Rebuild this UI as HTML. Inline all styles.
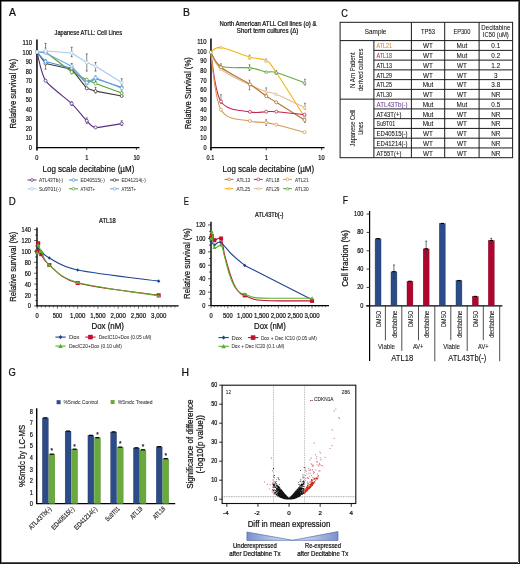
<!DOCTYPE html>
<html><head><meta charset="utf-8"><title>Figure</title>
<style>html,body{margin:0;padding:0;background:#fff;width:520px;height:564px;overflow:hidden;font-family:"Liberation Sans",sans-serif}</style></head><body>
<svg width="520" height="564" viewBox="0 0 520 564" font-family='"Liberation Sans", sans-serif' style="display:block;will-change:transform">
<rect x="0.00" y="0.00" width="520.00" height="564.00" fill="#fff"/>
<text x="9.00" y="15.70" font-size="10.4" text-anchor="start" fill="#111" stroke="#111" stroke-width="0.22" >A</text>
<text x="88.30" y="35.40" font-size="6.6" text-anchor="middle" fill="#111" stroke="#111" stroke-width="0.22" textLength="67.50" lengthAdjust="spacingAndGlyphs" >Japanese ATLL: Cell Lines</text>
<line x1="36.95" y1="39.60" x2="36.95" y2="150.60" stroke="#000" stroke-width="1.5" />
<line x1="36.40" y1="147.55" x2="139.50" y2="147.55" stroke="#000" stroke-width="1.3" />
<line x1="36.90" y1="147.50" x2="36.90" y2="150.00" stroke="#111" stroke-width="0.8" />
<line x1="86.75" y1="147.50" x2="86.75" y2="150.00" stroke="#111" stroke-width="0.8" />
<line x1="136.40" y1="147.50" x2="136.40" y2="150.00" stroke="#111" stroke-width="0.8" />
<text x="32.00" y="150.01" font-size="7.0" text-anchor="end" fill="#111" stroke="#111" stroke-width="0.22" textLength="3.13" lengthAdjust="spacingAndGlyphs" >0</text>
<text x="32.00" y="140.46" font-size="7.0" text-anchor="end" fill="#111" stroke="#111" stroke-width="0.22" textLength="6.26" lengthAdjust="spacingAndGlyphs" >10</text>
<text x="32.00" y="130.91" font-size="7.0" text-anchor="end" fill="#111" stroke="#111" stroke-width="0.22" textLength="6.26" lengthAdjust="spacingAndGlyphs" >20</text>
<text x="32.00" y="121.36" font-size="7.0" text-anchor="end" fill="#111" stroke="#111" stroke-width="0.22" textLength="6.26" lengthAdjust="spacingAndGlyphs" >30</text>
<text x="32.00" y="111.81" font-size="7.0" text-anchor="end" fill="#111" stroke="#111" stroke-width="0.22" textLength="6.26" lengthAdjust="spacingAndGlyphs" >40</text>
<text x="32.00" y="102.26" font-size="7.0" text-anchor="end" fill="#111" stroke="#111" stroke-width="0.22" textLength="6.26" lengthAdjust="spacingAndGlyphs" >50</text>
<text x="32.00" y="92.71" font-size="7.0" text-anchor="end" fill="#111" stroke="#111" stroke-width="0.22" textLength="6.26" lengthAdjust="spacingAndGlyphs" >60</text>
<text x="32.00" y="83.16" font-size="7.0" text-anchor="end" fill="#111" stroke="#111" stroke-width="0.22" textLength="6.26" lengthAdjust="spacingAndGlyphs" >70</text>
<text x="32.00" y="73.61" font-size="7.0" text-anchor="end" fill="#111" stroke="#111" stroke-width="0.22" textLength="6.26" lengthAdjust="spacingAndGlyphs" >80</text>
<text x="32.00" y="64.06" font-size="7.0" text-anchor="end" fill="#111" stroke="#111" stroke-width="0.22" textLength="6.26" lengthAdjust="spacingAndGlyphs" >90</text>
<text x="32.00" y="54.51" font-size="7.0" text-anchor="end" fill="#111" stroke="#111" stroke-width="0.22" textLength="9.39" lengthAdjust="spacingAndGlyphs" >100</text>
<text x="32.00" y="44.96" font-size="7.0" text-anchor="end" fill="#111" stroke="#111" stroke-width="0.22" textLength="9.39" lengthAdjust="spacingAndGlyphs" >110</text>
<text x="36.90" y="160.01" font-size="7.0" text-anchor="middle" fill="#111" stroke="#111" stroke-width="0.22" textLength="3.13" lengthAdjust="spacingAndGlyphs" >0</text>
<text x="86.75" y="160.01" font-size="7.0" text-anchor="middle" fill="#111" stroke="#111" stroke-width="0.22" textLength="3.13" lengthAdjust="spacingAndGlyphs" >1</text>
<text x="136.60" y="160.01" font-size="7.0" text-anchor="middle" fill="#111" stroke="#111" stroke-width="0.22" textLength="6.26" lengthAdjust="spacingAndGlyphs" >10</text>
<text x="88.40" y="171.70" font-size="9.4" text-anchor="middle" fill="#111" stroke="#111" stroke-width="0.22" textLength="91.80" lengthAdjust="spacingAndGlyphs" >Log scale decitabine (µM)</text>
<text x="0" y="0" font-size="8.8" text-anchor="middle" fill="#111" stroke="#111" stroke-width="0.22" textLength="69.70" lengthAdjust="spacingAndGlyphs" transform="translate(16.40 93.65) rotate(-90)">Relative survival (%)</text>
<line x1="45.55" y1="43.41" x2="45.55" y2="48.18" stroke="#333" stroke-width="0.6" />
<line x1="44.55" y1="43.41" x2="46.55" y2="43.41" stroke="#333" stroke-width="0.6" />
<line x1="44.55" y1="48.18" x2="46.55" y2="48.18" stroke="#333" stroke-width="0.6" />
<line x1="45.55" y1="59.64" x2="45.55" y2="69.19" stroke="#333" stroke-width="0.6" />
<line x1="44.55" y1="59.64" x2="46.55" y2="59.64" stroke="#333" stroke-width="0.6" />
<line x1="44.55" y1="69.19" x2="46.55" y2="69.19" stroke="#333" stroke-width="0.6" />
<line x1="71.70" y1="47.23" x2="71.70" y2="56.78" stroke="#333" stroke-width="0.6" />
<line x1="70.70" y1="47.23" x2="72.70" y2="47.23" stroke="#333" stroke-width="0.6" />
<line x1="70.70" y1="56.78" x2="72.70" y2="56.78" stroke="#333" stroke-width="0.6" />
<line x1="71.70" y1="63.46" x2="71.70" y2="73.97" stroke="#333" stroke-width="0.6" />
<line x1="70.70" y1="63.46" x2="72.70" y2="63.46" stroke="#333" stroke-width="0.6" />
<line x1="70.70" y1="73.97" x2="72.70" y2="73.97" stroke="#333" stroke-width="0.6" />
<line x1="86.75" y1="53.91" x2="86.75" y2="71.10" stroke="#333" stroke-width="0.6" />
<line x1="85.75" y1="53.91" x2="87.75" y2="53.91" stroke="#333" stroke-width="0.6" />
<line x1="85.75" y1="71.10" x2="87.75" y2="71.10" stroke="#333" stroke-width="0.6" />
<line x1="95.55" y1="62.51" x2="95.55" y2="71.10" stroke="#333" stroke-width="0.6" />
<line x1="94.55" y1="62.51" x2="96.55" y2="62.51" stroke="#333" stroke-width="0.6" />
<line x1="94.55" y1="71.10" x2="96.55" y2="71.10" stroke="#333" stroke-width="0.6" />
<line x1="95.55" y1="75.88" x2="95.55" y2="81.61" stroke="#333" stroke-width="0.6" />
<line x1="94.55" y1="75.88" x2="96.55" y2="75.88" stroke="#333" stroke-width="0.6" />
<line x1="94.55" y1="81.61" x2="96.55" y2="81.61" stroke="#333" stroke-width="0.6" />
<line x1="95.55" y1="87.34" x2="95.55" y2="93.06" stroke="#333" stroke-width="0.6" />
<line x1="94.55" y1="87.34" x2="96.55" y2="87.34" stroke="#333" stroke-width="0.6" />
<line x1="94.55" y1="93.06" x2="96.55" y2="93.06" stroke="#333" stroke-width="0.6" />
<line x1="121.70" y1="78.74" x2="121.70" y2="86.38" stroke="#333" stroke-width="0.6" />
<line x1="120.70" y1="78.74" x2="122.70" y2="78.74" stroke="#333" stroke-width="0.6" />
<line x1="120.70" y1="86.38" x2="122.70" y2="86.38" stroke="#333" stroke-width="0.6" />
<line x1="121.70" y1="87.34" x2="121.70" y2="92.11" stroke="#333" stroke-width="0.6" />
<line x1="120.70" y1="87.34" x2="122.70" y2="87.34" stroke="#333" stroke-width="0.6" />
<line x1="120.70" y1="92.11" x2="122.70" y2="92.11" stroke="#333" stroke-width="0.6" />
<line x1="86.75" y1="117.89" x2="86.75" y2="123.62" stroke="#333" stroke-width="0.6" />
<line x1="85.75" y1="117.89" x2="87.75" y2="117.89" stroke="#333" stroke-width="0.6" />
<line x1="85.75" y1="123.62" x2="87.75" y2="123.62" stroke="#333" stroke-width="0.6" />
<line x1="71.70" y1="101.66" x2="71.70" y2="105.48" stroke="#333" stroke-width="0.6" />
<line x1="70.70" y1="101.66" x2="72.70" y2="101.66" stroke="#333" stroke-width="0.6" />
<line x1="70.70" y1="105.48" x2="72.70" y2="105.48" stroke="#333" stroke-width="0.6" />
<line x1="121.70" y1="120.76" x2="121.70" y2="125.53" stroke="#333" stroke-width="0.6" />
<line x1="120.70" y1="120.76" x2="122.70" y2="120.76" stroke="#333" stroke-width="0.6" />
<line x1="120.70" y1="125.53" x2="122.70" y2="125.53" stroke="#333" stroke-width="0.6" />
<path d="M36.90,52.00 C37.91,55.34 41.49,74.63 45.55,80.65 C49.61,86.67 66.89,98.89 71.70,103.57 C76.50,108.25 83.97,117.97 86.75,120.76 C89.53,123.55 91.48,127.11 95.55,127.44 C99.63,127.78 118.65,124.07 121.70,123.62" stroke="#5a2d82" stroke-width="1.1" fill="none" stroke-linejoin="round" />
<circle cx="36.90" cy="52.00" r="1.5" fill="#fff" stroke="#5a2d82" stroke-width="0.8"/>
<circle cx="45.55" cy="80.65" r="1.5" fill="#fff" stroke="#5a2d82" stroke-width="0.8"/>
<circle cx="71.70" cy="103.57" r="1.5" fill="#fff" stroke="#5a2d82" stroke-width="0.8"/>
<circle cx="86.75" cy="120.76" r="1.5" fill="#fff" stroke="#5a2d82" stroke-width="0.8"/>
<circle cx="95.55" cy="127.44" r="1.5" fill="#fff" stroke="#5a2d82" stroke-width="0.8"/>
<circle cx="121.70" cy="123.62" r="1.5" fill="#fff" stroke="#5a2d82" stroke-width="0.8"/>
<path d="M36.90,52.00 L45.55,63.46 L71.70,69.19 L86.75,88.29 L95.55,91.16 L121.70,95.93" stroke="#3a3a3a" stroke-width="1.1" fill="none" stroke-linejoin="round" />
<circle cx="36.90" cy="52.00" r="1.5" fill="#fff" stroke="#3a3a3a" stroke-width="0.8"/>
<circle cx="45.55" cy="63.46" r="1.5" fill="#fff" stroke="#3a3a3a" stroke-width="0.8"/>
<circle cx="71.70" cy="69.19" r="1.5" fill="#fff" stroke="#3a3a3a" stroke-width="0.8"/>
<circle cx="86.75" cy="88.29" r="1.5" fill="#fff" stroke="#3a3a3a" stroke-width="0.8"/>
<circle cx="95.55" cy="91.16" r="1.5" fill="#fff" stroke="#3a3a3a" stroke-width="0.8"/>
<circle cx="121.70" cy="95.93" r="1.5" fill="#fff" stroke="#3a3a3a" stroke-width="0.8"/>
<path d="M36.90,52.00 L45.55,52.00 L71.70,72.06 L86.75,79.70 L95.55,83.52 L121.70,93.06" stroke="#5aa02c" stroke-width="1.1" fill="none" stroke-linejoin="round" />
<circle cx="36.90" cy="52.00" r="1.5" fill="#fff" stroke="#5aa02c" stroke-width="0.8"/>
<circle cx="45.55" cy="52.00" r="1.5" fill="#fff" stroke="#5aa02c" stroke-width="0.8"/>
<circle cx="71.70" cy="72.06" r="1.5" fill="#fff" stroke="#5aa02c" stroke-width="0.8"/>
<circle cx="86.75" cy="79.70" r="1.5" fill="#fff" stroke="#5aa02c" stroke-width="0.8"/>
<circle cx="95.55" cy="83.52" r="1.5" fill="#fff" stroke="#5aa02c" stroke-width="0.8"/>
<circle cx="121.70" cy="93.06" r="1.5" fill="#fff" stroke="#5aa02c" stroke-width="0.8"/>
<path d="M36.90,52.00 L45.55,61.55 L71.70,68.23 L86.75,83.52 L95.55,78.74 L121.70,87.34" stroke="#4a8fd0" stroke-width="1.1" fill="none" stroke-linejoin="round" />
<circle cx="36.90" cy="52.00" r="1.5" fill="#fff" stroke="#4a8fd0" stroke-width="0.8"/>
<circle cx="45.55" cy="61.55" r="1.5" fill="#fff" stroke="#4a8fd0" stroke-width="0.8"/>
<circle cx="71.70" cy="68.23" r="1.5" fill="#fff" stroke="#4a8fd0" stroke-width="0.8"/>
<circle cx="86.75" cy="83.52" r="1.5" fill="#fff" stroke="#4a8fd0" stroke-width="0.8"/>
<circle cx="95.55" cy="78.74" r="1.5" fill="#fff" stroke="#4a8fd0" stroke-width="0.8"/>
<circle cx="121.70" cy="87.34" r="1.5" fill="#fff" stroke="#4a8fd0" stroke-width="0.8"/>
<path d="M36.90,52.00 L45.55,52.95 L71.70,66.33 L86.75,82.56 L95.55,77.78 L121.70,88.29" stroke="#6fa8dc" stroke-width="1.1" fill="none" stroke-linejoin="round" />
<circle cx="36.90" cy="52.00" r="1.5" fill="#fff" stroke="#6fa8dc" stroke-width="0.8"/>
<circle cx="45.55" cy="52.95" r="1.5" fill="#fff" stroke="#6fa8dc" stroke-width="0.8"/>
<circle cx="71.70" cy="66.33" r="1.5" fill="#fff" stroke="#6fa8dc" stroke-width="0.8"/>
<circle cx="86.75" cy="82.56" r="1.5" fill="#fff" stroke="#6fa8dc" stroke-width="0.8"/>
<circle cx="95.55" cy="77.78" r="1.5" fill="#fff" stroke="#6fa8dc" stroke-width="0.8"/>
<circle cx="121.70" cy="88.29" r="1.5" fill="#fff" stroke="#6fa8dc" stroke-width="0.8"/>
<path d="M36.90,52.00 L45.55,51.05 L71.70,52.95 L86.75,62.51 L95.55,66.33 L121.70,82.56" stroke="#a8cbea" stroke-width="1.1" fill="none" stroke-linejoin="round" />
<circle cx="36.90" cy="52.00" r="1.5" fill="#fff" stroke="#a8cbea" stroke-width="0.8"/>
<circle cx="45.55" cy="51.05" r="1.5" fill="#fff" stroke="#a8cbea" stroke-width="0.8"/>
<circle cx="71.70" cy="52.95" r="1.5" fill="#fff" stroke="#a8cbea" stroke-width="0.8"/>
<circle cx="86.75" cy="62.51" r="1.5" fill="#fff" stroke="#a8cbea" stroke-width="0.8"/>
<circle cx="95.55" cy="66.33" r="1.5" fill="#fff" stroke="#a8cbea" stroke-width="0.8"/>
<circle cx="121.70" cy="82.56" r="1.5" fill="#fff" stroke="#a8cbea" stroke-width="0.8"/>
<line x1="27.50" y1="180.00" x2="36.50" y2="180.00" stroke="#5a2d82" stroke-width="1.0" />
<circle cx="32.00" cy="180.00" r="1.4" fill="#fff" stroke="#5a2d82" stroke-width="0.7"/>
<text x="39.00" y="182.06" font-size="5.2" text-anchor="start" fill="#333" stroke="#333" stroke-width="0.05" textLength="24.20" lengthAdjust="spacingAndGlyphs" >ATL43Tb(-)</text>
<line x1="69.00" y1="180.00" x2="78.00" y2="180.00" stroke="#4a8fd0" stroke-width="1.0" />
<circle cx="73.50" cy="180.00" r="1.4" fill="#fff" stroke="#4a8fd0" stroke-width="0.7"/>
<text x="80.50" y="182.06" font-size="5.2" text-anchor="start" fill="#333" stroke="#333" stroke-width="0.05" textLength="24.20" lengthAdjust="spacingAndGlyphs" >ED40515(-)</text>
<line x1="110.00" y1="180.00" x2="119.00" y2="180.00" stroke="#3a3a3a" stroke-width="1.0" />
<circle cx="114.50" cy="180.00" r="1.4" fill="#fff" stroke="#3a3a3a" stroke-width="0.7"/>
<text x="121.50" y="182.06" font-size="5.2" text-anchor="start" fill="#333" stroke="#333" stroke-width="0.05" textLength="24.20" lengthAdjust="spacingAndGlyphs" >ED41214(-)</text>
<line x1="27.50" y1="188.80" x2="36.50" y2="188.80" stroke="#a8cbea" stroke-width="1.0" />
<circle cx="32.00" cy="188.80" r="1.4" fill="#fff" stroke="#a8cbea" stroke-width="0.7"/>
<text x="39.00" y="190.86" font-size="5.2" text-anchor="start" fill="#333" stroke="#333" stroke-width="0.05" textLength="21.78" lengthAdjust="spacingAndGlyphs" >Su9T01(-)</text>
<line x1="69.00" y1="188.80" x2="78.00" y2="188.80" stroke="#5aa02c" stroke-width="1.0" />
<circle cx="73.50" cy="188.80" r="1.4" fill="#fff" stroke="#5aa02c" stroke-width="0.7"/>
<text x="80.50" y="190.86" font-size="5.2" text-anchor="start" fill="#333" stroke="#333" stroke-width="0.05" textLength="14.52" lengthAdjust="spacingAndGlyphs" >AT43T+</text>
<line x1="110.00" y1="188.80" x2="119.00" y2="188.80" stroke="#6fa8dc" stroke-width="1.0" />
<circle cx="114.50" cy="188.80" r="1.4" fill="#fff" stroke="#6fa8dc" stroke-width="0.7"/>
<text x="121.50" y="190.86" font-size="5.2" text-anchor="start" fill="#333" stroke="#333" stroke-width="0.05" textLength="14.52" lengthAdjust="spacingAndGlyphs" >AT55T+</text>
<text x="183.00" y="16.30" font-size="10.4" text-anchor="start" fill="#111" stroke="#111" stroke-width="0.22" >B</text>
<text x="268.00" y="26.40" font-size="6.4" text-anchor="middle" fill="#111" stroke="#111" stroke-width="0.22" textLength="97.00" lengthAdjust="spacingAndGlyphs" >North American ATLL Cell lines (o) &amp;</text>
<text x="267.60" y="33.40" font-size="6.4" text-anchor="middle" fill="#111" stroke="#111" stroke-width="0.22" textLength="61.60" lengthAdjust="spacingAndGlyphs" >Short term cultures (Δ)</text>
<line x1="210.95" y1="38.60" x2="210.95" y2="150.20" stroke="#000" stroke-width="1.5" />
<line x1="210.50" y1="147.60" x2="324.50" y2="147.60" stroke="#000" stroke-width="1.3" />
<line x1="211.00" y1="147.60" x2="211.00" y2="150.20" stroke="#111" stroke-width="0.8" />
<line x1="266.20" y1="147.60" x2="266.20" y2="150.20" stroke="#111" stroke-width="0.8" />
<line x1="321.70" y1="147.60" x2="321.70" y2="150.20" stroke="#111" stroke-width="0.8" />
<text x="206.60" y="150.11" font-size="7.0" text-anchor="end" fill="#111" stroke="#111" stroke-width="0.22" textLength="3.13" lengthAdjust="spacingAndGlyphs" >0</text>
<text x="206.60" y="140.48" font-size="7.0" text-anchor="end" fill="#111" stroke="#111" stroke-width="0.22" textLength="6.26" lengthAdjust="spacingAndGlyphs" >10</text>
<text x="206.60" y="130.85" font-size="7.0" text-anchor="end" fill="#111" stroke="#111" stroke-width="0.22" textLength="6.26" lengthAdjust="spacingAndGlyphs" >20</text>
<text x="206.60" y="121.22" font-size="7.0" text-anchor="end" fill="#111" stroke="#111" stroke-width="0.22" textLength="6.26" lengthAdjust="spacingAndGlyphs" >30</text>
<text x="206.60" y="111.59" font-size="7.0" text-anchor="end" fill="#111" stroke="#111" stroke-width="0.22" textLength="6.26" lengthAdjust="spacingAndGlyphs" >40</text>
<text x="206.60" y="101.96" font-size="7.0" text-anchor="end" fill="#111" stroke="#111" stroke-width="0.22" textLength="6.26" lengthAdjust="spacingAndGlyphs" >50</text>
<text x="206.60" y="92.33" font-size="7.0" text-anchor="end" fill="#111" stroke="#111" stroke-width="0.22" textLength="6.26" lengthAdjust="spacingAndGlyphs" >60</text>
<text x="206.60" y="82.70" font-size="7.0" text-anchor="end" fill="#111" stroke="#111" stroke-width="0.22" textLength="6.26" lengthAdjust="spacingAndGlyphs" >70</text>
<text x="206.60" y="73.07" font-size="7.0" text-anchor="end" fill="#111" stroke="#111" stroke-width="0.22" textLength="6.26" lengthAdjust="spacingAndGlyphs" >80</text>
<text x="206.60" y="63.44" font-size="7.0" text-anchor="end" fill="#111" stroke="#111" stroke-width="0.22" textLength="6.26" lengthAdjust="spacingAndGlyphs" >90</text>
<text x="206.60" y="53.81" font-size="7.0" text-anchor="end" fill="#111" stroke="#111" stroke-width="0.22" textLength="9.39" lengthAdjust="spacingAndGlyphs" >100</text>
<text x="206.60" y="44.18" font-size="7.0" text-anchor="end" fill="#111" stroke="#111" stroke-width="0.22" textLength="9.39" lengthAdjust="spacingAndGlyphs" >110</text>
<text x="210.40" y="159.71" font-size="7.0" text-anchor="middle" fill="#111" stroke="#111" stroke-width="0.22" textLength="7.66" lengthAdjust="spacingAndGlyphs" >0.1</text>
<text x="266.20" y="159.71" font-size="7.0" text-anchor="middle" fill="#111" stroke="#111" stroke-width="0.22" textLength="3.13" lengthAdjust="spacingAndGlyphs" >1</text>
<text x="321.50" y="159.71" font-size="7.0" text-anchor="middle" fill="#111" stroke="#111" stroke-width="0.22" textLength="6.26" lengthAdjust="spacingAndGlyphs" >10</text>
<text x="268.30" y="171.70" font-size="9.4" text-anchor="middle" fill="#111" stroke="#111" stroke-width="0.22" textLength="91.50" lengthAdjust="spacingAndGlyphs" >Log scale decitabine (µM)</text>
<text x="0" y="0" font-size="8.8" text-anchor="middle" fill="#111" stroke="#111" stroke-width="0.22" textLength="72.30" lengthAdjust="spacingAndGlyphs" transform="translate(191.20 93.20) rotate(-90)">Relative Survival (%)</text>
<line x1="220.95" y1="94.63" x2="220.95" y2="103.30" stroke="#444" stroke-width="0.6" />
<line x1="220.05" y1="94.63" x2="221.85" y2="94.63" stroke="#444" stroke-width="0.6" />
<line x1="220.05" y1="103.30" x2="221.85" y2="103.30" stroke="#444" stroke-width="0.6" />
<line x1="249.49" y1="80.19" x2="249.49" y2="89.82" stroke="#444" stroke-width="0.6" />
<line x1="248.59" y1="80.19" x2="250.39" y2="80.19" stroke="#444" stroke-width="0.6" />
<line x1="248.59" y1="89.82" x2="250.39" y2="89.82" stroke="#444" stroke-width="0.6" />
<line x1="249.49" y1="55.15" x2="249.49" y2="59.00" stroke="#444" stroke-width="0.6" />
<line x1="248.59" y1="55.15" x2="250.39" y2="55.15" stroke="#444" stroke-width="0.6" />
<line x1="248.59" y1="59.00" x2="250.39" y2="59.00" stroke="#444" stroke-width="0.6" />
<line x1="249.49" y1="64.78" x2="249.49" y2="70.56" stroke="#444" stroke-width="0.6" />
<line x1="248.59" y1="64.78" x2="250.39" y2="64.78" stroke="#444" stroke-width="0.6" />
<line x1="248.59" y1="70.56" x2="250.39" y2="70.56" stroke="#444" stroke-width="0.6" />
<line x1="266.20" y1="87.89" x2="266.20" y2="94.63" stroke="#444" stroke-width="0.6" />
<line x1="265.30" y1="87.89" x2="267.10" y2="87.89" stroke="#444" stroke-width="0.6" />
<line x1="265.30" y1="94.63" x2="267.10" y2="94.63" stroke="#444" stroke-width="0.6" />
<line x1="266.20" y1="119.67" x2="266.20" y2="125.45" stroke="#444" stroke-width="0.6" />
<line x1="265.30" y1="119.67" x2="267.10" y2="119.67" stroke="#444" stroke-width="0.6" />
<line x1="265.30" y1="125.45" x2="267.10" y2="125.45" stroke="#444" stroke-width="0.6" />
<line x1="304.99" y1="79.23" x2="304.99" y2="85.00" stroke="#444" stroke-width="0.6" />
<line x1="304.09" y1="79.23" x2="305.89" y2="79.23" stroke="#444" stroke-width="0.6" />
<line x1="304.09" y1="85.00" x2="305.89" y2="85.00" stroke="#444" stroke-width="0.6" />
<line x1="304.99" y1="103.30" x2="304.99" y2="109.08" stroke="#444" stroke-width="0.6" />
<line x1="304.09" y1="103.30" x2="305.89" y2="103.30" stroke="#444" stroke-width="0.6" />
<line x1="304.09" y1="109.08" x2="305.89" y2="109.08" stroke="#444" stroke-width="0.6" />
<line x1="304.99" y1="115.82" x2="304.99" y2="122.56" stroke="#444" stroke-width="0.6" />
<line x1="304.09" y1="115.82" x2="305.89" y2="115.82" stroke="#444" stroke-width="0.6" />
<line x1="304.09" y1="122.56" x2="305.89" y2="122.56" stroke="#444" stroke-width="0.6" />
<line x1="276.29" y1="70.56" x2="276.29" y2="74.41" stroke="#444" stroke-width="0.6" />
<line x1="275.39" y1="70.56" x2="277.19" y2="70.56" stroke="#444" stroke-width="0.6" />
<line x1="275.39" y1="74.41" x2="277.19" y2="74.41" stroke="#444" stroke-width="0.6" />
<line x1="266.20" y1="59.00" x2="266.20" y2="61.89" stroke="#444" stroke-width="0.6" />
<line x1="265.30" y1="59.00" x2="267.10" y2="59.00" stroke="#444" stroke-width="0.6" />
<line x1="265.30" y1="61.89" x2="267.10" y2="61.89" stroke="#444" stroke-width="0.6" />
<line x1="220.95" y1="63.82" x2="220.95" y2="67.67" stroke="#444" stroke-width="0.6" />
<line x1="220.05" y1="63.82" x2="221.85" y2="63.82" stroke="#444" stroke-width="0.6" />
<line x1="220.05" y1="67.67" x2="221.85" y2="67.67" stroke="#444" stroke-width="0.6" />
<path d="M210.70,52.26 C212.41,51.46 214.41,46.65 220.95,47.45 C227.50,48.25 242.43,54.90 249.97,57.08 C257.51,59.26 261.81,57.98 266.20,60.54 C270.59,63.11 269.91,63.11 276.29,72.49 C282.68,81.86 299.80,109.40 304.51,116.78" stroke="#f2b417" stroke-width="1.1" fill="none" stroke-linejoin="round" />
<path d="M219.35,48.65 L220.95,45.85 L222.55,48.65 Z" fill="#fff" stroke="#f2b417" stroke-width="0.7"/>
<path d="M248.37,58.28 L249.97,55.48 L251.57,58.28 Z" fill="#fff" stroke="#f2b417" stroke-width="0.7"/>
<path d="M264.60,61.74 L266.20,58.94 L267.80,61.74 Z" fill="#fff" stroke="#f2b417" stroke-width="0.7"/>
<path d="M274.69,73.69 L276.29,70.89 L277.89,73.69 Z" fill="#fff" stroke="#f2b417" stroke-width="0.7"/>
<path d="M302.91,117.98 L304.51,115.18 L306.11,117.98 Z" fill="#fff" stroke="#f2b417" stroke-width="0.7"/>
<path d="M210.70,52.26 C212.41,54.61 214.41,63.72 220.95,66.32 C227.50,68.92 242.43,66.93 249.97,67.86 C257.51,68.79 261.81,71.14 266.20,71.91 C270.59,72.68 269.91,70.67 276.29,72.49 C282.68,74.30 299.80,81.07 304.51,82.79" stroke="#62ad3e" stroke-width="1.1" fill="none" stroke-linejoin="round" />
<path d="M219.35,67.52 L220.95,64.72 L222.55,67.52 Z" fill="#fff" stroke="#62ad3e" stroke-width="0.7"/>
<path d="M248.37,69.06 L249.97,66.26 L251.57,69.06 Z" fill="#fff" stroke="#62ad3e" stroke-width="0.7"/>
<path d="M264.60,73.11 L266.20,70.31 L267.80,73.11 Z" fill="#fff" stroke="#62ad3e" stroke-width="0.7"/>
<path d="M274.69,73.69 L276.29,70.89 L277.89,73.69 Z" fill="#fff" stroke="#62ad3e" stroke-width="0.7"/>
<path d="M302.91,83.99 L304.51,81.19 L306.11,83.99 Z" fill="#fff" stroke="#62ad3e" stroke-width="0.7"/>
<path d="M210.70,52.26 C212.41,55.09 214.41,63.75 220.95,69.21 C227.50,74.67 242.43,81.25 249.97,85.00 C257.51,88.76 261.81,90.22 266.20,91.75 C270.59,93.27 269.91,91.52 276.29,94.15 C282.68,96.79 299.80,105.31 304.51,107.54" stroke="#e2bc8f" stroke-width="1.1" fill="none" stroke-linejoin="round" />
<path d="M219.35,70.41 L220.95,67.61 L222.55,70.41 Z" fill="#fff" stroke="#e2bc8f" stroke-width="0.7"/>
<path d="M248.37,86.20 L249.97,83.41 L251.57,86.20 Z" fill="#fff" stroke="#e2bc8f" stroke-width="0.7"/>
<path d="M264.60,92.95 L266.20,90.15 L267.80,92.95 Z" fill="#fff" stroke="#e2bc8f" stroke-width="0.7"/>
<path d="M274.69,95.35 L276.29,92.55 L277.89,95.35 Z" fill="#fff" stroke="#e2bc8f" stroke-width="0.7"/>
<path d="M302.91,108.74 L304.51,105.94 L306.11,108.74 Z" fill="#fff" stroke="#e2bc8f" stroke-width="0.7"/>
<path d="M210.70,52.26 C212.41,54.77 214.41,61.94 220.95,67.29 C227.50,72.63 242.43,79.53 249.97,84.33 C257.51,89.13 261.81,93.08 266.20,96.08 C270.59,99.08 269.91,98.36 276.29,102.34 C282.68,106.32 299.80,117.02 304.51,119.96" stroke="#b57330" stroke-width="1.1" fill="none" stroke-linejoin="round" />
<circle cx="220.95" cy="67.29" r="1.5" fill="#fff" stroke="#b57330" stroke-width="0.8"/>
<circle cx="249.97" cy="84.33" r="1.5" fill="#fff" stroke="#b57330" stroke-width="0.8"/>
<circle cx="266.20" cy="96.08" r="1.5" fill="#fff" stroke="#b57330" stroke-width="0.8"/>
<circle cx="276.29" cy="102.34" r="1.5" fill="#fff" stroke="#b57330" stroke-width="0.8"/>
<circle cx="304.51" cy="119.96" r="1.5" fill="#fff" stroke="#b57330" stroke-width="0.8"/>
<path d="M210.70,52.26 C212.41,60.46 214.41,91.54 220.95,101.47 C227.50,111.41 242.43,110.17 249.97,111.87 C257.51,113.57 261.81,111.71 266.20,111.68 C270.59,111.65 269.91,111.18 276.29,111.68 C282.68,112.18 299.80,114.17 304.51,114.67" stroke="#c4264f" stroke-width="1.1" fill="none" stroke-linejoin="round" />
<circle cx="220.95" cy="101.47" r="1.5" fill="#fff" stroke="#c4264f" stroke-width="0.8"/>
<circle cx="249.97" cy="111.87" r="1.5" fill="#fff" stroke="#c4264f" stroke-width="0.8"/>
<circle cx="266.20" cy="111.68" r="1.5" fill="#fff" stroke="#c4264f" stroke-width="0.8"/>
<circle cx="276.29" cy="111.68" r="1.5" fill="#fff" stroke="#c4264f" stroke-width="0.8"/>
<circle cx="304.51" cy="114.67" r="1.5" fill="#fff" stroke="#c4264f" stroke-width="0.8"/>
<path d="M210.70,52.26 C212.41,61.84 214.41,98.29 220.95,109.75 C227.50,121.21 242.43,118.89 249.97,121.02 C257.51,123.16 261.81,121.95 266.20,122.56 C270.59,123.17 269.91,123.06 276.29,124.68 C282.68,126.30 299.80,131.02 304.51,132.29" stroke="#d49c55" stroke-width="1.1" fill="none" stroke-linejoin="round" />
<circle cx="220.95" cy="109.75" r="1.5" fill="#fff" stroke="#d49c55" stroke-width="0.8"/>
<circle cx="249.97" cy="121.02" r="1.5" fill="#fff" stroke="#d49c55" stroke-width="0.8"/>
<circle cx="266.20" cy="122.56" r="1.5" fill="#fff" stroke="#d49c55" stroke-width="0.8"/>
<circle cx="276.29" cy="124.68" r="1.5" fill="#fff" stroke="#d49c55" stroke-width="0.8"/>
<circle cx="304.51" cy="132.29" r="1.5" fill="#fff" stroke="#d49c55" stroke-width="0.8"/>
<circle cx="210.70" cy="52.26" r="1.5" fill="#fff" stroke="#62ad3e" stroke-width="0.8"/>
<line x1="224.60" y1="179.40" x2="233.60" y2="179.40" stroke="#b57330" stroke-width="1.0" />
<circle cx="229.10" cy="179.40" r="1.4" fill="#fff" stroke="#b57330" stroke-width="0.7"/>
<text x="236.60" y="181.73" font-size="5.4" text-anchor="start" fill="#333" stroke="#333" stroke-width="0.05" textLength="13.60" lengthAdjust="spacingAndGlyphs" >ATL13</text>
<line x1="253.80" y1="179.40" x2="262.80" y2="179.40" stroke="#c4264f" stroke-width="1.0" />
<circle cx="258.30" cy="179.40" r="1.4" fill="#fff" stroke="#c4264f" stroke-width="0.7"/>
<text x="265.80" y="181.73" font-size="5.4" text-anchor="start" fill="#333" stroke="#333" stroke-width="0.05" textLength="13.60" lengthAdjust="spacingAndGlyphs" >ATL18</text>
<line x1="283.00" y1="179.40" x2="292.00" y2="179.40" stroke="#d49c55" stroke-width="1.0" />
<circle cx="287.50" cy="179.40" r="1.4" fill="#fff" stroke="#d49c55" stroke-width="0.7"/>
<text x="295.00" y="181.73" font-size="5.4" text-anchor="start" fill="#333" stroke="#333" stroke-width="0.05" textLength="13.60" lengthAdjust="spacingAndGlyphs" >ATL21</text>
<line x1="224.60" y1="188.60" x2="233.60" y2="188.60" stroke="#f2b417" stroke-width="1.0" />
<path d="M227.50,189.80 L229.10,187.00 L230.70,189.80 Z" fill="#fff" stroke="#f2b417" stroke-width="0.6"/>
<text x="236.60" y="190.93" font-size="5.4" text-anchor="start" fill="#333" stroke="#333" stroke-width="0.05" textLength="13.60" lengthAdjust="spacingAndGlyphs" >ATL25</text>
<line x1="253.80" y1="188.60" x2="262.80" y2="188.60" stroke="#e2bc8f" stroke-width="1.0" />
<path d="M256.70,189.80 L258.30,187.00 L259.90,189.80 Z" fill="#fff" stroke="#e2bc8f" stroke-width="0.6"/>
<text x="265.80" y="190.93" font-size="5.4" text-anchor="start" fill="#333" stroke="#333" stroke-width="0.05" textLength="13.60" lengthAdjust="spacingAndGlyphs" >ATL29</text>
<line x1="283.00" y1="188.60" x2="292.00" y2="188.60" stroke="#62ad3e" stroke-width="1.0" />
<path d="M285.90,189.80 L287.50,187.00 L289.10,189.80 Z" fill="#fff" stroke="#62ad3e" stroke-width="0.6"/>
<text x="295.00" y="190.93" font-size="5.4" text-anchor="start" fill="#333" stroke="#333" stroke-width="0.05" textLength="13.60" lengthAdjust="spacingAndGlyphs" >ATL30</text>
<text x="341.20" y="16.50" font-size="10.4" text-anchor="start" fill="#111" stroke="#111" stroke-width="0.22" textLength="6.60" lengthAdjust="spacingAndGlyphs" >C</text>
<rect x="340.1" y="22.3" width="172.50" height="135.40" fill="none" stroke="#1a1a1a" stroke-width="1.0"/>
<line x1="340.10" y1="40.60" x2="512.60" y2="40.60" stroke="#1a1a1a" stroke-width="1.0" />
<line x1="411.40" y1="22.30" x2="411.40" y2="157.70" stroke="#1a1a1a" stroke-width="1.0" />
<line x1="444.70" y1="22.30" x2="444.70" y2="157.70" stroke="#1a1a1a" stroke-width="1.0" />
<line x1="479.10" y1="22.30" x2="479.10" y2="157.70" stroke="#1a1a1a" stroke-width="1.0" />
<line x1="373.90" y1="40.60" x2="373.90" y2="157.70" stroke="#1a1a1a" stroke-width="1.0" />
<line x1="373.90" y1="50.36" x2="512.60" y2="50.36" stroke="#1a1a1a" stroke-width="1.0" />
<line x1="373.90" y1="60.12" x2="512.60" y2="60.12" stroke="#1a1a1a" stroke-width="1.0" />
<line x1="373.90" y1="69.88" x2="512.60" y2="69.88" stroke="#1a1a1a" stroke-width="1.0" />
<line x1="373.90" y1="79.63" x2="512.60" y2="79.63" stroke="#1a1a1a" stroke-width="1.0" />
<line x1="373.90" y1="89.39" x2="512.60" y2="89.39" stroke="#1a1a1a" stroke-width="1.0" />
<line x1="340.10" y1="99.15" x2="512.60" y2="99.15" stroke="#1a1a1a" stroke-width="1.0" />
<line x1="373.90" y1="108.91" x2="512.60" y2="108.91" stroke="#1a1a1a" stroke-width="1.0" />
<line x1="373.90" y1="118.67" x2="512.60" y2="118.67" stroke="#1a1a1a" stroke-width="1.0" />
<line x1="373.90" y1="128.42" x2="512.60" y2="128.42" stroke="#1a1a1a" stroke-width="1.0" />
<line x1="373.90" y1="138.18" x2="512.60" y2="138.18" stroke="#1a1a1a" stroke-width="1.0" />
<line x1="373.90" y1="147.94" x2="512.60" y2="147.94" stroke="#1a1a1a" stroke-width="1.0" />
<text x="375.60" y="33.86" font-size="6.6" text-anchor="middle" fill="#111" stroke="#111" stroke-width="0.06" textLength="21.50" lengthAdjust="spacingAndGlyphs" >Sample</text>
<text x="428.00" y="33.86" font-size="6.6" text-anchor="middle" fill="#111" stroke="#111" stroke-width="0.06" textLength="14.00" lengthAdjust="spacingAndGlyphs" >TP53</text>
<text x="461.90" y="33.86" font-size="6.6" text-anchor="middle" fill="#111" stroke="#111" stroke-width="0.06" textLength="17.00" lengthAdjust="spacingAndGlyphs" >EP300</text>
<text x="495.80" y="30.09" font-size="6.4" text-anchor="middle" fill="#111" stroke="#111" stroke-width="0.06" textLength="29.00" lengthAdjust="spacingAndGlyphs" >Decitabine</text>
<text x="495.80" y="36.99" font-size="6.4" text-anchor="middle" fill="#111" stroke="#111" stroke-width="0.06" textLength="26.00" lengthAdjust="spacingAndGlyphs" >IC50 (uM)</text>
<text x="376.60" y="48.37" font-size="6.4" text-anchor="start" fill="#d98a2b" stroke="#d98a2b" stroke-width="0.06" textLength="15.50" lengthAdjust="spacingAndGlyphs" >ATL21</text>
<text x="428.00" y="48.37" font-size="6.4" text-anchor="middle" fill="#111" stroke="#111" stroke-width="0.06" >WT</text>
<text x="461.90" y="48.37" font-size="6.4" text-anchor="middle" fill="#111" stroke="#111" stroke-width="0.06" >Mut</text>
<text x="495.80" y="48.37" font-size="6.4" text-anchor="middle" fill="#111" stroke="#111" stroke-width="0.06" >0.1</text>
<text x="376.60" y="58.13" font-size="6.4" text-anchor="start" fill="#c8264e" stroke="#c8264e" stroke-width="0.06" textLength="15.50" lengthAdjust="spacingAndGlyphs" >ATL18</text>
<text x="428.00" y="58.13" font-size="6.4" text-anchor="middle" fill="#111" stroke="#111" stroke-width="0.06" >WT</text>
<text x="461.90" y="58.13" font-size="6.4" text-anchor="middle" fill="#111" stroke="#111" stroke-width="0.06" >Mut</text>
<text x="495.80" y="58.13" font-size="6.4" text-anchor="middle" fill="#111" stroke="#111" stroke-width="0.06" >0.2</text>
<text x="376.60" y="67.89" font-size="6.4" text-anchor="start" fill="#111" stroke="#111" stroke-width="0.06" textLength="15.50" lengthAdjust="spacingAndGlyphs" >ATL13</text>
<text x="428.00" y="67.89" font-size="6.4" text-anchor="middle" fill="#111" stroke="#111" stroke-width="0.06" >WT</text>
<text x="461.90" y="67.89" font-size="6.4" text-anchor="middle" fill="#111" stroke="#111" stroke-width="0.06" >WT</text>
<text x="495.80" y="67.89" font-size="6.4" text-anchor="middle" fill="#111" stroke="#111" stroke-width="0.06" >1.2</text>
<text x="376.60" y="77.65" font-size="6.4" text-anchor="start" fill="#111" stroke="#111" stroke-width="0.06" textLength="15.50" lengthAdjust="spacingAndGlyphs" >ATL29</text>
<text x="428.00" y="77.65" font-size="6.4" text-anchor="middle" fill="#111" stroke="#111" stroke-width="0.06" >WT</text>
<text x="461.90" y="77.65" font-size="6.4" text-anchor="middle" fill="#111" stroke="#111" stroke-width="0.06" >WT</text>
<text x="495.80" y="77.65" font-size="6.4" text-anchor="middle" fill="#111" stroke="#111" stroke-width="0.06" >3</text>
<text x="376.60" y="87.40" font-size="6.4" text-anchor="start" fill="#111" stroke="#111" stroke-width="0.06" textLength="15.50" lengthAdjust="spacingAndGlyphs" >ATL25</text>
<text x="428.00" y="87.40" font-size="6.4" text-anchor="middle" fill="#111" stroke="#111" stroke-width="0.06" >Mut</text>
<text x="461.90" y="87.40" font-size="6.4" text-anchor="middle" fill="#111" stroke="#111" stroke-width="0.06" >WT</text>
<text x="495.80" y="87.40" font-size="6.4" text-anchor="middle" fill="#111" stroke="#111" stroke-width="0.06" >3.8</text>
<text x="376.60" y="97.16" font-size="6.4" text-anchor="start" fill="#111" stroke="#111" stroke-width="0.06" textLength="15.50" lengthAdjust="spacingAndGlyphs" >ATL30</text>
<text x="428.00" y="97.16" font-size="6.4" text-anchor="middle" fill="#111" stroke="#111" stroke-width="0.06" >WT</text>
<text x="461.90" y="97.16" font-size="6.4" text-anchor="middle" fill="#111" stroke="#111" stroke-width="0.06" >WT</text>
<text x="495.80" y="97.16" font-size="6.4" text-anchor="middle" fill="#111" stroke="#111" stroke-width="0.06" >NR</text>
<text x="376.60" y="106.92" font-size="6.4" text-anchor="start" fill="#6b3d94" stroke="#6b3d94" stroke-width="0.06" textLength="31.00" lengthAdjust="spacingAndGlyphs" >ATL43Tb(-)</text>
<text x="428.00" y="106.92" font-size="6.4" text-anchor="middle" fill="#111" stroke="#111" stroke-width="0.06" >Mut</text>
<text x="461.90" y="106.92" font-size="6.4" text-anchor="middle" fill="#111" stroke="#111" stroke-width="0.06" >Mut</text>
<text x="495.80" y="106.92" font-size="6.4" text-anchor="middle" fill="#111" stroke="#111" stroke-width="0.06" >0.5</text>
<text x="376.60" y="116.68" font-size="6.4" text-anchor="start" fill="#111" stroke="#111" stroke-width="0.06" textLength="24.80" lengthAdjust="spacingAndGlyphs" >AT43T(+)</text>
<text x="428.00" y="116.68" font-size="6.4" text-anchor="middle" fill="#111" stroke="#111" stroke-width="0.06" >Mut</text>
<text x="461.90" y="116.68" font-size="6.4" text-anchor="middle" fill="#111" stroke="#111" stroke-width="0.06" >WT</text>
<text x="495.80" y="116.68" font-size="6.4" text-anchor="middle" fill="#111" stroke="#111" stroke-width="0.06" >NR</text>
<text x="376.60" y="126.44" font-size="6.4" text-anchor="start" fill="#111" stroke="#111" stroke-width="0.06" textLength="18.60" lengthAdjust="spacingAndGlyphs" >Su9T01</text>
<text x="428.00" y="126.44" font-size="6.4" text-anchor="middle" fill="#111" stroke="#111" stroke-width="0.06" >Mut</text>
<text x="461.90" y="126.44" font-size="6.4" text-anchor="middle" fill="#111" stroke="#111" stroke-width="0.06" >WT</text>
<text x="495.80" y="126.44" font-size="6.4" text-anchor="middle" fill="#111" stroke="#111" stroke-width="0.06" >NR</text>
<text x="376.60" y="136.20" font-size="6.4" text-anchor="start" fill="#111" stroke="#111" stroke-width="0.06" textLength="31.00" lengthAdjust="spacingAndGlyphs" >ED40515(-)</text>
<text x="428.00" y="136.20" font-size="6.4" text-anchor="middle" fill="#111" stroke="#111" stroke-width="0.06" >WT</text>
<text x="461.90" y="136.20" font-size="6.4" text-anchor="middle" fill="#111" stroke="#111" stroke-width="0.06" >WT</text>
<text x="495.80" y="136.20" font-size="6.4" text-anchor="middle" fill="#111" stroke="#111" stroke-width="0.06" >NR</text>
<text x="376.60" y="145.95" font-size="6.4" text-anchor="start" fill="#111" stroke="#111" stroke-width="0.06" textLength="31.00" lengthAdjust="spacingAndGlyphs" >ED41214(-)</text>
<text x="428.00" y="145.95" font-size="6.4" text-anchor="middle" fill="#111" stroke="#111" stroke-width="0.06" >WT</text>
<text x="461.90" y="145.95" font-size="6.4" text-anchor="middle" fill="#111" stroke="#111" stroke-width="0.06" >WT</text>
<text x="495.80" y="145.95" font-size="6.4" text-anchor="middle" fill="#111" stroke="#111" stroke-width="0.06" >NR</text>
<text x="376.60" y="155.71" font-size="6.4" text-anchor="start" fill="#111" stroke="#111" stroke-width="0.06" textLength="24.80" lengthAdjust="spacingAndGlyphs" >AT55T(+)</text>
<text x="428.00" y="155.71" font-size="6.4" text-anchor="middle" fill="#111" stroke="#111" stroke-width="0.06" >WT</text>
<text x="461.90" y="155.71" font-size="6.4" text-anchor="middle" fill="#111" stroke="#111" stroke-width="0.06" >WT</text>
<text x="495.80" y="155.71" font-size="6.4" text-anchor="middle" fill="#111" stroke="#111" stroke-width="0.06" >NR</text>
<text x="0" y="0" font-size="6.4" text-anchor="middle" fill="#111" stroke="#111" stroke-width="0.06" textLength="35.60" lengthAdjust="spacingAndGlyphs" transform="translate(355.40 70.10) rotate(-90)">N Am Patient</text>
<text x="0" y="0" font-size="6.4" text-anchor="middle" fill="#111" stroke="#111" stroke-width="0.06" textLength="42.50" lengthAdjust="spacingAndGlyphs" transform="translate(363.30 69.80) rotate(-90)">derived cultures</text>
<text x="0" y="0" font-size="6.4" text-anchor="middle" fill="#111" stroke="#111" stroke-width="0.06" textLength="36.20" lengthAdjust="spacingAndGlyphs" transform="translate(355.40 128.30) rotate(-90)">Japanese Cell</text>
<text x="0" y="0" font-size="6.4" text-anchor="middle" fill="#111" stroke="#111" stroke-width="0.06" textLength="12.80" lengthAdjust="spacingAndGlyphs" transform="translate(363.00 128.30) rotate(-90)">Lines</text>
<text x="8.70" y="204.60" font-size="11.0" text-anchor="start" fill="#111" stroke="#111" stroke-width="0.22" textLength="7.00" lengthAdjust="spacingAndGlyphs" >D</text>
<text x="107.40" y="222.96" font-size="6.6" text-anchor="middle" fill="#111" stroke="#111" stroke-width="0.22" textLength="16.80" lengthAdjust="spacingAndGlyphs" >ATL18</text>
<line x1="37.00" y1="227.40" x2="37.00" y2="306.40" stroke="#000" stroke-width="1.4" />
<line x1="36.70" y1="305.90" x2="178.60" y2="305.90" stroke="#000" stroke-width="1.3" />
<line x1="34.20" y1="305.90" x2="37.20" y2="305.90" stroke="#111" stroke-width="0.7" />
<line x1="35.20" y1="300.45" x2="37.20" y2="300.45" stroke="#111" stroke-width="0.7" />
<line x1="34.20" y1="295.01" x2="37.20" y2="295.01" stroke="#111" stroke-width="0.7" />
<line x1="35.20" y1="289.56" x2="37.20" y2="289.56" stroke="#111" stroke-width="0.7" />
<line x1="34.20" y1="284.12" x2="37.20" y2="284.12" stroke="#111" stroke-width="0.7" />
<line x1="35.20" y1="278.67" x2="37.20" y2="278.67" stroke="#111" stroke-width="0.7" />
<line x1="34.20" y1="273.23" x2="37.20" y2="273.23" stroke="#111" stroke-width="0.7" />
<line x1="35.20" y1="267.78" x2="37.20" y2="267.78" stroke="#111" stroke-width="0.7" />
<line x1="34.20" y1="262.34" x2="37.20" y2="262.34" stroke="#111" stroke-width="0.7" />
<line x1="35.20" y1="256.89" x2="37.20" y2="256.89" stroke="#111" stroke-width="0.7" />
<line x1="34.20" y1="251.45" x2="37.20" y2="251.45" stroke="#111" stroke-width="0.7" />
<line x1="35.20" y1="246.00" x2="37.20" y2="246.00" stroke="#111" stroke-width="0.7" />
<line x1="34.20" y1="240.56" x2="37.20" y2="240.56" stroke="#111" stroke-width="0.7" />
<line x1="35.20" y1="235.11" x2="37.20" y2="235.11" stroke="#111" stroke-width="0.7" />
<line x1="34.20" y1="229.67" x2="37.20" y2="229.67" stroke="#111" stroke-width="0.7" />
<text x="31.00" y="308.41" font-size="7.0" text-anchor="end" fill="#111" stroke="#111" stroke-width="0.22" textLength="3.13" lengthAdjust="spacingAndGlyphs" >0</text>
<text x="31.00" y="297.52" font-size="7.0" text-anchor="end" fill="#111" stroke="#111" stroke-width="0.22" textLength="6.26" lengthAdjust="spacingAndGlyphs" >20</text>
<text x="31.00" y="286.63" font-size="7.0" text-anchor="end" fill="#111" stroke="#111" stroke-width="0.22" textLength="6.26" lengthAdjust="spacingAndGlyphs" >40</text>
<text x="31.00" y="275.74" font-size="7.0" text-anchor="end" fill="#111" stroke="#111" stroke-width="0.22" textLength="6.26" lengthAdjust="spacingAndGlyphs" >60</text>
<text x="31.00" y="264.85" font-size="7.0" text-anchor="end" fill="#111" stroke="#111" stroke-width="0.22" textLength="6.26" lengthAdjust="spacingAndGlyphs" >80</text>
<text x="31.00" y="253.96" font-size="7.0" text-anchor="end" fill="#111" stroke="#111" stroke-width="0.22" textLength="9.39" lengthAdjust="spacingAndGlyphs" >100</text>
<text x="31.00" y="243.07" font-size="7.0" text-anchor="end" fill="#111" stroke="#111" stroke-width="0.22" textLength="9.39" lengthAdjust="spacingAndGlyphs" >120</text>
<text x="31.00" y="232.18" font-size="7.0" text-anchor="end" fill="#111" stroke="#111" stroke-width="0.22" textLength="9.39" lengthAdjust="spacingAndGlyphs" >140</text>
<line x1="37.20" y1="305.90" x2="37.20" y2="308.70" stroke="#111" stroke-width="0.6" />
<line x1="41.25" y1="305.90" x2="41.25" y2="307.50" stroke="#111" stroke-width="0.6" />
<line x1="45.30" y1="305.90" x2="45.30" y2="307.50" stroke="#111" stroke-width="0.6" />
<line x1="49.35" y1="305.90" x2="49.35" y2="307.50" stroke="#111" stroke-width="0.6" />
<line x1="53.40" y1="305.90" x2="53.40" y2="307.50" stroke="#111" stroke-width="0.6" />
<line x1="57.45" y1="305.90" x2="57.45" y2="308.70" stroke="#111" stroke-width="0.6" />
<line x1="61.50" y1="305.90" x2="61.50" y2="307.50" stroke="#111" stroke-width="0.6" />
<line x1="65.55" y1="305.90" x2="65.55" y2="307.50" stroke="#111" stroke-width="0.6" />
<line x1="69.60" y1="305.90" x2="69.60" y2="307.50" stroke="#111" stroke-width="0.6" />
<line x1="73.65" y1="305.90" x2="73.65" y2="307.50" stroke="#111" stroke-width="0.6" />
<line x1="77.70" y1="305.90" x2="77.70" y2="308.70" stroke="#111" stroke-width="0.6" />
<line x1="81.75" y1="305.90" x2="81.75" y2="307.50" stroke="#111" stroke-width="0.6" />
<line x1="85.80" y1="305.90" x2="85.80" y2="307.50" stroke="#111" stroke-width="0.6" />
<line x1="89.85" y1="305.90" x2="89.85" y2="307.50" stroke="#111" stroke-width="0.6" />
<line x1="93.90" y1="305.90" x2="93.90" y2="307.50" stroke="#111" stroke-width="0.6" />
<line x1="97.95" y1="305.90" x2="97.95" y2="308.70" stroke="#111" stroke-width="0.6" />
<line x1="102.00" y1="305.90" x2="102.00" y2="307.50" stroke="#111" stroke-width="0.6" />
<line x1="106.05" y1="305.90" x2="106.05" y2="307.50" stroke="#111" stroke-width="0.6" />
<line x1="110.10" y1="305.90" x2="110.10" y2="307.50" stroke="#111" stroke-width="0.6" />
<line x1="114.15" y1="305.90" x2="114.15" y2="307.50" stroke="#111" stroke-width="0.6" />
<line x1="118.20" y1="305.90" x2="118.20" y2="308.70" stroke="#111" stroke-width="0.6" />
<line x1="122.25" y1="305.90" x2="122.25" y2="307.50" stroke="#111" stroke-width="0.6" />
<line x1="126.30" y1="305.90" x2="126.30" y2="307.50" stroke="#111" stroke-width="0.6" />
<line x1="130.35" y1="305.90" x2="130.35" y2="307.50" stroke="#111" stroke-width="0.6" />
<line x1="134.40" y1="305.90" x2="134.40" y2="307.50" stroke="#111" stroke-width="0.6" />
<line x1="138.45" y1="305.90" x2="138.45" y2="308.70" stroke="#111" stroke-width="0.6" />
<line x1="142.50" y1="305.90" x2="142.50" y2="307.50" stroke="#111" stroke-width="0.6" />
<line x1="146.55" y1="305.90" x2="146.55" y2="307.50" stroke="#111" stroke-width="0.6" />
<line x1="150.60" y1="305.90" x2="150.60" y2="307.50" stroke="#111" stroke-width="0.6" />
<line x1="154.65" y1="305.90" x2="154.65" y2="307.50" stroke="#111" stroke-width="0.6" />
<line x1="158.70" y1="305.90" x2="158.70" y2="308.70" stroke="#111" stroke-width="0.6" />
<line x1="162.75" y1="305.90" x2="162.75" y2="307.50" stroke="#111" stroke-width="0.6" />
<line x1="166.80" y1="305.90" x2="166.80" y2="307.50" stroke="#111" stroke-width="0.6" />
<line x1="170.85" y1="305.90" x2="170.85" y2="307.50" stroke="#111" stroke-width="0.6" />
<line x1="174.90" y1="305.90" x2="174.90" y2="307.50" stroke="#111" stroke-width="0.6" />
<text x="37.20" y="318.11" font-size="7.0" text-anchor="middle" fill="#111" stroke="#111" stroke-width="0.22" textLength="3.20" lengthAdjust="spacingAndGlyphs" >0</text>
<text x="57.45" y="318.11" font-size="7.0" text-anchor="middle" fill="#111" stroke="#111" stroke-width="0.22" textLength="9.60" lengthAdjust="spacingAndGlyphs" >500</text>
<text x="77.70" y="318.11" font-size="7.0" text-anchor="middle" fill="#111" stroke="#111" stroke-width="0.22" textLength="15.20" lengthAdjust="spacingAndGlyphs" >1,000</text>
<text x="97.95" y="318.11" font-size="7.0" text-anchor="middle" fill="#111" stroke="#111" stroke-width="0.22" textLength="15.20" lengthAdjust="spacingAndGlyphs" >1,500</text>
<text x="118.20" y="318.11" font-size="7.0" text-anchor="middle" fill="#111" stroke="#111" stroke-width="0.22" textLength="15.20" lengthAdjust="spacingAndGlyphs" >2,000</text>
<text x="138.45" y="318.11" font-size="7.0" text-anchor="middle" fill="#111" stroke="#111" stroke-width="0.22" textLength="15.20" lengthAdjust="spacingAndGlyphs" >2,500</text>
<text x="158.70" y="318.11" font-size="7.0" text-anchor="middle" fill="#111" stroke="#111" stroke-width="0.22" textLength="15.20" lengthAdjust="spacingAndGlyphs" >3,000</text>
<text x="107.70" y="329.30" font-size="8.8" text-anchor="middle" fill="#111" stroke="#111" stroke-width="0.22" textLength="32.40" lengthAdjust="spacingAndGlyphs" >Dox (nM)</text>
<text x="0" y="0" font-size="8.8" text-anchor="middle" fill="#111" stroke="#111" stroke-width="0.22" textLength="70.10" lengthAdjust="spacingAndGlyphs" transform="translate(15.80 266.70) rotate(-90)">Relative survival (%)</text>
<path d="M38.21,248.73 C38.72,249.18 39.39,249.91 41.25,251.45 C43.11,252.99 43.27,254.90 49.35,257.98 C55.43,261.07 59.48,266.11 77.70,269.96 C95.92,273.82 145.20,279.26 158.70,281.13" stroke="#1f4591" stroke-width="1.1" fill="none" stroke-linejoin="round" />
<path d="M37.20,249.65 L38.80,251.45 L37.20,253.25 L35.60,251.45 Z" fill="#1f4591"/>
<path d="M38.21,246.93 L39.81,248.73 L38.21,250.53 L36.61,248.73 Z" fill="#1f4591"/>
<path d="M41.25,249.65 L42.85,251.45 L41.25,253.25 L39.65,251.45 Z" fill="#1f4591"/>
<path d="M49.35,256.18 L50.95,257.98 L49.35,259.78 L47.75,257.98 Z" fill="#1f4591"/>
<path d="M77.70,268.16 L79.30,269.96 L77.70,271.76 L76.10,269.96 Z" fill="#1f4591"/>
<path d="M158.70,279.33 L160.30,281.13 L158.70,282.93 L157.10,281.13 Z" fill="#1f4591"/>
<path d="M38.21,243.28 C38.72,245.10 39.39,250.54 41.25,254.17 C43.11,257.80 43.27,260.25 49.35,265.06 C55.43,269.87 59.48,277.99 77.70,283.03 C95.92,288.07 145.20,293.24 158.70,295.28" stroke="#c2102f" stroke-width="1.1" fill="none" stroke-linejoin="round" />
<rect x="35.20" y="249.45" width="4.00" height="4.00" fill="#c2102f"/>
<rect x="36.21" y="241.28" width="4.00" height="4.00" fill="#c2102f"/>
<rect x="39.25" y="252.17" width="4.00" height="4.00" fill="#c2102f"/>
<rect x="47.35" y="263.06" width="4.00" height="4.00" fill="#c2102f"/>
<rect x="75.70" y="281.03" width="4.00" height="4.00" fill="#c2102f"/>
<rect x="156.70" y="293.28" width="4.00" height="4.00" fill="#c2102f"/>
<path d="M38.21,244.92 C38.72,246.00 39.39,248.09 41.25,251.45 C43.11,254.81 43.27,259.89 49.35,265.06 C55.43,270.24 59.48,277.36 77.70,282.49 C95.92,287.61 145.20,293.60 158.70,295.83" stroke="#5bb030" stroke-width="1.1" fill="none" stroke-linejoin="round" />
<path d="M35.20,254.14 L37.20,250.54 L39.20,254.14 Z" fill="#5bb030"/>
<path d="M36.21,246.52 L38.21,242.92 L40.21,246.52 Z" fill="#5bb030"/>
<path d="M39.25,253.05 L41.25,249.45 L43.25,253.05 Z" fill="#5bb030"/>
<path d="M47.35,266.66 L49.35,263.06 L51.35,266.66 Z" fill="#5bb030"/>
<path d="M75.70,284.09 L77.70,280.49 L79.70,284.09 Z" fill="#5bb030"/>
<path d="M156.70,297.43 L158.70,293.83 L160.70,297.43 Z" fill="#5bb030"/>
<line x1="55.40" y1="337.10" x2="65.70" y2="337.10" stroke="#1f4591" stroke-width="1.1" />
<path d="M60.55,335.03 L62.39,337.10 L60.55,339.17 L58.71,337.10 Z" fill="#1f4591"/>
<text x="68.90" y="339.23" font-size="5.4" text-anchor="start" fill="#333" stroke="#333" stroke-width="0.05" textLength="10.50" lengthAdjust="spacingAndGlyphs" >Dox</text>
<line x1="85.30" y1="337.10" x2="95.60" y2="337.10" stroke="#c2102f" stroke-width="1.1" />
<rect x="88.15" y="334.80" width="4.60" height="4.60" fill="#c2102f"/>
<text x="98.80" y="339.23" font-size="5.4" text-anchor="start" fill="#333" stroke="#333" stroke-width="0.05" textLength="52.60" lengthAdjust="spacingAndGlyphs" >DecIC10+Dox (0.05 uM)</text>
<line x1="55.40" y1="346.10" x2="65.70" y2="346.10" stroke="#5bb030" stroke-width="1.1" />
<path d="M58.25,347.94 L60.55,343.80 L62.85,347.94 Z" fill="#5bb030"/>
<text x="68.90" y="348.23" font-size="5.4" text-anchor="start" fill="#333" stroke="#333" stroke-width="0.05" textLength="52.90" lengthAdjust="spacingAndGlyphs" >DecIC20+Dox (0.10 uM)</text>
<text x="183.80" y="204.80" font-size="11.0" text-anchor="start" fill="#111" stroke="#111" stroke-width="0.22" textLength="5.10" lengthAdjust="spacingAndGlyphs" >E</text>
<text x="269.30" y="217.29" font-size="6.4" text-anchor="middle" fill="#111" stroke="#111" stroke-width="0.22" textLength="28.40" lengthAdjust="spacingAndGlyphs" >ATL43Tb(-)</text>
<line x1="211.00" y1="221.80" x2="211.00" y2="306.10" stroke="#000" stroke-width="1.4" />
<line x1="210.50" y1="305.60" x2="329.00" y2="305.60" stroke="#000" stroke-width="1.3" />
<line x1="208.00" y1="305.60" x2="211.00" y2="305.60" stroke="#111" stroke-width="0.7" />
<line x1="209.00" y1="298.88" x2="211.00" y2="298.88" stroke="#111" stroke-width="0.7" />
<line x1="208.00" y1="292.16" x2="211.00" y2="292.16" stroke="#111" stroke-width="0.7" />
<line x1="209.00" y1="285.44" x2="211.00" y2="285.44" stroke="#111" stroke-width="0.7" />
<line x1="208.00" y1="278.72" x2="211.00" y2="278.72" stroke="#111" stroke-width="0.7" />
<line x1="209.00" y1="272.00" x2="211.00" y2="272.00" stroke="#111" stroke-width="0.7" />
<line x1="208.00" y1="265.28" x2="211.00" y2="265.28" stroke="#111" stroke-width="0.7" />
<line x1="209.00" y1="258.56" x2="211.00" y2="258.56" stroke="#111" stroke-width="0.7" />
<line x1="208.00" y1="251.84" x2="211.00" y2="251.84" stroke="#111" stroke-width="0.7" />
<line x1="209.00" y1="245.12" x2="211.00" y2="245.12" stroke="#111" stroke-width="0.7" />
<line x1="208.00" y1="238.40" x2="211.00" y2="238.40" stroke="#111" stroke-width="0.7" />
<line x1="209.00" y1="231.68" x2="211.00" y2="231.68" stroke="#111" stroke-width="0.7" />
<line x1="208.00" y1="224.96" x2="211.00" y2="224.96" stroke="#111" stroke-width="0.7" />
<text x="205.50" y="308.11" font-size="7.0" text-anchor="end" fill="#111" stroke="#111" stroke-width="0.22" textLength="3.13" lengthAdjust="spacingAndGlyphs" >0</text>
<text x="205.50" y="294.67" font-size="7.0" text-anchor="end" fill="#111" stroke="#111" stroke-width="0.22" textLength="6.26" lengthAdjust="spacingAndGlyphs" >20</text>
<text x="205.50" y="281.23" font-size="7.0" text-anchor="end" fill="#111" stroke="#111" stroke-width="0.22" textLength="6.26" lengthAdjust="spacingAndGlyphs" >40</text>
<text x="205.50" y="267.79" font-size="7.0" text-anchor="end" fill="#111" stroke="#111" stroke-width="0.22" textLength="6.26" lengthAdjust="spacingAndGlyphs" >60</text>
<text x="205.50" y="254.35" font-size="7.0" text-anchor="end" fill="#111" stroke="#111" stroke-width="0.22" textLength="6.26" lengthAdjust="spacingAndGlyphs" >80</text>
<text x="205.50" y="240.91" font-size="7.0" text-anchor="end" fill="#111" stroke="#111" stroke-width="0.22" textLength="9.39" lengthAdjust="spacingAndGlyphs" >100</text>
<text x="205.50" y="227.47" font-size="7.0" text-anchor="end" fill="#111" stroke="#111" stroke-width="0.22" textLength="9.39" lengthAdjust="spacingAndGlyphs" >120</text>
<line x1="211.00" y1="305.60" x2="211.00" y2="308.40" stroke="#111" stroke-width="0.6" />
<line x1="214.37" y1="305.60" x2="214.37" y2="307.20" stroke="#111" stroke-width="0.6" />
<line x1="217.73" y1="305.60" x2="217.73" y2="307.20" stroke="#111" stroke-width="0.6" />
<line x1="221.10" y1="305.60" x2="221.10" y2="307.20" stroke="#111" stroke-width="0.6" />
<line x1="224.47" y1="305.60" x2="224.47" y2="307.20" stroke="#111" stroke-width="0.6" />
<line x1="227.84" y1="305.60" x2="227.84" y2="308.40" stroke="#111" stroke-width="0.6" />
<line x1="231.20" y1="305.60" x2="231.20" y2="307.20" stroke="#111" stroke-width="0.6" />
<line x1="234.57" y1="305.60" x2="234.57" y2="307.20" stroke="#111" stroke-width="0.6" />
<line x1="237.94" y1="305.60" x2="237.94" y2="307.20" stroke="#111" stroke-width="0.6" />
<line x1="241.30" y1="305.60" x2="241.30" y2="307.20" stroke="#111" stroke-width="0.6" />
<line x1="244.67" y1="305.60" x2="244.67" y2="308.40" stroke="#111" stroke-width="0.6" />
<line x1="248.04" y1="305.60" x2="248.04" y2="307.20" stroke="#111" stroke-width="0.6" />
<line x1="251.40" y1="305.60" x2="251.40" y2="307.20" stroke="#111" stroke-width="0.6" />
<line x1="254.77" y1="305.60" x2="254.77" y2="307.20" stroke="#111" stroke-width="0.6" />
<line x1="258.14" y1="305.60" x2="258.14" y2="307.20" stroke="#111" stroke-width="0.6" />
<line x1="261.50" y1="305.60" x2="261.50" y2="308.40" stroke="#111" stroke-width="0.6" />
<line x1="264.87" y1="305.60" x2="264.87" y2="307.20" stroke="#111" stroke-width="0.6" />
<line x1="268.24" y1="305.60" x2="268.24" y2="307.20" stroke="#111" stroke-width="0.6" />
<line x1="271.61" y1="305.60" x2="271.61" y2="307.20" stroke="#111" stroke-width="0.6" />
<line x1="274.97" y1="305.60" x2="274.97" y2="307.20" stroke="#111" stroke-width="0.6" />
<line x1="278.34" y1="305.60" x2="278.34" y2="308.40" stroke="#111" stroke-width="0.6" />
<line x1="281.71" y1="305.60" x2="281.71" y2="307.20" stroke="#111" stroke-width="0.6" />
<line x1="285.07" y1="305.60" x2="285.07" y2="307.20" stroke="#111" stroke-width="0.6" />
<line x1="288.44" y1="305.60" x2="288.44" y2="307.20" stroke="#111" stroke-width="0.6" />
<line x1="291.81" y1="305.60" x2="291.81" y2="307.20" stroke="#111" stroke-width="0.6" />
<line x1="295.18" y1="305.60" x2="295.18" y2="308.40" stroke="#111" stroke-width="0.6" />
<line x1="298.54" y1="305.60" x2="298.54" y2="307.20" stroke="#111" stroke-width="0.6" />
<line x1="301.91" y1="305.60" x2="301.91" y2="307.20" stroke="#111" stroke-width="0.6" />
<line x1="305.28" y1="305.60" x2="305.28" y2="307.20" stroke="#111" stroke-width="0.6" />
<line x1="308.64" y1="305.60" x2="308.64" y2="307.20" stroke="#111" stroke-width="0.6" />
<line x1="312.01" y1="305.60" x2="312.01" y2="308.40" stroke="#111" stroke-width="0.6" />
<line x1="315.38" y1="305.60" x2="315.38" y2="307.20" stroke="#111" stroke-width="0.6" />
<line x1="318.74" y1="305.60" x2="318.74" y2="307.20" stroke="#111" stroke-width="0.6" />
<line x1="322.11" y1="305.60" x2="322.11" y2="307.20" stroke="#111" stroke-width="0.6" />
<line x1="325.48" y1="305.60" x2="325.48" y2="307.20" stroke="#111" stroke-width="0.6" />
<text x="211.00" y="317.71" font-size="7.0" text-anchor="middle" fill="#111" stroke="#111" stroke-width="0.22" textLength="3.20" lengthAdjust="spacingAndGlyphs" >0</text>
<text x="227.84" y="317.71" font-size="7.0" text-anchor="middle" fill="#111" stroke="#111" stroke-width="0.22" textLength="9.60" lengthAdjust="spacingAndGlyphs" >500</text>
<text x="244.67" y="317.71" font-size="7.0" text-anchor="middle" fill="#111" stroke="#111" stroke-width="0.22" textLength="15.20" lengthAdjust="spacingAndGlyphs" >1,000</text>
<text x="261.50" y="317.71" font-size="7.0" text-anchor="middle" fill="#111" stroke="#111" stroke-width="0.22" textLength="15.20" lengthAdjust="spacingAndGlyphs" >1,500</text>
<text x="278.34" y="317.71" font-size="7.0" text-anchor="middle" fill="#111" stroke="#111" stroke-width="0.22" textLength="15.20" lengthAdjust="spacingAndGlyphs" >2,000</text>
<text x="295.18" y="317.71" font-size="7.0" text-anchor="middle" fill="#111" stroke="#111" stroke-width="0.22" textLength="15.20" lengthAdjust="spacingAndGlyphs" >2,500</text>
<text x="312.01" y="317.71" font-size="7.0" text-anchor="middle" fill="#111" stroke="#111" stroke-width="0.22" textLength="15.20" lengthAdjust="spacingAndGlyphs" >3,000</text>
<text x="270.00" y="329.40" font-size="8.8" text-anchor="middle" fill="#111" stroke="#111" stroke-width="0.22" textLength="31.80" lengthAdjust="spacingAndGlyphs" >Dox (nM)</text>
<text x="0" y="0" font-size="8.8" text-anchor="middle" fill="#111" stroke="#111" stroke-width="0.22" textLength="70.80" lengthAdjust="spacingAndGlyphs" transform="translate(190.00 263.50) rotate(-90)">Relative survival (%)</text>
<path d="M211.00,241.50 C211.51,242.03 212.97,244.90 214.40,245.00 C215.83,245.10 217.95,240.85 220.50,242.20 C223.05,243.55 227.77,250.52 231.40,254.00 C235.03,257.48 242.70,263.69 244.70,265.40 L312.10,299.80" stroke="#1f4591" stroke-width="1.1" fill="none" stroke-linejoin="round" />
<path d="M211.00,239.70 L212.60,241.50 L211.00,243.30 L209.40,241.50 Z" fill="#1f4591"/>
<path d="M214.40,243.20 L216.00,245.00 L214.40,246.80 L212.80,245.00 Z" fill="#1f4591"/>
<path d="M220.50,240.40 L222.10,242.20 L220.50,244.00 L218.90,242.20 Z" fill="#1f4591"/>
<path d="M244.70,263.60 L246.30,265.40 L244.70,267.20 L243.10,265.40 Z" fill="#1f4591"/>
<path d="M312.10,298.00 L313.70,299.80 L312.10,301.60 L310.50,299.80 Z" fill="#1f4591"/>
<path d="M211.80,236.50 C212.19,237.06 213.00,239.90 214.40,240.20 C215.80,240.50 219.57,236.28 221.10,238.50 C222.63,240.72 223.28,249.78 224.60,255.00 C225.92,260.22 228.31,268.53 229.90,273.30 C231.49,278.07 233.62,283.75 235.20,286.80 C236.77,289.85 238.97,292.31 240.40,293.60 C241.83,294.89 242.51,294.51 244.70,295.40 C246.89,296.28 251.20,298.69 255.00,299.50 C258.80,300.31 264.75,300.59 270.00,300.80 C275.25,301.01 283.70,300.88 290.00,300.90 C296.30,300.91 308.70,300.90 312.00,300.90" stroke="#c2102f" stroke-width="1.1" fill="none" stroke-linejoin="round" />
<rect x="209.00" y="236.00" width="4.00" height="4.00" fill="#c2102f"/>
<rect x="209.80" y="234.00" width="4.00" height="4.00" fill="#c2102f"/>
<rect x="212.40" y="238.20" width="4.00" height="4.00" fill="#c2102f"/>
<rect x="219.10" y="236.50" width="4.00" height="4.00" fill="#c2102f"/>
<rect x="242.70" y="293.40" width="4.00" height="4.00" fill="#c2102f"/>
<rect x="310.10" y="298.90" width="4.00" height="4.00" fill="#c2102f"/>
<path d="M211.80,231.70 C212.19,234.07 213.00,245.53 214.40,247.50 C215.80,249.47 219.67,243.83 221.10,244.80 C222.53,245.78 222.73,249.77 223.90,254.00 C225.07,258.23 227.33,268.12 228.90,273.00 C230.47,277.88 232.78,283.59 234.40,286.50 C236.02,289.41 238.16,291.25 239.70,292.40 C241.24,293.55 242.40,293.42 244.70,294.20 C247.00,294.98 250.45,296.99 255.00,297.60 C259.55,298.22 269.00,298.21 275.00,298.30 C281.00,298.39 289.45,298.21 295.00,298.20 C300.55,298.19 309.45,298.20 312.00,298.20" stroke="#5bb030" stroke-width="1.1" fill="none" stroke-linejoin="round" />
<path d="M209.00,240.20 L211.00,236.60 L213.00,240.20 Z" fill="#5bb030"/>
<path d="M209.80,233.30 L211.80,229.70 L213.80,233.30 Z" fill="#5bb030"/>
<path d="M212.40,249.10 L214.40,245.50 L216.40,249.10 Z" fill="#5bb030"/>
<path d="M219.10,246.40 L221.10,242.80 L223.10,246.40 Z" fill="#5bb030"/>
<path d="M242.70,295.80 L244.70,292.20 L246.70,295.80 Z" fill="#5bb030"/>
<path d="M310.10,299.80 L312.10,296.20 L314.10,299.80 Z" fill="#5bb030"/>
<line x1="218.40" y1="337.60" x2="228.80" y2="337.60" stroke="#1f4591" stroke-width="1.1" />
<path d="M223.60,335.53 L225.44,337.60 L223.60,339.67 L221.76,337.60 Z" fill="#1f4591"/>
<text x="231.40" y="339.73" font-size="5.4" text-anchor="start" fill="#333" stroke="#333" stroke-width="0.05" textLength="10.50" lengthAdjust="spacingAndGlyphs" >Dox</text>
<line x1="247.90" y1="337.60" x2="258.30" y2="337.60" stroke="#c2102f" stroke-width="1.1" />
<rect x="250.80" y="335.30" width="4.60" height="4.60" fill="#c2102f"/>
<text x="260.90" y="339.73" font-size="5.4" text-anchor="start" fill="#333" stroke="#333" stroke-width="0.05" textLength="56.00" lengthAdjust="spacingAndGlyphs" >Dox + Dec IC10 (0.05 uM)</text>
<line x1="218.40" y1="346.30" x2="228.80" y2="346.30" stroke="#5bb030" stroke-width="1.1" />
<path d="M221.30,348.14 L223.60,344.00 L225.90,348.14 Z" fill="#5bb030"/>
<text x="231.40" y="348.43" font-size="5.4" text-anchor="start" fill="#333" stroke="#333" stroke-width="0.05" textLength="53.00" lengthAdjust="spacingAndGlyphs" >Dox + Dec IC20 (0.1 uM)</text>
<text x="342.70" y="204.30" font-size="11.0" text-anchor="start" fill="#111" stroke="#111" stroke-width="0.22" textLength="5.30" lengthAdjust="spacingAndGlyphs" >F</text>
<line x1="369.60" y1="210.90" x2="369.60" y2="361.00" stroke="#000" stroke-width="1.2" />
<line x1="366.20" y1="305.80" x2="502.40" y2="305.80" stroke="#000" stroke-width="1.3" />
<line x1="366.60" y1="305.80" x2="369.60" y2="305.80" stroke="#111" stroke-width="0.8" />
<text x="363.40" y="307.81" font-size="7.0" text-anchor="end" fill="#111" stroke="#111" stroke-width="0.22" textLength="3.13" lengthAdjust="spacingAndGlyphs" >0</text>
<line x1="366.60" y1="287.45" x2="369.60" y2="287.45" stroke="#111" stroke-width="0.8" />
<text x="363.40" y="289.46" font-size="7.0" text-anchor="end" fill="#111" stroke="#111" stroke-width="0.22" textLength="6.26" lengthAdjust="spacingAndGlyphs" >20</text>
<line x1="366.60" y1="269.10" x2="369.60" y2="269.10" stroke="#111" stroke-width="0.8" />
<text x="363.40" y="271.11" font-size="7.0" text-anchor="end" fill="#111" stroke="#111" stroke-width="0.22" textLength="6.26" lengthAdjust="spacingAndGlyphs" >40</text>
<line x1="366.60" y1="250.75" x2="369.60" y2="250.75" stroke="#111" stroke-width="0.8" />
<text x="363.40" y="252.76" font-size="7.0" text-anchor="end" fill="#111" stroke="#111" stroke-width="0.22" textLength="6.26" lengthAdjust="spacingAndGlyphs" >60</text>
<line x1="366.60" y1="232.40" x2="369.60" y2="232.40" stroke="#111" stroke-width="0.8" />
<text x="363.40" y="234.41" font-size="7.0" text-anchor="end" fill="#111" stroke="#111" stroke-width="0.22" textLength="6.26" lengthAdjust="spacingAndGlyphs" >80</text>
<line x1="366.60" y1="214.05" x2="369.60" y2="214.05" stroke="#111" stroke-width="0.8" />
<text x="363.40" y="216.06" font-size="7.0" text-anchor="end" fill="#111" stroke="#111" stroke-width="0.22" textLength="9.39" lengthAdjust="spacingAndGlyphs" >100</text>
<text x="0" y="0" font-size="8.8" text-anchor="middle" fill="#111" stroke="#111" stroke-width="0.22" textLength="56.50" lengthAdjust="spacingAndGlyphs" transform="translate(348.00 258.40) rotate(-90)">Cell fraction (%)</text>
<rect x="375.10" y="238.82" width="5.90" height="66.98" fill="#2b4c88" stroke="#1a2f5a" stroke-width="0.4"/>
<line x1="376.30" y1="238.62" x2="379.80" y2="238.62" stroke="#000" stroke-width="1.2" />
<rect x="391.00" y="271.85" width="5.90" height="33.95" fill="#2b4c88" stroke="#1a2f5a" stroke-width="0.4"/>
<line x1="393.95" y1="264.97" x2="393.95" y2="278.73" stroke="#333" stroke-width="0.7" />
<line x1="392.95" y1="264.97" x2="394.95" y2="264.97" stroke="#333" stroke-width="0.7" />
<line x1="392.95" y1="278.73" x2="394.95" y2="278.73" stroke="#333" stroke-width="0.7" />
<line x1="392.20" y1="271.65" x2="395.70" y2="271.65" stroke="#000" stroke-width="1.0" />
<rect x="407.00" y="281.49" width="5.90" height="24.31" fill="#b0052f" stroke="#7a0020" stroke-width="0.4"/>
<line x1="408.20" y1="281.29" x2="411.70" y2="281.29" stroke="#000" stroke-width="1.2" />
<rect x="423.20" y="248.92" width="5.90" height="56.88" fill="#b0052f" stroke="#7a0020" stroke-width="0.4"/>
<line x1="426.15" y1="241.12" x2="426.15" y2="256.71" stroke="#333" stroke-width="0.7" />
<line x1="425.15" y1="241.12" x2="427.15" y2="241.12" stroke="#333" stroke-width="0.7" />
<line x1="425.15" y1="256.71" x2="427.15" y2="256.71" stroke="#333" stroke-width="0.7" />
<line x1="424.40" y1="248.72" x2="427.90" y2="248.72" stroke="#000" stroke-width="1.0" />
<rect x="439.30" y="223.68" width="5.90" height="82.12" fill="#2b4c88" stroke="#1a2f5a" stroke-width="0.4"/>
<line x1="440.50" y1="223.48" x2="444.00" y2="223.48" stroke="#000" stroke-width="1.2" />
<rect x="456.00" y="280.75" width="5.90" height="25.05" fill="#2b4c88" stroke="#1a2f5a" stroke-width="0.4"/>
<line x1="457.20" y1="280.55" x2="460.70" y2="280.55" stroke="#000" stroke-width="1.2" />
<rect x="472.30" y="296.62" width="5.90" height="9.18" fill="#b0052f" stroke="#7a0020" stroke-width="0.4"/>
<line x1="473.50" y1="296.43" x2="477.00" y2="296.43" stroke="#000" stroke-width="1.2" />
<rect x="488.30" y="240.66" width="5.90" height="65.14" fill="#b0052f" stroke="#7a0020" stroke-width="0.4"/>
<line x1="491.25" y1="238.36" x2="491.25" y2="242.95" stroke="#333" stroke-width="0.7" />
<line x1="490.25" y1="238.36" x2="492.25" y2="238.36" stroke="#333" stroke-width="0.7" />
<line x1="490.25" y1="242.95" x2="492.25" y2="242.95" stroke="#333" stroke-width="0.7" />
<line x1="489.50" y1="240.46" x2="493.00" y2="240.46" stroke="#000" stroke-width="1.0" />
<line x1="385.40" y1="305.80" x2="385.40" y2="340.30" stroke="#222" stroke-width="0.8" />
<line x1="401.80" y1="305.80" x2="401.80" y2="350.80" stroke="#222" stroke-width="0.8" />
<line x1="418.50" y1="305.80" x2="418.50" y2="340.30" stroke="#222" stroke-width="0.8" />
<line x1="434.80" y1="305.80" x2="434.80" y2="361.20" stroke="#222" stroke-width="0.8" />
<line x1="450.80" y1="305.80" x2="450.80" y2="340.20" stroke="#222" stroke-width="0.8" />
<line x1="467.20" y1="305.80" x2="467.20" y2="351.00" stroke="#222" stroke-width="0.8" />
<line x1="483.30" y1="305.80" x2="483.30" y2="340.20" stroke="#222" stroke-width="0.8" />
<line x1="499.70" y1="305.80" x2="499.70" y2="361.20" stroke="#222" stroke-width="0.8" />
<text x="0" y="0" font-size="7.0" text-anchor="middle" fill="#111" stroke="#111" stroke-width="0.05" textLength="16.10" lengthAdjust="spacingAndGlyphs" transform="translate(380.80 318.85) rotate(-90)">DMSO</text>
<text x="0" y="0" font-size="7.0" text-anchor="middle" fill="#111" stroke="#111" stroke-width="0.05" textLength="26.90" lengthAdjust="spacingAndGlyphs" transform="translate(397.00 324.20) rotate(-90)">decitabine</text>
<text x="0" y="0" font-size="7.0" text-anchor="middle" fill="#111" stroke="#111" stroke-width="0.05" textLength="16.10" lengthAdjust="spacingAndGlyphs" transform="translate(413.20 318.85) rotate(-90)">DMSO</text>
<text x="0" y="0" font-size="7.0" text-anchor="middle" fill="#111" stroke="#111" stroke-width="0.05" textLength="26.90" lengthAdjust="spacingAndGlyphs" transform="translate(429.40 324.20) rotate(-90)">decitabine</text>
<text x="0" y="0" font-size="7.0" text-anchor="middle" fill="#111" stroke="#111" stroke-width="0.05" textLength="16.10" lengthAdjust="spacingAndGlyphs" transform="translate(445.60 318.85) rotate(-90)">DMSO</text>
<text x="0" y="0" font-size="7.0" text-anchor="middle" fill="#111" stroke="#111" stroke-width="0.05" textLength="26.90" lengthAdjust="spacingAndGlyphs" transform="translate(461.80 324.20) rotate(-90)">decitabine</text>
<text x="0" y="0" font-size="7.0" text-anchor="middle" fill="#111" stroke="#111" stroke-width="0.05" textLength="16.10" lengthAdjust="spacingAndGlyphs" transform="translate(478.00 318.85) rotate(-90)">DMSO</text>
<text x="0" y="0" font-size="7.0" text-anchor="middle" fill="#111" stroke="#111" stroke-width="0.05" textLength="26.90" lengthAdjust="spacingAndGlyphs" transform="translate(494.20 324.20) rotate(-90)">decitabine</text>
<text x="386.50" y="348.79" font-size="6.4" text-anchor="middle" fill="#111" stroke="#111" stroke-width="0.05" textLength="16.80" lengthAdjust="spacingAndGlyphs" >Viable</text>
<text x="418.20" y="348.79" font-size="6.4" text-anchor="middle" fill="#111" stroke="#111" stroke-width="0.05" textLength="10.50" lengthAdjust="spacingAndGlyphs" >AV+</text>
<text x="451.60" y="348.69" font-size="6.4" text-anchor="middle" fill="#111" stroke="#111" stroke-width="0.05" textLength="16.80" lengthAdjust="spacingAndGlyphs" >Viable</text>
<text x="483.30" y="348.69" font-size="6.4" text-anchor="middle" fill="#111" stroke="#111" stroke-width="0.05" textLength="10.50" lengthAdjust="spacingAndGlyphs" >AV+</text>
<text x="402.30" y="360.64" font-size="8.2" text-anchor="middle" fill="#111" stroke="#111" stroke-width="0.1" textLength="22.00" lengthAdjust="spacingAndGlyphs" >ATL18</text>
<text x="467.20" y="360.54" font-size="8.2" text-anchor="middle" fill="#111" stroke="#111" stroke-width="0.1" textLength="38.00" lengthAdjust="spacingAndGlyphs" >ATL43Tb(-)</text>
<text x="8.60" y="375.80" font-size="10.8" text-anchor="start" fill="#111" stroke="#111" stroke-width="0.22" textLength="7.30" lengthAdjust="spacingAndGlyphs" >G</text>
<rect x="56.60" y="400.20" width="4.00" height="4.00" fill="#2b4c88"/>
<text x="63.60" y="404.40" font-size="5.6" text-anchor="start" fill="#333" stroke="#333" stroke-width="0.05" textLength="34.60" lengthAdjust="spacingAndGlyphs" >%5mdc Control</text>
<rect x="110.60" y="400.00" width="4.00" height="4.00" fill="#6aaa3c"/>
<text x="117.80" y="404.20" font-size="5.6" text-anchor="start" fill="#333" stroke="#333" stroke-width="0.05" textLength="34.80" lengthAdjust="spacingAndGlyphs" >%5mdc Treated</text>
<line x1="36.70" y1="408.30" x2="36.70" y2="504.10" stroke="#000" stroke-width="1.4" />
<line x1="36.20" y1="503.60" x2="175.20" y2="503.60" stroke="#000" stroke-width="1.4" />
<text x="33.00" y="506.11" font-size="7.0" text-anchor="end" fill="#111" stroke="#111" stroke-width="0.22" textLength="3.13" lengthAdjust="spacingAndGlyphs" >0</text>
<text x="33.00" y="494.58" font-size="7.0" text-anchor="end" fill="#111" stroke="#111" stroke-width="0.22" textLength="3.13" lengthAdjust="spacingAndGlyphs" >1</text>
<text x="33.00" y="483.05" font-size="7.0" text-anchor="end" fill="#111" stroke="#111" stroke-width="0.22" textLength="3.13" lengthAdjust="spacingAndGlyphs" >2</text>
<text x="33.00" y="471.52" font-size="7.0" text-anchor="end" fill="#111" stroke="#111" stroke-width="0.22" textLength="3.13" lengthAdjust="spacingAndGlyphs" >3</text>
<text x="33.00" y="459.99" font-size="7.0" text-anchor="end" fill="#111" stroke="#111" stroke-width="0.22" textLength="3.13" lengthAdjust="spacingAndGlyphs" >4</text>
<text x="33.00" y="448.46" font-size="7.0" text-anchor="end" fill="#111" stroke="#111" stroke-width="0.22" textLength="3.13" lengthAdjust="spacingAndGlyphs" >5</text>
<text x="33.00" y="436.93" font-size="7.0" text-anchor="end" fill="#111" stroke="#111" stroke-width="0.22" textLength="3.13" lengthAdjust="spacingAndGlyphs" >6</text>
<text x="33.00" y="425.40" font-size="7.0" text-anchor="end" fill="#111" stroke="#111" stroke-width="0.22" textLength="3.13" lengthAdjust="spacingAndGlyphs" >7</text>
<text x="33.00" y="413.87" font-size="7.0" text-anchor="end" fill="#111" stroke="#111" stroke-width="0.22" textLength="3.13" lengthAdjust="spacingAndGlyphs" >8</text>
<text x="0" y="0" font-size="9.0" text-anchor="middle" fill="#111" stroke="#111" stroke-width="0.22" textLength="62.10" lengthAdjust="spacingAndGlyphs" transform="translate(25.00 455.90) rotate(-90)">%5mdc by LC-MS</text>
<rect x="42.40" y="418.05" width="5.80" height="85.55" fill="#2b4c88" stroke="#1a2f5a" stroke-width="0.4"/>
<rect x="48.90" y="454.37" width="5.90" height="49.23" fill="#6aaa3c" stroke="#4a8a2a" stroke-width="0.4"/>
<line x1="43.30" y1="417.85" x2="47.30" y2="417.85" stroke="#000" stroke-width="1.3" />
<line x1="49.80" y1="454.17" x2="53.90" y2="454.17" stroke="#000" stroke-width="1.3" />
<text x="51.85" y="453.47" font-size="6.5" text-anchor="middle" fill="#222" stroke="#222" stroke-width="0.22" >*</text>
<text x="0" y="0" font-size="6.7" text-anchor="end" fill="#222" stroke="#222" stroke-width="0.15" textLength="29.50" lengthAdjust="spacingAndGlyphs" transform="translate(52.00 509.30) rotate(-45)">ATL43Tb(-)</text>
<rect x="65.18" y="431.31" width="5.80" height="72.29" fill="#2b4c88" stroke="#1a2f5a" stroke-width="0.4"/>
<rect x="71.68" y="449.41" width="5.90" height="54.19" fill="#6aaa3c" stroke="#4a8a2a" stroke-width="0.4"/>
<line x1="66.08" y1="431.11" x2="70.08" y2="431.11" stroke="#000" stroke-width="1.3" />
<line x1="72.58" y1="449.21" x2="76.68" y2="449.21" stroke="#000" stroke-width="1.3" />
<text x="74.63" y="448.51" font-size="6.5" text-anchor="middle" fill="#222" stroke="#222" stroke-width="0.22" >*</text>
<text x="0" y="0" font-size="6.7" text-anchor="end" fill="#222" stroke="#222" stroke-width="0.15" textLength="29.50" lengthAdjust="spacingAndGlyphs" transform="translate(74.78 509.30) rotate(-45)">ED40515(-)</text>
<rect x="87.96" y="435.57" width="5.80" height="68.03" fill="#2b4c88" stroke="#1a2f5a" stroke-width="0.4"/>
<rect x="94.46" y="437.88" width="5.90" height="65.72" fill="#6aaa3c" stroke="#4a8a2a" stroke-width="0.4"/>
<line x1="88.86" y1="435.37" x2="92.86" y2="435.37" stroke="#000" stroke-width="1.3" />
<line x1="95.36" y1="437.68" x2="99.46" y2="437.68" stroke="#000" stroke-width="1.3" />
<text x="97.41" y="436.98" font-size="6.5" text-anchor="middle" fill="#222" stroke="#222" stroke-width="0.22" >*</text>
<text x="0" y="0" font-size="6.7" text-anchor="end" fill="#222" stroke="#222" stroke-width="0.15" textLength="29.50" lengthAdjust="spacingAndGlyphs" transform="translate(97.56 509.30) rotate(-45)">ED41214(-)</text>
<rect x="110.74" y="432.11" width="5.80" height="71.49" fill="#2b4c88" stroke="#1a2f5a" stroke-width="0.4"/>
<rect x="117.24" y="447.33" width="5.90" height="56.27" fill="#6aaa3c" stroke="#4a8a2a" stroke-width="0.4"/>
<line x1="111.64" y1="431.91" x2="115.64" y2="431.91" stroke="#000" stroke-width="1.3" />
<line x1="118.14" y1="447.13" x2="122.24" y2="447.13" stroke="#000" stroke-width="1.3" />
<text x="120.19" y="446.43" font-size="6.5" text-anchor="middle" fill="#222" stroke="#222" stroke-width="0.22" >*</text>
<text x="0" y="0" font-size="6.7" text-anchor="end" fill="#222" stroke="#222" stroke-width="0.15" textLength="17.70" lengthAdjust="spacingAndGlyphs" transform="translate(120.34 509.30) rotate(-45)">Su9T01</text>
<rect x="133.52" y="448.03" width="5.80" height="55.57" fill="#2b4c88" stroke="#1a2f5a" stroke-width="0.4"/>
<rect x="140.02" y="449.99" width="5.90" height="53.61" fill="#6aaa3c" stroke="#4a8a2a" stroke-width="0.4"/>
<line x1="134.42" y1="447.83" x2="138.42" y2="447.83" stroke="#000" stroke-width="1.3" />
<line x1="140.92" y1="449.79" x2="145.02" y2="449.79" stroke="#000" stroke-width="1.3" />
<text x="142.97" y="449.09" font-size="6.5" text-anchor="middle" fill="#222" stroke="#222" stroke-width="0.22" >*</text>
<text x="0" y="0" font-size="6.7" text-anchor="end" fill="#222" stroke="#222" stroke-width="0.15" textLength="14.75" lengthAdjust="spacingAndGlyphs" transform="translate(143.12 509.30) rotate(-45)">ATL19</text>
<rect x="156.30" y="446.87" width="5.80" height="56.73" fill="#2b4c88" stroke="#1a2f5a" stroke-width="0.4"/>
<rect x="162.80" y="458.86" width="5.90" height="44.74" fill="#6aaa3c" stroke="#4a8a2a" stroke-width="0.4"/>
<line x1="157.20" y1="446.67" x2="161.20" y2="446.67" stroke="#000" stroke-width="1.3" />
<line x1="163.70" y1="458.66" x2="167.80" y2="458.66" stroke="#000" stroke-width="1.3" />
<text x="165.75" y="457.96" font-size="6.5" text-anchor="middle" fill="#222" stroke="#222" stroke-width="0.22" >*</text>
<text x="0" y="0" font-size="6.7" text-anchor="end" fill="#222" stroke="#222" stroke-width="0.15" textLength="14.75" lengthAdjust="spacingAndGlyphs" transform="translate(165.90 509.30) rotate(-45)">ATL18</text>
<text x="181.50" y="375.80" font-size="10.4" text-anchor="start" fill="#111" stroke="#111" stroke-width="0.22" >H</text>
<line x1="273.50" y1="385.50" x2="273.50" y2="503.20" stroke="#666" stroke-width="0.55" stroke-dasharray="0.8 0.9"/>
<line x1="304.60" y1="385.50" x2="304.60" y2="503.20" stroke="#666" stroke-width="0.55" stroke-dasharray="0.8 0.9"/>
<line x1="222.30" y1="496.54" x2="355.60" y2="496.54" stroke="#b8b8b8" stroke-width="1.2" stroke-dasharray="1 0.7"/>
<g id="volcano">
<path fill="#111" d="M281.5 490.7h0.9v0.9h-0.9zM291.4 497.3h0.9v0.9h-0.9zM280.8 496.2h0.9v0.9h-0.9zM288.7 498.3h0.9v0.9h-0.9zM281.5 497.1h0.9v0.9h-0.9zM281.0 495.5h0.9v0.9h-0.9zM298.6 489.9h0.9v0.9h-0.9zM295.2 497.5h0.9v0.9h-0.9zM287.3 497.7h0.9v0.9h-0.9zM286.3 498.6h0.9v0.9h-0.9zM286.6 497.6h0.9v0.9h-0.9zM292.8 497.5h0.9v0.9h-0.9zM290.5 498.6h0.9v0.9h-0.9zM282.5 492.7h0.9v0.9h-0.9zM290.6 497.6h0.9v0.9h-0.9zM284.4 495.6h0.9v0.9h-0.9zM283.4 496.0h0.9v0.9h-0.9zM285.3 494.8h0.9v0.9h-0.9zM294.3 496.5h0.9v0.9h-0.9zM280.8 495.9h0.9v0.9h-0.9zM288.5 497.9h0.9v0.9h-0.9zM291.4 497.6h0.9v0.9h-0.9zM292.6 494.3h0.9v0.9h-0.9zM284.0 494.2h0.9v0.9h-0.9zM293.3 493.7h0.9v0.9h-0.9zM289.1 498.3h0.9v0.9h-0.9zM295.3 497.3h0.9v0.9h-0.9zM288.3 498.1h0.9v0.9h-0.9zM289.9 498.6h0.9v0.9h-0.9zM284.2 497.1h0.9v0.9h-0.9zM299.3 495.1h0.9v0.9h-0.9zM286.7 498.3h0.9v0.9h-0.9zM290.8 496.7h0.9v0.9h-0.9zM290.4 498.4h0.9v0.9h-0.9zM282.8 497.1h0.9v0.9h-0.9zM286.6 497.1h0.9v0.9h-0.9zM295.1 497.2h0.9v0.9h-0.9zM295.6 495.0h0.9v0.9h-0.9zM290.2 496.8h0.9v0.9h-0.9zM293.9 493.8h0.9v0.9h-0.9zM284.8 497.8h0.9v0.9h-0.9zM301.3 490.9h0.9v0.9h-0.9zM294.5 497.5h0.9v0.9h-0.9zM282.0 490.9h0.9v0.9h-0.9zM290.2 497.3h0.9v0.9h-0.9zM293.7 496.7h0.9v0.9h-0.9zM288.4 498.7h0.9v0.9h-0.9zM291.4 497.0h0.9v0.9h-0.9zM289.4 498.3h0.9v0.9h-0.9zM297.5 493.4h0.9v0.9h-0.9zM296.0 493.5h0.9v0.9h-0.9zM287.3 497.2h0.9v0.9h-0.9zM290.5 496.6h0.9v0.9h-0.9zM292.3 495.2h0.9v0.9h-0.9zM289.1 497.9h0.9v0.9h-0.9zM293.1 493.8h0.9v0.9h-0.9zM294.1 493.0h0.9v0.9h-0.9zM303.4 486.0h0.9v0.9h-0.9zM286.5 498.6h0.9v0.9h-0.9zM290.4 496.6h0.9v0.9h-0.9zM289.8 498.4h0.9v0.9h-0.9zM298.8 488.3h0.9v0.9h-0.9zM284.8 497.9h0.9v0.9h-0.9zM286.1 496.7h0.9v0.9h-0.9zM293.1 495.9h0.9v0.9h-0.9zM290.9 496.4h0.9v0.9h-0.9zM285.3 495.2h0.9v0.9h-0.9zM285.7 498.1h0.9v0.9h-0.9zM294.0 495.9h0.9v0.9h-0.9zM289.6 498.7h0.9v0.9h-0.9zM291.7 496.8h0.9v0.9h-0.9zM294.4 497.4h0.9v0.9h-0.9zM280.6 489.1h0.9v0.9h-0.9zM299.0 489.9h0.9v0.9h-0.9zM286.1 498.3h0.9v0.9h-0.9zM281.4 497.3h0.9v0.9h-0.9zM302.6 485.4h0.9v0.9h-0.9zM290.6 496.4h0.9v0.9h-0.9zM297.8 492.8h0.9v0.9h-0.9zM290.2 497.3h0.9v0.9h-0.9zM279.1 496.0h0.9v0.9h-0.9zM279.3 488.4h0.9v0.9h-0.9zM286.2 496.7h0.9v0.9h-0.9zM285.9 495.8h0.9v0.9h-0.9zM278.5 493.4h0.9v0.9h-0.9zM283.8 493.8h0.9v0.9h-0.9zM276.8 491.4h0.9v0.9h-0.9zM292.2 496.5h0.9v0.9h-0.9zM277.1 489.2h0.9v0.9h-0.9zM283.0 494.8h0.9v0.9h-0.9zM294.6 497.5h0.9v0.9h-0.9zM276.5 485.1h0.9v0.9h-0.9zM273.9 484.3h0.9v0.9h-0.9zM281.3 493.6h0.9v0.9h-0.9zM295.6 494.9h0.9v0.9h-0.9zM290.4 497.1h0.9v0.9h-0.9zM286.9 498.6h0.9v0.9h-0.9zM283.3 497.1h0.9v0.9h-0.9zM284.8 495.8h0.9v0.9h-0.9zM280.5 489.6h0.9v0.9h-0.9zM289.2 498.5h0.9v0.9h-0.9zM294.3 494.2h0.9v0.9h-0.9zM289.4 498.5h0.9v0.9h-0.9zM295.6 493.2h0.9v0.9h-0.9zM300.9 490.6h0.9v0.9h-0.9zM293.4 495.1h0.9v0.9h-0.9zM285.6 498.1h0.9v0.9h-0.9zM278.8 487.7h0.9v0.9h-0.9zM293.8 493.3h0.9v0.9h-0.9zM282.9 496.5h0.9v0.9h-0.9zM294.5 497.3h0.9v0.9h-0.9zM277.2 486.5h0.9v0.9h-0.9zM289.3 497.9h0.9v0.9h-0.9zM293.8 497.4h0.9v0.9h-0.9zM287.5 498.1h0.9v0.9h-0.9zM288.4 498.4h0.9v0.9h-0.9zM293.3 495.4h0.9v0.9h-0.9zM283.7 493.9h0.9v0.9h-0.9zM289.3 497.5h0.9v0.9h-0.9zM286.7 498.6h0.9v0.9h-0.9zM289.8 497.3h0.9v0.9h-0.9zM298.5 491.4h0.9v0.9h-0.9zM291.6 497.8h0.9v0.9h-0.9zM289.4 498.6h0.9v0.9h-0.9zM287.9 498.2h0.9v0.9h-0.9zM300.6 493.1h0.9v0.9h-0.9zM290.9 498.4h0.9v0.9h-0.9zM297.4 493.5h0.9v0.9h-0.9zM291.6 496.6h0.9v0.9h-0.9zM282.7 492.0h0.9v0.9h-0.9zM279.7 491.2h0.9v0.9h-0.9zM291.3 498.2h0.9v0.9h-0.9zM295.8 497.4h0.9v0.9h-0.9zM279.4 495.5h0.9v0.9h-0.9zM290.8 498.1h0.9v0.9h-0.9zM283.6 495.8h0.9v0.9h-0.9zM297.0 492.3h0.9v0.9h-0.9zM289.3 497.7h0.9v0.9h-0.9zM282.9 492.5h0.9v0.9h-0.9zM301.4 486.5h0.9v0.9h-0.9zM296.6 496.5h0.9v0.9h-0.9zM280.7 490.0h0.9v0.9h-0.9zM291.6 497.5h0.9v0.9h-0.9zM277.5 487.4h0.9v0.9h-0.9zM283.7 493.3h0.9v0.9h-0.9zM280.3 495.8h0.9v0.9h-0.9zM291.1 496.7h0.9v0.9h-0.9zM292.8 495.3h0.9v0.9h-0.9zM281.0 496.1h0.9v0.9h-0.9zM303.2 480.5h0.9v0.9h-0.9zM278.8 491.8h0.9v0.9h-0.9zM290.5 496.7h0.9v0.9h-0.9zM283.8 493.9h0.9v0.9h-0.9zM287.6 498.2h0.9v0.9h-0.9zM291.2 497.2h0.9v0.9h-0.9zM289.9 498.7h0.9v0.9h-0.9zM281.9 492.3h0.9v0.9h-0.9zM299.3 494.6h0.9v0.9h-0.9zM293.4 496.8h0.9v0.9h-0.9zM289.9 498.5h0.9v0.9h-0.9zM285.7 497.1h0.9v0.9h-0.9zM287.1 497.5h0.9v0.9h-0.9zM277.3 485.3h0.9v0.9h-0.9zM273.9 492.5h0.9v0.9h-0.9zM289.8 498.5h0.9v0.9h-0.9zM284.0 494.9h0.9v0.9h-0.9zM288.2 498.1h0.9v0.9h-0.9zM277.2 490.1h0.9v0.9h-0.9zM287.4 498.3h0.9v0.9h-0.9zM280.2 489.5h0.9v0.9h-0.9zM297.2 495.6h0.9v0.9h-0.9zM298.7 491.6h0.9v0.9h-0.9zM275.9 488.6h0.9v0.9h-0.9zM291.4 497.2h0.9v0.9h-0.9zM296.4 492.9h0.9v0.9h-0.9zM291.9 496.9h0.9v0.9h-0.9zM280.0 492.6h0.9v0.9h-0.9zM295.6 494.5h0.9v0.9h-0.9zM288.2 498.2h0.9v0.9h-0.9zM286.9 498.0h0.9v0.9h-0.9zM302.7 491.1h0.9v0.9h-0.9zM285.3 497.0h0.9v0.9h-0.9zM293.7 493.9h0.9v0.9h-0.9zM293.8 493.2h0.9v0.9h-0.9zM283.7 497.5h0.9v0.9h-0.9zM289.9 497.8h0.9v0.9h-0.9zM292.0 495.7h0.9v0.9h-0.9zM287.6 498.7h0.9v0.9h-0.9zM290.6 497.2h0.9v0.9h-0.9zM293.3 497.0h0.9v0.9h-0.9zM283.8 497.8h0.9v0.9h-0.9zM295.9 492.3h0.9v0.9h-0.9zM294.4 496.8h0.9v0.9h-0.9zM294.2 497.1h0.9v0.9h-0.9zM282.5 495.9h0.9v0.9h-0.9zM287.8 498.3h0.9v0.9h-0.9zM285.5 498.0h0.9v0.9h-0.9zM288.4 498.1h0.9v0.9h-0.9zM284.1 494.3h0.9v0.9h-0.9zM283.2 494.9h0.9v0.9h-0.9zM291.9 496.0h0.9v0.9h-0.9zM285.5 495.9h0.9v0.9h-0.9zM293.5 496.9h0.9v0.9h-0.9zM286.0 495.9h0.9v0.9h-0.9zM293.5 493.6h0.9v0.9h-0.9zM292.1 495.8h0.9v0.9h-0.9zM292.5 497.6h0.9v0.9h-0.9zM298.7 492.7h0.9v0.9h-0.9zM295.8 491.9h0.9v0.9h-0.9zM293.5 494.9h0.9v0.9h-0.9zM293.6 498.1h0.9v0.9h-0.9zM291.9 495.2h0.9v0.9h-0.9zM298.0 487.4h0.9v0.9h-0.9zM294.6 493.4h0.9v0.9h-0.9zM294.0 495.6h0.9v0.9h-0.9zM287.5 498.7h0.9v0.9h-0.9zM285.4 498.3h0.9v0.9h-0.9zM296.7 493.4h0.9v0.9h-0.9zM290.9 497.3h0.9v0.9h-0.9zM291.5 498.1h0.9v0.9h-0.9zM292.2 495.2h0.9v0.9h-0.9zM303.3 492.5h0.9v0.9h-0.9zM288.2 498.7h0.9v0.9h-0.9zM295.7 492.2h0.9v0.9h-0.9zM287.0 498.2h0.9v0.9h-0.9zM281.7 495.1h0.9v0.9h-0.9zM290.6 497.4h0.9v0.9h-0.9zM298.7 488.1h0.9v0.9h-0.9zM289.9 498.5h0.9v0.9h-0.9zM279.3 493.5h0.9v0.9h-0.9zM292.0 498.0h0.9v0.9h-0.9zM292.9 498.3h0.9v0.9h-0.9zM295.5 491.3h0.9v0.9h-0.9zM292.2 495.2h0.9v0.9h-0.9zM279.9 491.8h0.9v0.9h-0.9zM282.1 494.8h0.9v0.9h-0.9zM293.8 492.6h0.9v0.9h-0.9zM290.7 496.5h0.9v0.9h-0.9zM284.5 495.3h0.9v0.9h-0.9zM291.1 497.7h0.9v0.9h-0.9zM277.8 486.6h0.9v0.9h-0.9zM296.0 491.8h0.9v0.9h-0.9zM282.5 493.2h0.9v0.9h-0.9zM280.8 496.9h0.9v0.9h-0.9zM294.6 496.2h0.9v0.9h-0.9zM288.2 498.4h0.9v0.9h-0.9zM289.2 498.0h0.9v0.9h-0.9zM285.9 495.7h0.9v0.9h-0.9zM285.9 496.7h0.9v0.9h-0.9zM284.3 496.0h0.9v0.9h-0.9zM296.8 493.2h0.9v0.9h-0.9zM283.0 493.7h0.9v0.9h-0.9zM281.5 490.3h0.9v0.9h-0.9zM297.6 490.5h0.9v0.9h-0.9zM290.3 498.3h0.9v0.9h-0.9zM287.4 498.5h0.9v0.9h-0.9zM290.2 498.1h0.9v0.9h-0.9zM292.9 494.2h0.9v0.9h-0.9zM291.8 496.8h0.9v0.9h-0.9zM272.8 485.5h0.9v0.9h-0.9zM288.3 497.6h0.9v0.9h-0.9zM281.7 497.2h0.9v0.9h-0.9zM280.4 492.7h0.9v0.9h-0.9zM289.2 497.6h0.9v0.9h-0.9zM287.2 498.5h0.9v0.9h-0.9zM285.3 497.0h0.9v0.9h-0.9zM289.7 497.8h0.9v0.9h-0.9zM303.1 488.9h0.9v0.9h-0.9zM294.5 495.1h0.9v0.9h-0.9zM284.2 497.3h0.9v0.9h-0.9zM285.6 496.6h0.9v0.9h-0.9zM284.4 495.3h0.9v0.9h-0.9zM287.2 498.3h0.9v0.9h-0.9zM293.7 498.0h0.9v0.9h-0.9zM289.5 498.6h0.9v0.9h-0.9zM289.2 497.6h0.9v0.9h-0.9zM282.9 493.7h0.9v0.9h-0.9zM294.8 491.7h0.9v0.9h-0.9zM301.2 490.6h0.9v0.9h-0.9zM295.1 495.0h0.9v0.9h-0.9zM293.6 495.7h0.9v0.9h-0.9zM288.3 497.7h0.9v0.9h-0.9zM287.9 497.4h0.9v0.9h-0.9zM282.2 492.5h0.9v0.9h-0.9zM286.6 497.4h0.9v0.9h-0.9zM287.2 498.0h0.9v0.9h-0.9zM289.7 498.0h0.9v0.9h-0.9zM291.0 498.4h0.9v0.9h-0.9zM280.4 493.9h0.9v0.9h-0.9zM292.3 497.6h0.9v0.9h-0.9zM283.4 494.0h0.9v0.9h-0.9zM285.9 497.2h0.9v0.9h-0.9zM288.8 498.0h0.9v0.9h-0.9zM289.3 497.6h0.9v0.9h-0.9zM292.1 495.6h0.9v0.9h-0.9zM284.9 497.6h0.9v0.9h-0.9zM284.9 495.9h0.9v0.9h-0.9zM281.4 493.2h0.9v0.9h-0.9zM285.8 496.3h0.9v0.9h-0.9zM290.8 496.1h0.9v0.9h-0.9zM293.4 493.5h0.9v0.9h-0.9zM290.3 498.6h0.9v0.9h-0.9zM287.8 498.5h0.9v0.9h-0.9zM281.3 496.9h0.9v0.9h-0.9zM293.0 496.0h0.9v0.9h-0.9zM291.4 496.6h0.9v0.9h-0.9zM290.2 497.7h0.9v0.9h-0.9zM285.0 496.8h0.9v0.9h-0.9zM284.7 497.7h0.9v0.9h-0.9zM283.4 493.6h0.9v0.9h-0.9zM297.6 496.3h0.9v0.9h-0.9zM297.3 491.9h0.9v0.9h-0.9zM296.8 491.0h0.9v0.9h-0.9zM290.6 498.2h0.9v0.9h-0.9zM295.4 492.1h0.9v0.9h-0.9zM282.9 492.0h0.9v0.9h-0.9zM295.7 495.6h0.9v0.9h-0.9zM279.2 488.1h0.9v0.9h-0.9zM286.0 497.5h0.9v0.9h-0.9zM287.2 497.1h0.9v0.9h-0.9zM291.1 498.5h0.9v0.9h-0.9zM296.0 494.2h0.9v0.9h-0.9zM293.1 495.2h0.9v0.9h-0.9zM285.8 498.4h0.9v0.9h-0.9zM299.3 494.3h0.9v0.9h-0.9zM287.7 498.4h0.9v0.9h-0.9zM286.9 497.3h0.9v0.9h-0.9zM287.3 498.6h0.9v0.9h-0.9zM284.3 497.0h0.9v0.9h-0.9zM288.2 498.7h0.9v0.9h-0.9zM283.2 494.3h0.9v0.9h-0.9zM276.4 484.3h0.9v0.9h-0.9zM283.2 492.9h0.9v0.9h-0.9zM278.7 494.0h0.9v0.9h-0.9zM293.3 497.0h0.9v0.9h-0.9zM277.3 486.0h0.9v0.9h-0.9zM297.6 495.0h0.9v0.9h-0.9zM285.2 497.4h0.9v0.9h-0.9zM293.6 496.4h0.9v0.9h-0.9zM286.0 497.1h0.9v0.9h-0.9zM291.7 495.9h0.9v0.9h-0.9zM277.6 490.4h0.9v0.9h-0.9zM286.1 498.3h0.9v0.9h-0.9zM289.8 498.4h0.9v0.9h-0.9zM276.3 494.7h0.9v0.9h-0.9zM281.3 493.7h0.9v0.9h-0.9zM288.3 497.6h0.9v0.9h-0.9zM282.5 497.6h0.9v0.9h-0.9zM279.9 492.7h0.9v0.9h-0.9zM289.7 498.7h0.9v0.9h-0.9zM286.5 497.0h0.9v0.9h-0.9zM291.2 496.9h0.9v0.9h-0.9zM287.5 498.6h0.9v0.9h-0.9zM288.8 498.5h0.9v0.9h-0.9zM280.1 495.6h0.9v0.9h-0.9zM289.8 497.5h0.9v0.9h-0.9zM281.5 495.2h0.9v0.9h-0.9zM280.5 492.0h0.9v0.9h-0.9zM303.0 488.0h0.9v0.9h-0.9zM279.4 490.6h0.9v0.9h-0.9zM286.8 496.7h0.9v0.9h-0.9zM279.2 490.8h0.9v0.9h-0.9zM295.3 491.9h0.9v0.9h-0.9zM293.1 494.0h0.9v0.9h-0.9zM278.0 486.1h0.9v0.9h-0.9zM284.2 495.2h0.9v0.9h-0.9zM283.2 493.7h0.9v0.9h-0.9zM283.3 497.5h0.9v0.9h-0.9zM292.1 495.8h0.9v0.9h-0.9zM295.1 496.9h0.9v0.9h-0.9zM288.7 498.6h0.9v0.9h-0.9zM284.5 494.0h0.9v0.9h-0.9zM291.4 498.5h0.9v0.9h-0.9zM288.0 498.0h0.9v0.9h-0.9zM291.9 495.8h0.9v0.9h-0.9zM290.0 498.0h0.9v0.9h-0.9zM291.1 497.2h0.9v0.9h-0.9zM290.5 498.5h0.9v0.9h-0.9zM288.2 498.6h0.9v0.9h-0.9zM290.0 497.5h0.9v0.9h-0.9zM293.5 495.4h0.9v0.9h-0.9zM289.7 498.4h0.9v0.9h-0.9zM293.0 497.7h0.9v0.9h-0.9zM289.3 498.1h0.9v0.9h-0.9zM283.7 494.1h0.9v0.9h-0.9zM284.3 494.3h0.9v0.9h-0.9zM289.7 497.3h0.9v0.9h-0.9zM284.8 494.5h0.9v0.9h-0.9zM295.6 494.6h0.9v0.9h-0.9zM289.4 497.4h0.9v0.9h-0.9zM291.0 496.5h0.9v0.9h-0.9zM283.4 495.6h0.9v0.9h-0.9zM294.1 496.8h0.9v0.9h-0.9zM298.2 494.8h0.9v0.9h-0.9zM288.5 498.7h0.9v0.9h-0.9zM283.2 493.7h0.9v0.9h-0.9zM290.1 497.4h0.9v0.9h-0.9zM286.2 498.3h0.9v0.9h-0.9zM286.8 498.1h0.9v0.9h-0.9zM288.3 498.2h0.9v0.9h-0.9zM301.6 487.5h0.9v0.9h-0.9zM294.0 495.4h0.9v0.9h-0.9zM288.9 498.6h0.9v0.9h-0.9zM289.1 497.8h0.9v0.9h-0.9zM288.7 497.8h0.9v0.9h-0.9zM290.2 498.3h0.9v0.9h-0.9zM286.7 497.2h0.9v0.9h-0.9zM294.9 495.2h0.9v0.9h-0.9zM293.1 493.6h0.9v0.9h-0.9zM278.6 493.9h0.9v0.9h-0.9zM282.7 493.2h0.9v0.9h-0.9zM277.0 494.7h0.9v0.9h-0.9zM296.0 491.4h0.9v0.9h-0.9zM291.1 497.3h0.9v0.9h-0.9zM296.6 496.3h0.9v0.9h-0.9zM291.7 497.7h0.9v0.9h-0.9zM284.4 498.1h0.9v0.9h-0.9zM286.7 497.2h0.9v0.9h-0.9zM295.6 495.5h0.9v0.9h-0.9zM287.9 498.3h0.9v0.9h-0.9zM286.4 497.6h0.9v0.9h-0.9zM300.5 488.4h0.9v0.9h-0.9zM286.7 498.6h0.9v0.9h-0.9zM282.1 496.5h0.9v0.9h-0.9zM295.9 493.7h0.9v0.9h-0.9zM288.2 497.6h0.9v0.9h-0.9zM289.3 497.7h0.9v0.9h-0.9zM291.4 497.9h0.9v0.9h-0.9zM297.4 494.2h0.9v0.9h-0.9zM284.0 496.9h0.9v0.9h-0.9zM287.8 498.3h0.9v0.9h-0.9zM286.7 498.3h0.9v0.9h-0.9zM284.9 495.7h0.9v0.9h-0.9zM281.9 494.2h0.9v0.9h-0.9zM302.2 485.6h0.9v0.9h-0.9zM283.3 497.8h0.9v0.9h-0.9zM299.2 494.9h0.9v0.9h-0.9zM296.8 491.6h0.9v0.9h-0.9zM294.3 497.2h0.9v0.9h-0.9zM279.4 491.8h0.9v0.9h-0.9zM295.9 497.0h0.9v0.9h-0.9zM289.6 498.6h0.9v0.9h-0.9zM292.7 496.9h0.9v0.9h-0.9zM301.6 490.2h0.9v0.9h-0.9zM295.2 494.6h0.9v0.9h-0.9zM282.7 493.0h0.9v0.9h-0.9zM280.6 494.6h0.9v0.9h-0.9zM285.9 498.5h0.9v0.9h-0.9zM294.7 495.8h0.9v0.9h-0.9zM283.6 494.1h0.9v0.9h-0.9zM272.3 483.5h0.9v0.9h-0.9zM288.1 498.4h0.9v0.9h-0.9zM288.3 498.4h0.9v0.9h-0.9zM287.3 498.2h0.9v0.9h-0.9zM286.7 497.7h0.9v0.9h-0.9zM291.9 496.5h0.9v0.9h-0.9zM277.8 494.7h0.9v0.9h-0.9zM290.5 497.6h0.9v0.9h-0.9zM275.7 491.2h0.9v0.9h-0.9zM285.6 496.4h0.9v0.9h-0.9zM289.1 497.5h0.9v0.9h-0.9zM279.3 489.1h0.9v0.9h-0.9zM288.1 498.6h0.9v0.9h-0.9zM297.3 495.6h0.9v0.9h-0.9zM286.1 498.5h0.9v0.9h-0.9zM289.3 497.9h0.9v0.9h-0.9zM297.2 494.7h0.9v0.9h-0.9zM294.4 495.6h0.9v0.9h-0.9zM286.5 498.5h0.9v0.9h-0.9zM292.4 494.8h0.9v0.9h-0.9zM288.5 498.2h0.9v0.9h-0.9zM281.7 496.1h0.9v0.9h-0.9zM286.1 496.1h0.9v0.9h-0.9zM300.5 489.1h0.9v0.9h-0.9zM288.5 498.7h0.9v0.9h-0.9zM291.4 495.8h0.9v0.9h-0.9zM284.5 497.6h0.9v0.9h-0.9zM278.6 494.9h0.9v0.9h-0.9zM283.8 495.8h0.9v0.9h-0.9zM290.5 498.4h0.9v0.9h-0.9zM289.8 497.1h0.9v0.9h-0.9zM297.5 494.6h0.9v0.9h-0.9zM285.7 496.6h0.9v0.9h-0.9zM288.6 498.2h0.9v0.9h-0.9zM283.0 493.4h0.9v0.9h-0.9zM293.2 496.3h0.9v0.9h-0.9zM289.5 498.6h0.9v0.9h-0.9zM283.0 497.3h0.9v0.9h-0.9zM294.4 495.2h0.9v0.9h-0.9zM288.4 498.5h0.9v0.9h-0.9zM297.1 492.0h0.9v0.9h-0.9zM298.1 495.6h0.9v0.9h-0.9zM291.3 495.7h0.9v0.9h-0.9zM283.4 496.2h0.9v0.9h-0.9zM284.9 496.2h0.9v0.9h-0.9zM285.2 495.8h0.9v0.9h-0.9zM279.3 492.8h0.9v0.9h-0.9zM300.9 485.2h0.9v0.9h-0.9zM288.7 498.4h0.9v0.9h-0.9zM281.7 491.2h0.9v0.9h-0.9zM292.3 496.6h0.9v0.9h-0.9zM282.5 492.2h0.9v0.9h-0.9zM288.0 498.4h0.9v0.9h-0.9zM298.5 487.7h0.9v0.9h-0.9zM292.4 495.5h0.9v0.9h-0.9zM280.6 495.2h0.9v0.9h-0.9zM283.1 494.9h0.9v0.9h-0.9zM292.0 497.1h0.9v0.9h-0.9zM290.4 497.7h0.9v0.9h-0.9zM287.4 497.7h0.9v0.9h-0.9zM290.3 497.7h0.9v0.9h-0.9zM289.4 498.3h0.9v0.9h-0.9zM294.4 496.9h0.9v0.9h-0.9zM301.5 482.9h0.9v0.9h-0.9zM294.8 493.9h0.9v0.9h-0.9zM293.4 494.2h0.9v0.9h-0.9zM284.2 497.5h0.9v0.9h-0.9zM288.9 497.7h0.9v0.9h-0.9zM281.0 496.8h0.9v0.9h-0.9zM289.9 497.9h0.9v0.9h-0.9zM286.0 495.8h0.9v0.9h-0.9zM293.7 496.9h0.9v0.9h-0.9zM289.1 498.4h0.9v0.9h-0.9zM301.3 485.4h0.9v0.9h-0.9zM294.1 496.1h0.9v0.9h-0.9zM283.9 498.1h0.9v0.9h-0.9zM295.5 497.4h0.9v0.9h-0.9zM293.4 496.0h0.9v0.9h-0.9zM285.9 495.8h0.9v0.9h-0.9zM296.0 496.3h0.9v0.9h-0.9zM288.1 498.5h0.9v0.9h-0.9zM300.8 493.4h0.9v0.9h-0.9zM282.9 493.1h0.9v0.9h-0.9zM284.8 497.9h0.9v0.9h-0.9zM294.6 492.4h0.9v0.9h-0.9zM293.2 495.4h0.9v0.9h-0.9zM288.9 498.6h0.9v0.9h-0.9zM290.5 498.5h0.9v0.9h-0.9zM287.7 497.8h0.9v0.9h-0.9zM283.9 494.0h0.9v0.9h-0.9zM301.4 486.7h0.9v0.9h-0.9zM295.4 491.0h0.9v0.9h-0.9zM296.3 494.4h0.9v0.9h-0.9zM293.0 497.2h0.9v0.9h-0.9zM291.2 496.7h0.9v0.9h-0.9zM290.4 498.3h0.9v0.9h-0.9zM292.8 495.6h0.9v0.9h-0.9zM290.6 497.3h0.9v0.9h-0.9zM283.3 493.2h0.9v0.9h-0.9zM285.3 497.7h0.9v0.9h-0.9zM286.7 496.6h0.9v0.9h-0.9zM286.6 497.3h0.9v0.9h-0.9zM284.7 498.2h0.9v0.9h-0.9zM295.7 494.1h0.9v0.9h-0.9zM288.4 498.2h0.9v0.9h-0.9zM297.1 495.1h0.9v0.9h-0.9zM291.4 498.0h0.9v0.9h-0.9zM289.9 498.3h0.9v0.9h-0.9zM286.6 497.0h0.9v0.9h-0.9zM289.2 498.1h0.9v0.9h-0.9zM294.1 497.3h0.9v0.9h-0.9zM303.8 492.6h0.9v0.9h-0.9zM277.9 491.9h0.9v0.9h-0.9zM289.1 497.6h0.9v0.9h-0.9zM282.9 495.4h0.9v0.9h-0.9zM292.4 496.0h0.9v0.9h-0.9zM296.2 495.1h0.9v0.9h-0.9zM283.1 495.4h0.9v0.9h-0.9zM280.0 493.1h0.9v0.9h-0.9zM294.4 495.2h0.9v0.9h-0.9zM281.3 490.3h0.9v0.9h-0.9zM294.0 497.4h0.9v0.9h-0.9zM298.7 490.8h0.9v0.9h-0.9zM289.7 497.6h0.9v0.9h-0.9zM295.7 492.0h0.9v0.9h-0.9zM290.2 497.9h0.9v0.9h-0.9zM284.7 497.7h0.9v0.9h-0.9zM282.7 497.7h0.9v0.9h-0.9zM285.5 496.7h0.9v0.9h-0.9zM287.3 497.2h0.9v0.9h-0.9zM281.2 496.4h0.9v0.9h-0.9zM289.7 498.0h0.9v0.9h-0.9zM290.0 498.0h0.9v0.9h-0.9zM284.5 495.0h0.9v0.9h-0.9zM290.8 498.5h0.9v0.9h-0.9zM295.8 493.9h0.9v0.9h-0.9zM284.6 495.1h0.9v0.9h-0.9zM289.3 498.4h0.9v0.9h-0.9zM292.6 498.3h0.9v0.9h-0.9zM285.7 497.1h0.9v0.9h-0.9zM297.0 495.3h0.9v0.9h-0.9zM286.8 497.0h0.9v0.9h-0.9zM287.7 498.6h0.9v0.9h-0.9zM289.0 498.0h0.9v0.9h-0.9zM292.7 494.8h0.9v0.9h-0.9zM289.6 498.2h0.9v0.9h-0.9zM286.9 498.1h0.9v0.9h-0.9zM292.5 498.3h0.9v0.9h-0.9zM278.6 486.4h0.9v0.9h-0.9zM289.8 498.6h0.9v0.9h-0.9zM279.2 496.3h0.9v0.9h-0.9zM291.9 497.9h0.9v0.9h-0.9zM291.7 497.4h0.9v0.9h-0.9zM286.9 498.2h0.9v0.9h-0.9zM286.9 498.6h0.9v0.9h-0.9zM290.2 496.7h0.9v0.9h-0.9zM289.9 498.4h0.9v0.9h-0.9zM279.0 494.6h0.9v0.9h-0.9zM284.7 496.7h0.9v0.9h-0.9zM287.6 497.3h0.9v0.9h-0.9zM285.4 495.0h0.9v0.9h-0.9zM293.3 495.4h0.9v0.9h-0.9zM295.2 493.6h0.9v0.9h-0.9zM290.6 498.6h0.9v0.9h-0.9zM283.8 493.9h0.9v0.9h-0.9zM297.1 492.5h0.9v0.9h-0.9zM294.3 496.0h0.9v0.9h-0.9zM284.5 494.8h0.9v0.9h-0.9zM281.1 496.2h0.9v0.9h-0.9zM296.4 495.0h0.9v0.9h-0.9zM292.2 498.0h0.9v0.9h-0.9zM296.2 496.2h0.9v0.9h-0.9zM290.6 498.1h0.9v0.9h-0.9zM295.9 494.6h0.9v0.9h-0.9zM298.4 488.2h0.9v0.9h-0.9zM288.7 498.6h0.9v0.9h-0.9zM287.3 497.6h0.9v0.9h-0.9zM290.7 498.0h0.9v0.9h-0.9zM288.9 498.6h0.9v0.9h-0.9zM290.3 498.3h0.9v0.9h-0.9zM278.0 489.1h0.9v0.9h-0.9zM297.9 494.7h0.9v0.9h-0.9zM286.8 496.6h0.9v0.9h-0.9zM291.8 497.5h0.9v0.9h-0.9zM290.0 497.1h0.9v0.9h-0.9zM279.1 496.4h0.9v0.9h-0.9zM286.4 498.5h0.9v0.9h-0.9zM294.6 492.5h0.9v0.9h-0.9zM284.2 496.2h0.9v0.9h-0.9zM298.6 495.9h0.9v0.9h-0.9zM285.5 498.4h0.9v0.9h-0.9zM291.9 498.1h0.9v0.9h-0.9zM287.8 498.4h0.9v0.9h-0.9zM288.2 498.3h0.9v0.9h-0.9zM285.8 496.5h0.9v0.9h-0.9zM288.1 498.5h0.9v0.9h-0.9zM287.7 498.6h0.9v0.9h-0.9zM280.0 495.6h0.9v0.9h-0.9zM287.2 498.1h0.9v0.9h-0.9zM298.7 493.1h0.9v0.9h-0.9zM292.0 497.6h0.9v0.9h-0.9zM285.7 497.7h0.9v0.9h-0.9zM289.4 498.7h0.9v0.9h-0.9zM290.8 497.2h0.9v0.9h-0.9zM278.7 486.8h0.9v0.9h-0.9zM284.5 497.3h0.9v0.9h-0.9zM282.4 496.8h0.9v0.9h-0.9zM276.8 488.1h0.9v0.9h-0.9zM281.3 491.1h0.9v0.9h-0.9zM275.6 492.4h0.9v0.9h-0.9zM287.2 498.1h0.9v0.9h-0.9zM287.1 498.1h0.9v0.9h-0.9zM294.8 496.2h0.9v0.9h-0.9zM291.3 497.3h0.9v0.9h-0.9zM288.4 498.4h0.9v0.9h-0.9zM292.7 496.6h0.9v0.9h-0.9zM293.7 497.2h0.9v0.9h-0.9zM297.0 496.5h0.9v0.9h-0.9zM285.5 498.2h0.9v0.9h-0.9zM294.5 494.7h0.9v0.9h-0.9zM286.7 497.2h0.9v0.9h-0.9zM281.5 497.4h0.9v0.9h-0.9zM284.5 498.2h0.9v0.9h-0.9zM292.8 496.8h0.9v0.9h-0.9zM295.9 493.5h0.9v0.9h-0.9zM291.5 497.3h0.9v0.9h-0.9zM286.9 498.7h0.9v0.9h-0.9zM293.3 496.8h0.9v0.9h-0.9zM295.3 496.3h0.9v0.9h-0.9zM284.0 495.2h0.9v0.9h-0.9zM291.8 496.6h0.9v0.9h-0.9zM295.5 490.8h0.9v0.9h-0.9zM283.8 493.4h0.9v0.9h-0.9zM295.3 492.6h0.9v0.9h-0.9zM283.0 496.0h0.9v0.9h-0.9zM282.9 495.9h0.9v0.9h-0.9zM287.2 497.1h0.9v0.9h-0.9zM300.6 491.6h0.9v0.9h-0.9zM290.5 498.5h0.9v0.9h-0.9zM288.1 498.2h0.9v0.9h-0.9zM286.9 496.7h0.9v0.9h-0.9zM294.6 497.2h0.9v0.9h-0.9zM290.7 497.2h0.9v0.9h-0.9zM293.3 497.4h0.9v0.9h-0.9zM296.9 494.4h0.9v0.9h-0.9zM289.1 498.5h0.9v0.9h-0.9zM280.1 492.8h0.9v0.9h-0.9zM289.4 498.0h0.9v0.9h-0.9zM278.2 486.1h0.9v0.9h-0.9zM284.7 497.3h0.9v0.9h-0.9zM281.7 495.8h0.9v0.9h-0.9zM299.7 488.5h0.9v0.9h-0.9zM285.9 495.6h0.9v0.9h-0.9zM280.1 490.2h0.9v0.9h-0.9zM293.7 495.8h0.9v0.9h-0.9zM296.4 493.3h0.9v0.9h-0.9zM285.6 496.2h0.9v0.9h-0.9zM292.8 496.2h0.9v0.9h-0.9zM289.4 498.4h0.9v0.9h-0.9zM293.8 497.4h0.9v0.9h-0.9zM285.9 498.5h0.9v0.9h-0.9zM288.8 498.7h0.9v0.9h-0.9zM296.8 496.4h0.9v0.9h-0.9zM294.9 495.3h0.9v0.9h-0.9zM290.1 498.5h0.9v0.9h-0.9zM282.0 491.9h0.9v0.9h-0.9zM290.5 498.3h0.9v0.9h-0.9zM287.6 498.1h0.9v0.9h-0.9zM290.9 496.9h0.9v0.9h-0.9zM283.1 496.9h0.9v0.9h-0.9zM287.9 498.4h0.9v0.9h-0.9zM283.7 494.4h0.9v0.9h-0.9zM295.5 494.0h0.9v0.9h-0.9zM279.3 493.4h0.9v0.9h-0.9zM286.7 496.9h0.9v0.9h-0.9zM280.7 491.0h0.9v0.9h-0.9zM293.3 495.1h0.9v0.9h-0.9zM293.4 497.4h0.9v0.9h-0.9zM289.5 498.0h0.9v0.9h-0.9zM290.0 497.0h0.9v0.9h-0.9zM292.3 495.8h0.9v0.9h-0.9zM288.5 498.4h0.9v0.9h-0.9zM284.8 494.6h0.9v0.9h-0.9zM284.5 493.9h0.9v0.9h-0.9zM298.4 495.6h0.9v0.9h-0.9zM292.0 498.4h0.9v0.9h-0.9zM286.8 496.5h0.9v0.9h-0.9zM298.9 495.3h0.9v0.9h-0.9zM288.4 498.2h0.9v0.9h-0.9zM290.3 497.8h0.9v0.9h-0.9zM285.3 495.7h0.9v0.9h-0.9zM292.9 494.6h0.9v0.9h-0.9zM287.8 498.0h0.9v0.9h-0.9zM295.1 492.8h0.9v0.9h-0.9zM295.2 493.3h0.9v0.9h-0.9zM288.3 498.2h0.9v0.9h-0.9zM290.2 498.5h0.9v0.9h-0.9zM285.7 498.3h0.9v0.9h-0.9zM293.4 496.1h0.9v0.9h-0.9zM287.1 498.6h0.9v0.9h-0.9zM288.5 498.2h0.9v0.9h-0.9zM290.2 498.5h0.9v0.9h-0.9zM285.6 498.0h0.9v0.9h-0.9zM285.5 497.1h0.9v0.9h-0.9zM285.9 498.5h0.9v0.9h-0.9zM292.7 498.2h0.9v0.9h-0.9zM293.2 498.0h0.9v0.9h-0.9zM285.7 498.2h0.9v0.9h-0.9zM291.3 498.2h0.9v0.9h-0.9zM293.9 496.2h0.9v0.9h-0.9zM283.8 494.2h0.9v0.9h-0.9zM287.4 497.9h0.9v0.9h-0.9zM290.4 497.4h0.9v0.9h-0.9zM285.5 495.3h0.9v0.9h-0.9zM285.6 495.7h0.9v0.9h-0.9zM295.8 491.5h0.9v0.9h-0.9zM288.8 498.0h0.9v0.9h-0.9zM289.7 498.5h0.9v0.9h-0.9zM290.4 498.5h0.9v0.9h-0.9zM294.3 493.7h0.9v0.9h-0.9zM291.7 497.7h0.9v0.9h-0.9zM288.2 498.6h0.9v0.9h-0.9zM289.0 497.6h0.9v0.9h-0.9zM296.7 490.8h0.9v0.9h-0.9zM289.6 497.6h0.9v0.9h-0.9zM288.5 497.9h0.9v0.9h-0.9zM282.8 493.1h0.9v0.9h-0.9zM291.1 498.4h0.9v0.9h-0.9zM295.1 493.3h0.9v0.9h-0.9zM287.1 498.4h0.9v0.9h-0.9zM290.2 497.7h0.9v0.9h-0.9zM288.3 498.6h0.9v0.9h-0.9zM284.5 495.7h0.9v0.9h-0.9zM292.9 494.7h0.9v0.9h-0.9zM283.2 496.4h0.9v0.9h-0.9zM295.7 495.9h0.9v0.9h-0.9zM293.6 497.8h0.9v0.9h-0.9zM286.0 497.8h0.9v0.9h-0.9zM288.8 497.9h0.9v0.9h-0.9zM284.8 496.4h0.9v0.9h-0.9zM287.4 498.6h0.9v0.9h-0.9zM285.5 498.2h0.9v0.9h-0.9zM285.2 498.4h0.9v0.9h-0.9zM294.4 495.3h0.9v0.9h-0.9zM284.6 496.3h0.9v0.9h-0.9zM292.2 494.7h0.9v0.9h-0.9zM292.7 497.3h0.9v0.9h-0.9zM301.4 486.1h0.9v0.9h-0.9zM303.4 488.5h0.9v0.9h-0.9zM300.7 484.1h0.9v0.9h-0.9zM290.3 497.3h0.9v0.9h-0.9zM295.3 496.8h0.9v0.9h-0.9zM287.7 497.4h0.9v0.9h-0.9zM298.3 494.0h0.9v0.9h-0.9zM291.4 495.4h0.9v0.9h-0.9zM294.4 497.3h0.9v0.9h-0.9zM285.0 496.2h0.9v0.9h-0.9zM284.5 497.7h0.9v0.9h-0.9zM279.4 489.0h0.9v0.9h-0.9zM280.4 492.3h0.9v0.9h-0.9zM281.0 496.7h0.9v0.9h-0.9zM288.8 497.8h0.9v0.9h-0.9zM286.5 497.2h0.9v0.9h-0.9zM282.7 495.8h0.9v0.9h-0.9zM285.7 496.8h0.9v0.9h-0.9zM292.0 496.6h0.9v0.9h-0.9zM287.5 497.8h0.9v0.9h-0.9zM288.9 498.3h0.9v0.9h-0.9zM282.1 491.5h0.9v0.9h-0.9zM284.4 497.9h0.9v0.9h-0.9zM292.9 495.1h0.9v0.9h-0.9zM285.2 494.7h0.9v0.9h-0.9zM298.4 493.1h0.9v0.9h-0.9zM291.2 495.6h0.9v0.9h-0.9zM286.7 497.7h0.9v0.9h-0.9zM290.3 497.5h0.9v0.9h-0.9zM300.9 484.1h0.9v0.9h-0.9zM294.4 495.3h0.9v0.9h-0.9zM279.3 487.3h0.9v0.9h-0.9zM300.6 487.6h0.9v0.9h-0.9zM294.0 497.0h0.9v0.9h-0.9zM291.5 497.1h0.9v0.9h-0.9zM282.7 492.6h0.9v0.9h-0.9zM290.7 497.2h0.9v0.9h-0.9zM293.8 497.8h0.9v0.9h-0.9zM278.8 492.3h0.9v0.9h-0.9zM285.4 497.9h0.9v0.9h-0.9zM292.8 495.0h0.9v0.9h-0.9zM277.4 490.4h0.9v0.9h-0.9zM298.3 495.4h0.9v0.9h-0.9zM282.9 496.2h0.9v0.9h-0.9zM290.4 498.1h0.9v0.9h-0.9zM290.1 497.1h0.9v0.9h-0.9zM290.6 498.4h0.9v0.9h-0.9zM286.4 497.8h0.9v0.9h-0.9zM294.1 492.9h0.9v0.9h-0.9zM282.1 497.4h0.9v0.9h-0.9zM293.3 495.4h0.9v0.9h-0.9zM288.7 497.8h0.9v0.9h-0.9zM288.5 498.1h0.9v0.9h-0.9zM285.0 497.0h0.9v0.9h-0.9zM294.7 496.3h0.9v0.9h-0.9zM289.6 497.9h0.9v0.9h-0.9zM287.6 497.7h0.9v0.9h-0.9zM297.4 495.7h0.9v0.9h-0.9zM295.7 494.6h0.9v0.9h-0.9zM296.0 496.8h0.9v0.9h-0.9zM300.1 489.4h0.9v0.9h-0.9zM298.9 493.2h0.9v0.9h-0.9zM295.8 492.8h0.9v0.9h-0.9zM288.6 498.5h0.9v0.9h-0.9zM283.2 496.1h0.9v0.9h-0.9zM294.4 495.8h0.9v0.9h-0.9zM296.1 491.3h0.9v0.9h-0.9zM283.3 495.6h0.9v0.9h-0.9zM292.8 494.1h0.9v0.9h-0.9zM283.5 497.2h0.9v0.9h-0.9zM297.0 492.6h0.9v0.9h-0.9zM286.3 498.1h0.9v0.9h-0.9zM301.4 484.7h0.9v0.9h-0.9zM286.0 495.9h0.9v0.9h-0.9zM282.9 496.1h0.9v0.9h-0.9zM288.7 498.3h0.9v0.9h-0.9zM280.6 496.8h0.9v0.9h-0.9zM284.7 496.8h0.9v0.9h-0.9zM291.5 495.5h0.9v0.9h-0.9zM286.5 497.2h0.9v0.9h-0.9zM298.3 494.7h0.9v0.9h-0.9zM286.3 496.3h0.9v0.9h-0.9zM290.8 498.2h0.9v0.9h-0.9zM284.1 494.4h0.9v0.9h-0.9zM291.8 495.6h0.9v0.9h-0.9zM282.5 497.4h0.9v0.9h-0.9zM284.8 494.8h0.9v0.9h-0.9zM294.1 496.3h0.9v0.9h-0.9zM292.2 495.8h0.9v0.9h-0.9zM286.3 496.3h0.9v0.9h-0.9zM284.1 493.7h0.9v0.9h-0.9zM297.8 493.0h0.9v0.9h-0.9zM290.3 498.1h0.9v0.9h-0.9zM283.8 495.0h0.9v0.9h-0.9zM290.3 497.6h0.9v0.9h-0.9zM285.9 495.6h0.9v0.9h-0.9zM279.8 491.6h0.9v0.9h-0.9zM296.2 492.2h0.9v0.9h-0.9zM291.4 497.4h0.9v0.9h-0.9zM289.0 498.4h0.9v0.9h-0.9zM286.6 496.4h0.9v0.9h-0.9zM285.4 498.0h0.9v0.9h-0.9zM286.7 498.0h0.9v0.9h-0.9zM291.6 496.2h0.9v0.9h-0.9zM292.3 496.0h0.9v0.9h-0.9zM290.9 497.1h0.9v0.9h-0.9zM288.8 497.9h0.9v0.9h-0.9zM284.3 495.2h0.9v0.9h-0.9zM289.6 498.1h0.9v0.9h-0.9zM286.0 498.6h0.9v0.9h-0.9zM298.6 487.6h0.9v0.9h-0.9zM277.5 495.5h0.9v0.9h-0.9zM284.5 496.3h0.9v0.9h-0.9zM295.3 497.2h0.9v0.9h-0.9zM290.4 497.8h0.9v0.9h-0.9zM284.0 497.8h0.9v0.9h-0.9zM286.1 498.4h0.9v0.9h-0.9zM287.7 498.1h0.9v0.9h-0.9zM286.1 498.1h0.9v0.9h-0.9zM299.4 492.2h0.9v0.9h-0.9zM293.2 496.4h0.9v0.9h-0.9zM290.5 497.6h0.9v0.9h-0.9zM277.3 494.8h0.9v0.9h-0.9zM292.1 495.3h0.9v0.9h-0.9zM298.4 492.0h0.9v0.9h-0.9zM302.7 489.4h0.9v0.9h-0.9zM279.6 488.1h0.9v0.9h-0.9zM281.0 494.7h0.9v0.9h-0.9zM292.7 494.9h0.9v0.9h-0.9zM289.3 497.8h0.9v0.9h-0.9zM288.2 498.2h0.9v0.9h-0.9zM285.5 498.5h0.9v0.9h-0.9zM293.1 493.6h0.9v0.9h-0.9zM292.4 496.0h0.9v0.9h-0.9zM290.2 498.0h0.9v0.9h-0.9zM287.5 498.7h0.9v0.9h-0.9zM288.9 497.7h0.9v0.9h-0.9zM292.1 497.5h0.9v0.9h-0.9zM280.0 489.4h0.9v0.9h-0.9zM289.7 497.2h0.9v0.9h-0.9zM282.4 492.0h0.9v0.9h-0.9zM286.0 497.7h0.9v0.9h-0.9zM286.0 498.0h0.9v0.9h-0.9zM298.8 493.2h0.9v0.9h-0.9zM282.7 496.1h0.9v0.9h-0.9zM292.1 497.1h0.9v0.9h-0.9zM287.2 497.2h0.9v0.9h-0.9zM289.7 498.7h0.9v0.9h-0.9zM281.4 495.0h0.9v0.9h-0.9zM287.7 498.5h0.9v0.9h-0.9zM293.9 496.7h0.9v0.9h-0.9zM292.6 496.6h0.9v0.9h-0.9zM290.3 497.8h0.9v0.9h-0.9zM299.3 495.7h0.9v0.9h-0.9zM275.6 494.3h0.9v0.9h-0.9zM298.0 491.6h0.9v0.9h-0.9zM294.8 494.3h0.9v0.9h-0.9zM287.6 498.3h0.9v0.9h-0.9zM286.4 497.3h0.9v0.9h-0.9zM297.2 494.8h0.9v0.9h-0.9zM281.6 492.4h0.9v0.9h-0.9zM289.2 498.7h0.9v0.9h-0.9zM293.0 497.3h0.9v0.9h-0.9zM291.7 495.9h0.9v0.9h-0.9zM278.1 492.6h0.9v0.9h-0.9zM294.6 496.5h0.9v0.9h-0.9zM287.9 497.5h0.9v0.9h-0.9zM286.7 496.9h0.9v0.9h-0.9zM286.5 496.7h0.9v0.9h-0.9zM293.9 493.9h0.9v0.9h-0.9zM287.7 497.7h0.9v0.9h-0.9zM287.4 498.7h0.9v0.9h-0.9zM283.5 493.1h0.9v0.9h-0.9zM283.5 495.0h0.9v0.9h-0.9zM303.4 483.7h0.9v0.9h-0.9zM291.1 497.2h0.9v0.9h-0.9zM299.2 492.3h0.9v0.9h-0.9zM289.4 497.9h0.9v0.9h-0.9zM302.9 493.0h0.9v0.9h-0.9zM287.6 497.6h0.9v0.9h-0.9zM279.4 493.8h0.9v0.9h-0.9zM292.9 496.6h0.9v0.9h-0.9zM286.2 497.9h0.9v0.9h-0.9zM290.3 497.3h0.9v0.9h-0.9zM291.8 495.6h0.9v0.9h-0.9zM290.4 497.4h0.9v0.9h-0.9zM286.2 498.4h0.9v0.9h-0.9zM288.2 498.5h0.9v0.9h-0.9zM296.7 489.6h0.9v0.9h-0.9zM286.8 498.4h0.9v0.9h-0.9zM282.4 492.6h0.9v0.9h-0.9zM293.0 497.9h0.9v0.9h-0.9zM294.0 497.9h0.9v0.9h-0.9zM284.1 496.5h0.9v0.9h-0.9zM282.4 491.8h0.9v0.9h-0.9zM295.5 494.5h0.9v0.9h-0.9zM286.8 497.1h0.9v0.9h-0.9zM283.3 497.7h0.9v0.9h-0.9zM288.9 498.1h0.9v0.9h-0.9zM285.3 498.0h0.9v0.9h-0.9zM287.0 498.1h0.9v0.9h-0.9zM292.1 496.4h0.9v0.9h-0.9zM282.9 494.9h0.9v0.9h-0.9zM288.3 497.8h0.9v0.9h-0.9zM283.9 496.2h0.9v0.9h-0.9zM295.5 490.6h0.9v0.9h-0.9zM284.5 497.6h0.9v0.9h-0.9zM297.6 495.0h0.9v0.9h-0.9zM288.1 498.5h0.9v0.9h-0.9zM281.0 497.0h0.9v0.9h-0.9zM291.8 496.2h0.9v0.9h-0.9zM283.7 496.3h0.9v0.9h-0.9zM283.2 492.4h0.9v0.9h-0.9zM283.7 493.5h0.9v0.9h-0.9zM282.2 496.6h0.9v0.9h-0.9zM291.0 496.7h0.9v0.9h-0.9zM293.3 494.1h0.9v0.9h-0.9zM292.3 498.3h0.9v0.9h-0.9zM286.5 497.5h0.9v0.9h-0.9zM281.4 495.5h0.9v0.9h-0.9zM297.9 489.9h0.9v0.9h-0.9zM301.5 485.2h0.9v0.9h-0.9zM298.0 495.1h0.9v0.9h-0.9zM295.3 496.6h0.9v0.9h-0.9zM280.7 496.6h0.9v0.9h-0.9zM287.2 497.4h0.9v0.9h-0.9zM277.5 485.8h0.9v0.9h-0.9zM282.5 493.7h0.9v0.9h-0.9zM279.0 490.1h0.9v0.9h-0.9zM300.6 492.6h0.9v0.9h-0.9zM295.3 496.2h0.9v0.9h-0.9zM281.3 496.0h0.9v0.9h-0.9zM296.7 495.6h0.9v0.9h-0.9zM290.1 498.3h0.9v0.9h-0.9zM289.0 498.3h0.9v0.9h-0.9zM292.4 497.6h0.9v0.9h-0.9zM288.0 498.2h0.9v0.9h-0.9zM294.0 493.2h0.9v0.9h-0.9zM295.7 491.5h0.9v0.9h-0.9zM299.5 490.0h0.9v0.9h-0.9zM279.3 492.3h0.9v0.9h-0.9zM286.3 497.1h0.9v0.9h-0.9zM298.5 494.4h0.9v0.9h-0.9zM283.8 498.0h0.9v0.9h-0.9zM294.5 493.2h0.9v0.9h-0.9zM286.8 498.3h0.9v0.9h-0.9zM283.3 494.3h0.9v0.9h-0.9zM290.8 496.2h0.9v0.9h-0.9zM281.0 495.2h0.9v0.9h-0.9zM288.8 498.6h0.9v0.9h-0.9zM291.9 495.1h0.9v0.9h-0.9zM288.1 498.0h0.9v0.9h-0.9zM301.1 494.0h0.9v0.9h-0.9zM294.9 494.5h0.9v0.9h-0.9zM302.7 490.7h0.9v0.9h-0.9zM301.8 483.9h0.9v0.9h-0.9zM297.6 496.3h0.9v0.9h-0.9zM292.5 498.3h0.9v0.9h-0.9zM273.1 484.0h0.9v0.9h-0.9zM281.4 491.3h0.9v0.9h-0.9zM290.7 498.5h0.9v0.9h-0.9zM281.7 494.3h0.9v0.9h-0.9zM292.1 497.4h0.9v0.9h-0.9zM296.0 494.1h0.9v0.9h-0.9zM292.2 497.1h0.9v0.9h-0.9zM298.3 492.4h0.9v0.9h-0.9zM295.4 494.2h0.9v0.9h-0.9zM292.5 494.3h0.9v0.9h-0.9zM286.0 497.9h0.9v0.9h-0.9zM287.8 498.4h0.9v0.9h-0.9zM284.7 494.3h0.9v0.9h-0.9zM275.0 482.3h0.9v0.9h-0.9zM300.0 485.3h0.9v0.9h-0.9zM283.5 498.0h0.9v0.9h-0.9zM280.8 492.2h0.9v0.9h-0.9zM289.6 497.9h0.9v0.9h-0.9zM278.1 495.4h0.9v0.9h-0.9zM279.6 492.7h0.9v0.9h-0.9zM290.6 498.5h0.9v0.9h-0.9zM288.7 497.8h0.9v0.9h-0.9zM290.4 498.6h0.9v0.9h-0.9zM288.7 497.8h0.9v0.9h-0.9zM286.2 497.2h0.9v0.9h-0.9zM282.1 492.9h0.9v0.9h-0.9zM289.1 498.7h0.9v0.9h-0.9zM288.9 497.9h0.9v0.9h-0.9zM300.7 491.2h0.9v0.9h-0.9zM287.3 498.2h0.9v0.9h-0.9zM288.4 497.9h0.9v0.9h-0.9zM290.0 498.4h0.9v0.9h-0.9zM282.5 496.2h0.9v0.9h-0.9zM285.2 496.1h0.9v0.9h-0.9zM284.7 494.7h0.9v0.9h-0.9zM290.3 498.4h0.9v0.9h-0.9zM291.9 497.0h0.9v0.9h-0.9zM292.9 494.8h0.9v0.9h-0.9zM286.8 497.4h0.9v0.9h-0.9zM293.0 497.3h0.9v0.9h-0.9zM284.3 494.4h0.9v0.9h-0.9zM288.4 498.6h0.9v0.9h-0.9zM289.7 498.3h0.9v0.9h-0.9zM294.3 493.9h0.9v0.9h-0.9zM284.0 495.9h0.9v0.9h-0.9zM279.3 496.1h0.9v0.9h-0.9zM289.5 498.5h0.9v0.9h-0.9zM284.4 496.8h0.9v0.9h-0.9zM295.0 495.8h0.9v0.9h-0.9zM288.7 497.7h0.9v0.9h-0.9zM295.2 497.1h0.9v0.9h-0.9zM288.7 497.9h0.9v0.9h-0.9zM290.2 497.2h0.9v0.9h-0.9zM283.5 496.5h0.9v0.9h-0.9zM287.1 497.4h0.9v0.9h-0.9zM297.2 493.4h0.9v0.9h-0.9zM289.5 498.1h0.9v0.9h-0.9zM288.1 498.4h0.9v0.9h-0.9zM301.7 493.2h0.9v0.9h-0.9zM294.6 497.0h0.9v0.9h-0.9zM300.5 484.8h0.9v0.9h-0.9zM278.1 493.2h0.9v0.9h-0.9zM292.2 495.8h0.9v0.9h-0.9zM287.6 497.3h0.9v0.9h-0.9zM290.3 497.4h0.9v0.9h-0.9zM292.2 495.0h0.9v0.9h-0.9zM286.8 497.9h0.9v0.9h-0.9zM274.0 489.4h0.9v0.9h-0.9zM292.7 494.2h0.9v0.9h-0.9zM292.5 498.2h0.9v0.9h-0.9zM291.4 498.5h0.9v0.9h-0.9zM294.3 496.5h0.9v0.9h-0.9zM290.4 497.7h0.9v0.9h-0.9zM292.0 496.7h0.9v0.9h-0.9zM279.5 492.5h0.9v0.9h-0.9zM284.7 494.4h0.9v0.9h-0.9zM292.9 498.1h0.9v0.9h-0.9zM291.2 497.9h0.9v0.9h-0.9zM290.0 497.9h0.9v0.9h-0.9zM275.0 492.7h0.9v0.9h-0.9zM285.2 497.6h0.9v0.9h-0.9zM296.1 491.5h0.9v0.9h-0.9zM295.9 493.4h0.9v0.9h-0.9zM287.9 497.7h0.9v0.9h-0.9zM285.1 494.9h0.9v0.9h-0.9zM289.9 497.0h0.9v0.9h-0.9zM299.5 492.3h0.9v0.9h-0.9zM290.7 498.6h0.9v0.9h-0.9zM291.1 496.7h0.9v0.9h-0.9zM292.3 497.8h0.9v0.9h-0.9zM293.4 494.3h0.9v0.9h-0.9zM289.6 498.1h0.9v0.9h-0.9zM285.1 498.0h0.9v0.9h-0.9zM283.4 498.0h0.9v0.9h-0.9zM288.5 498.5h0.9v0.9h-0.9zM290.8 497.2h0.9v0.9h-0.9zM284.3 495.7h0.9v0.9h-0.9zM294.2 496.5h0.9v0.9h-0.9zM281.1 493.4h0.9v0.9h-0.9zM299.2 492.4h0.9v0.9h-0.9zM282.4 496.1h0.9v0.9h-0.9zM287.3 497.2h0.9v0.9h-0.9zM290.6 496.7h0.9v0.9h-0.9zM303.6 481.5h0.9v0.9h-0.9zM292.9 493.7h0.9v0.9h-0.9zM295.4 496.1h0.9v0.9h-0.9zM293.8 497.1h0.9v0.9h-0.9zM297.8 491.8h0.9v0.9h-0.9zM297.3 494.9h0.9v0.9h-0.9zM301.7 493.6h0.9v0.9h-0.9zM286.9 497.6h0.9v0.9h-0.9zM283.8 496.0h0.9v0.9h-0.9zM295.7 495.3h0.9v0.9h-0.9zM285.6 498.5h0.9v0.9h-0.9zM284.1 495.8h0.9v0.9h-0.9zM289.2 498.0h0.9v0.9h-0.9zM286.4 497.6h0.9v0.9h-0.9zM289.7 498.1h0.9v0.9h-0.9zM278.7 494.2h0.9v0.9h-0.9zM276.3 490.6h0.9v0.9h-0.9zM298.7 494.5h0.9v0.9h-0.9zM294.7 492.7h0.9v0.9h-0.9zM290.5 496.7h0.9v0.9h-0.9zM284.5 496.4h0.9v0.9h-0.9zM282.0 491.2h0.9v0.9h-0.9zM292.6 496.6h0.9v0.9h-0.9zM283.9 494.2h0.9v0.9h-0.9zM289.6 498.1h0.9v0.9h-0.9zM286.8 498.3h0.9v0.9h-0.9zM292.5 495.0h0.9v0.9h-0.9zM294.8 492.0h0.9v0.9h-0.9zM272.8 483.6h0.9v0.9h-0.9zM291.9 495.6h0.9v0.9h-0.9zM279.7 489.9h0.9v0.9h-0.9zM294.2 496.6h0.9v0.9h-0.9zM299.3 494.0h0.9v0.9h-0.9zM290.2 497.8h0.9v0.9h-0.9zM288.4 498.4h0.9v0.9h-0.9zM291.3 495.9h0.9v0.9h-0.9zM280.8 489.9h0.9v0.9h-0.9zM287.7 497.8h0.9v0.9h-0.9zM287.3 498.6h0.9v0.9h-0.9zM301.6 491.6h0.9v0.9h-0.9zM287.7 498.5h0.9v0.9h-0.9zM285.5 495.1h0.9v0.9h-0.9zM279.2 491.3h0.9v0.9h-0.9zM296.1 497.1h0.9v0.9h-0.9zM296.2 490.8h0.9v0.9h-0.9zM290.3 496.9h0.9v0.9h-0.9zM278.2 490.9h0.9v0.9h-0.9zM297.4 493.1h0.9v0.9h-0.9zM286.0 497.7h0.9v0.9h-0.9zM288.3 498.6h0.9v0.9h-0.9zM290.1 497.2h0.9v0.9h-0.9zM290.3 497.2h0.9v0.9h-0.9zM298.0 490.5h0.9v0.9h-0.9zM283.7 497.1h0.9v0.9h-0.9zM288.5 498.6h0.9v0.9h-0.9zM283.4 492.9h0.9v0.9h-0.9zM281.5 495.6h0.9v0.9h-0.9zM301.4 492.0h0.9v0.9h-0.9zM283.0 492.4h0.9v0.9h-0.9zM277.4 487.7h0.9v0.9h-0.9zM278.2 493.4h0.9v0.9h-0.9zM287.7 498.1h0.9v0.9h-0.9zM296.5 497.0h0.9v0.9h-0.9zM294.1 495.7h0.9v0.9h-0.9zM283.2 494.1h0.9v0.9h-0.9zM289.1 498.1h0.9v0.9h-0.9zM293.2 497.4h0.9v0.9h-0.9zM288.0 498.7h0.9v0.9h-0.9zM291.2 497.8h0.9v0.9h-0.9zM274.1 485.8h0.9v0.9h-0.9zM286.5 497.8h0.9v0.9h-0.9zM285.3 497.0h0.9v0.9h-0.9zM291.6 495.4h0.9v0.9h-0.9zM293.8 494.6h0.9v0.9h-0.9zM293.7 494.3h0.9v0.9h-0.9zM280.7 489.7h0.9v0.9h-0.9zM286.0 496.0h0.9v0.9h-0.9zM289.0 497.5h0.9v0.9h-0.9zM296.8 493.2h0.9v0.9h-0.9zM293.0 498.1h0.9v0.9h-0.9zM298.9 495.0h0.9v0.9h-0.9zM284.4 495.3h0.9v0.9h-0.9zM287.5 497.7h0.9v0.9h-0.9zM284.6 495.8h0.9v0.9h-0.9zM298.7 489.7h0.9v0.9h-0.9zM282.7 497.5h0.9v0.9h-0.9zM290.8 497.6h0.9v0.9h-0.9zM301.6 494.1h0.9v0.9h-0.9zM285.4 498.4h0.9v0.9h-0.9zM287.9 498.3h0.9v0.9h-0.9zM298.6 495.4h0.9v0.9h-0.9zM281.8 492.7h0.9v0.9h-0.9zM292.7 496.9h0.9v0.9h-0.9zM283.5 495.1h0.9v0.9h-0.9zM281.5 497.3h0.9v0.9h-0.9zM288.3 498.7h0.9v0.9h-0.9zM285.9 497.4h0.9v0.9h-0.9zM291.5 497.5h0.9v0.9h-0.9zM289.3 498.2h0.9v0.9h-0.9zM301.2 484.9h0.9v0.9h-0.9zM298.6 492.2h0.9v0.9h-0.9zM284.5 493.9h0.9v0.9h-0.9zM286.2 498.4h0.9v0.9h-0.9zM287.6 497.5h0.9v0.9h-0.9zM293.2 496.1h0.9v0.9h-0.9zM283.8 493.7h0.9v0.9h-0.9zM292.4 497.6h0.9v0.9h-0.9zM291.6 497.3h0.9v0.9h-0.9zM279.6 494.1h0.9v0.9h-0.9zM282.8 496.4h0.9v0.9h-0.9zM291.7 496.6h0.9v0.9h-0.9zM284.6 495.2h0.9v0.9h-0.9zM291.9 497.1h0.9v0.9h-0.9zM276.4 490.6h0.9v0.9h-0.9zM291.2 497.7h0.9v0.9h-0.9zM302.7 484.1h0.9v0.9h-0.9zM278.9 493.2h0.9v0.9h-0.9zM284.2 497.2h0.9v0.9h-0.9zM280.1 491.1h0.9v0.9h-0.9zM297.7 491.1h0.9v0.9h-0.9zM286.2 497.7h0.9v0.9h-0.9zM286.5 496.9h0.9v0.9h-0.9zM285.4 496.9h0.9v0.9h-0.9zM294.7 493.6h0.9v0.9h-0.9zM288.4 498.7h0.9v0.9h-0.9zM279.9 495.2h0.9v0.9h-0.9zM294.4 494.6h0.9v0.9h-0.9zM290.2 496.7h0.9v0.9h-0.9zM295.2 496.7h0.9v0.9h-0.9zM290.9 497.2h0.9v0.9h-0.9zM287.9 497.7h0.9v0.9h-0.9zM292.3 496.3h0.9v0.9h-0.9zM283.8 494.8h0.9v0.9h-0.9zM289.8 497.9h0.9v0.9h-0.9zM278.8 494.5h0.9v0.9h-0.9zM286.8 497.7h0.9v0.9h-0.9zM281.4 490.1h0.9v0.9h-0.9zM296.2 495.4h0.9v0.9h-0.9zM297.3 491.0h0.9v0.9h-0.9zM293.8 495.3h0.9v0.9h-0.9zM287.5 498.0h0.9v0.9h-0.9zM285.3 496.5h0.9v0.9h-0.9zM289.2 497.6h0.9v0.9h-0.9zM286.4 496.7h0.9v0.9h-0.9zM284.7 496.9h0.9v0.9h-0.9zM294.3 495.7h0.9v0.9h-0.9zM295.8 494.1h0.9v0.9h-0.9zM297.1 488.8h0.9v0.9h-0.9zM288.6 498.4h0.9v0.9h-0.9zM289.2 498.5h0.9v0.9h-0.9zM286.6 497.2h0.9v0.9h-0.9zM284.8 497.1h0.9v0.9h-0.9zM278.2 493.9h0.9v0.9h-0.9zM284.2 498.2h0.9v0.9h-0.9zM295.1 495.7h0.9v0.9h-0.9zM287.1 498.3h0.9v0.9h-0.9zM286.1 496.2h0.9v0.9h-0.9zM293.4 497.6h0.9v0.9h-0.9zM287.2 498.6h0.9v0.9h-0.9zM298.6 489.5h0.9v0.9h-0.9zM294.7 496.6h0.9v0.9h-0.9zM279.5 496.5h0.9v0.9h-0.9zM289.7 497.5h0.9v0.9h-0.9zM291.8 496.2h0.9v0.9h-0.9zM285.8 496.5h0.9v0.9h-0.9zM282.4 496.8h0.9v0.9h-0.9zM300.0 491.1h0.9v0.9h-0.9zM286.4 496.7h0.9v0.9h-0.9zM295.3 494.2h0.9v0.9h-0.9zM274.9 491.9h0.9v0.9h-0.9zM277.4 493.9h0.9v0.9h-0.9zM286.5 496.3h0.9v0.9h-0.9zM286.6 498.0h0.9v0.9h-0.9zM282.9 493.2h0.9v0.9h-0.9zM291.5 495.6h0.9v0.9h-0.9zM287.4 498.3h0.9v0.9h-0.9zM285.6 496.4h0.9v0.9h-0.9zM291.8 495.5h0.9v0.9h-0.9zM301.7 492.4h0.9v0.9h-0.9zM286.1 496.7h0.9v0.9h-0.9zM292.4 498.3h0.9v0.9h-0.9zM288.3 497.8h0.9v0.9h-0.9zM287.0 497.7h0.9v0.9h-0.9zM286.7 498.6h0.9v0.9h-0.9zM287.7 498.3h0.9v0.9h-0.9zM297.4 489.3h0.9v0.9h-0.9zM288.3 498.7h0.9v0.9h-0.9zM290.1 497.5h0.9v0.9h-0.9zM289.8 498.5h0.9v0.9h-0.9zM287.8 497.8h0.9v0.9h-0.9zM298.2 494.1h0.9v0.9h-0.9zM284.0 495.8h0.9v0.9h-0.9zM290.1 498.2h0.9v0.9h-0.9zM286.1 498.0h0.9v0.9h-0.9zM292.7 497.5h0.9v0.9h-0.9zM294.4 494.7h0.9v0.9h-0.9zM289.6 498.4h0.9v0.9h-0.9zM298.2 492.7h0.9v0.9h-0.9zM296.9 493.3h0.9v0.9h-0.9zM284.1 494.9h0.9v0.9h-0.9zM301.1 488.2h0.9v0.9h-0.9zM283.9 496.1h0.9v0.9h-0.9zM281.0 494.7h0.9v0.9h-0.9zM283.4 495.9h0.9v0.9h-0.9zM293.8 495.6h0.9v0.9h-0.9zM278.3 487.3h0.9v0.9h-0.9zM286.8 498.3h0.9v0.9h-0.9zM294.3 497.8h0.9v0.9h-0.9zM289.8 497.5h0.9v0.9h-0.9zM285.4 498.0h0.9v0.9h-0.9zM285.6 495.7h0.9v0.9h-0.9zM293.9 494.5h0.9v0.9h-0.9zM281.0 491.8h0.9v0.9h-0.9zM283.1 495.2h0.9v0.9h-0.9zM290.8 496.4h0.9v0.9h-0.9zM302.9 483.1h0.9v0.9h-0.9zM288.3 498.7h0.9v0.9h-0.9zM289.4 498.1h0.9v0.9h-0.9zM283.7 493.8h0.9v0.9h-0.9zM288.6 498.3h0.9v0.9h-0.9zM291.5 495.3h0.9v0.9h-0.9zM288.9 498.7h0.9v0.9h-0.9zM292.8 495.7h0.9v0.9h-0.9zM294.0 497.6h0.9v0.9h-0.9zM275.5 490.0h0.9v0.9h-0.9zM283.4 494.2h0.9v0.9h-0.9zM282.2 496.9h0.9v0.9h-0.9zM284.6 496.7h0.9v0.9h-0.9zM296.6 495.9h0.9v0.9h-0.9zM283.6 496.2h0.9v0.9h-0.9zM283.6 495.5h0.9v0.9h-0.9zM287.5 497.8h0.9v0.9h-0.9zM293.4 495.1h0.9v0.9h-0.9zM289.6 498.5h0.9v0.9h-0.9zM298.5 493.7h0.9v0.9h-0.9zM293.7 492.9h0.9v0.9h-0.9zM286.4 497.2h0.9v0.9h-0.9zM288.0 498.5h0.9v0.9h-0.9zM293.0 494.9h0.9v0.9h-0.9zM279.9 496.5h0.9v0.9h-0.9zM299.9 494.5h0.9v0.9h-0.9zM291.4 498.1h0.9v0.9h-0.9zM292.7 496.6h0.9v0.9h-0.9zM289.8 497.2h0.9v0.9h-0.9zM287.0 497.1h0.9v0.9h-0.9zM293.4 497.5h0.9v0.9h-0.9zM283.4 493.0h0.9v0.9h-0.9zM282.6 497.7h0.9v0.9h-0.9zM283.4 493.8h0.9v0.9h-0.9zM286.7 498.3h0.9v0.9h-0.9zM288.2 498.2h0.9v0.9h-0.9zM285.2 494.8h0.9v0.9h-0.9zM289.4 497.5h0.9v0.9h-0.9zM294.1 494.4h0.9v0.9h-0.9zM292.7 497.6h0.9v0.9h-0.9zM290.7 498.1h0.9v0.9h-0.9zM294.5 491.8h0.9v0.9h-0.9zM281.1 492.6h0.9v0.9h-0.9zM284.8 495.7h0.9v0.9h-0.9zM284.7 496.6h0.9v0.9h-0.9zM295.8 495.2h0.9v0.9h-0.9zM291.7 497.0h0.9v0.9h-0.9zM290.5 496.5h0.9v0.9h-0.9zM289.5 498.3h0.9v0.9h-0.9zM287.4 497.8h0.9v0.9h-0.9zM292.2 494.9h0.9v0.9h-0.9zM292.2 496.8h0.9v0.9h-0.9zM295.7 492.2h0.9v0.9h-0.9zM284.8 497.9h0.9v0.9h-0.9zM287.2 497.5h0.9v0.9h-0.9zM300.0 495.2h0.9v0.9h-0.9zM294.9 496.9h0.9v0.9h-0.9zM277.3 489.5h0.9v0.9h-0.9zM291.5 496.3h0.9v0.9h-0.9zM289.8 498.7h0.9v0.9h-0.9zM279.1 489.0h0.9v0.9h-0.9zM291.3 498.5h0.9v0.9h-0.9zM292.0 498.4h0.9v0.9h-0.9zM293.4 497.9h0.9v0.9h-0.9zM284.8 498.3h0.9v0.9h-0.9zM293.9 493.0h0.9v0.9h-0.9zM282.1 497.6h0.9v0.9h-0.9zM293.0 497.7h0.9v0.9h-0.9zM292.4 498.1h0.9v0.9h-0.9zM291.8 498.1h0.9v0.9h-0.9zM297.5 495.7h0.9v0.9h-0.9zM283.2 497.5h0.9v0.9h-0.9zM287.7 498.0h0.9v0.9h-0.9zM282.9 495.6h0.9v0.9h-0.9zM288.8 498.7h0.9v0.9h-0.9zM286.0 497.8h0.9v0.9h-0.9zM286.4 498.6h0.9v0.9h-0.9zM295.4 495.4h0.9v0.9h-0.9zM283.7 495.7h0.9v0.9h-0.9zM292.1 497.3h0.9v0.9h-0.9zM287.8 497.9h0.9v0.9h-0.9zM282.3 491.9h0.9v0.9h-0.9zM296.1 497.2h0.9v0.9h-0.9zM288.0 497.8h0.9v0.9h-0.9zM294.1 493.7h0.9v0.9h-0.9zM284.6 497.8h0.9v0.9h-0.9zM275.6 490.6h0.9v0.9h-0.9zM295.4 497.1h0.9v0.9h-0.9zM280.6 489.2h0.9v0.9h-0.9zM288.3 498.4h0.9v0.9h-0.9zM276.6 489.0h0.9v0.9h-0.9zM301.9 488.0h0.9v0.9h-0.9zM285.7 495.7h0.9v0.9h-0.9zM301.0 487.9h0.9v0.9h-0.9zM289.0 497.6h0.9v0.9h-0.9zM293.0 495.9h0.9v0.9h-0.9zM294.0 497.5h0.9v0.9h-0.9zM289.5 497.9h0.9v0.9h-0.9zM286.9 498.2h0.9v0.9h-0.9zM285.3 498.0h0.9v0.9h-0.9zM296.7 494.0h0.9v0.9h-0.9zM300.5 493.0h0.9v0.9h-0.9zM274.8 490.2h0.9v0.9h-0.9zM287.7 497.5h0.9v0.9h-0.9zM285.3 498.0h0.9v0.9h-0.9zM283.8 498.1h0.9v0.9h-0.9zM287.1 498.7h0.9v0.9h-0.9zM294.6 496.6h0.9v0.9h-0.9zM289.1 497.5h0.9v0.9h-0.9zM287.6 497.7h0.9v0.9h-0.9zM287.3 498.4h0.9v0.9h-0.9zM279.2 488.7h0.9v0.9h-0.9zM290.2 496.8h0.9v0.9h-0.9zM284.3 496.8h0.9v0.9h-0.9zM291.7 497.7h0.9v0.9h-0.9zM288.7 498.0h0.9v0.9h-0.9zM282.1 497.0h0.9v0.9h-0.9zM292.4 497.8h0.9v0.9h-0.9zM273.2 485.1h0.9v0.9h-0.9zM289.9 498.1h0.9v0.9h-0.9zM290.5 498.4h0.9v0.9h-0.9zM288.1 498.0h0.9v0.9h-0.9zM281.0 489.8h0.9v0.9h-0.9zM291.7 498.4h0.9v0.9h-0.9zM290.1 498.0h0.9v0.9h-0.9zM293.3 495.8h0.9v0.9h-0.9zM280.6 490.4h0.9v0.9h-0.9zM287.0 497.5h0.9v0.9h-0.9zM291.3 498.5h0.9v0.9h-0.9zM289.3 498.6h0.9v0.9h-0.9zM290.6 498.6h0.9v0.9h-0.9zM285.9 496.9h0.9v0.9h-0.9zM288.4 497.8h0.9v0.9h-0.9zM287.3 497.7h0.9v0.9h-0.9zM291.7 496.2h0.9v0.9h-0.9zM295.0 494.3h0.9v0.9h-0.9zM283.8 493.9h0.9v0.9h-0.9zM281.6 496.0h0.9v0.9h-0.9zM273.9 483.6h0.9v0.9h-0.9zM284.4 498.3h0.9v0.9h-0.9zM283.9 496.2h0.9v0.9h-0.9zM288.4 498.2h0.9v0.9h-0.9zM297.5 492.9h0.9v0.9h-0.9zM292.1 496.3h0.9v0.9h-0.9zM290.3 497.4h0.9v0.9h-0.9zM300.1 493.0h0.9v0.9h-0.9zM288.4 498.3h0.9v0.9h-0.9zM277.8 492.5h0.9v0.9h-0.9zM288.7 497.7h0.9v0.9h-0.9zM282.8 495.5h0.9v0.9h-0.9zM289.7 498.3h0.9v0.9h-0.9zM291.0 497.7h0.9v0.9h-0.9zM289.1 498.7h0.9v0.9h-0.9zM287.5 498.6h0.9v0.9h-0.9zM285.9 497.5h0.9v0.9h-0.9zM280.6 494.1h0.9v0.9h-0.9zM282.7 496.5h0.9v0.9h-0.9zM280.3 495.7h0.9v0.9h-0.9zM298.7 496.1h0.9v0.9h-0.9zM294.4 497.4h0.9v0.9h-0.9zM284.4 497.9h0.9v0.9h-0.9zM297.1 496.6h0.9v0.9h-0.9zM282.5 493.9h0.9v0.9h-0.9zM290.6 497.4h0.9v0.9h-0.9zM295.7 497.3h0.9v0.9h-0.9zM294.2 497.4h0.9v0.9h-0.9zM286.9 497.1h0.9v0.9h-0.9zM290.4 497.4h0.9v0.9h-0.9zM290.2 497.9h0.9v0.9h-0.9zM298.0 495.2h0.9v0.9h-0.9zM282.6 497.7h0.9v0.9h-0.9zM283.5 496.9h0.9v0.9h-0.9zM284.8 494.7h0.9v0.9h-0.9zM291.4 498.4h0.9v0.9h-0.9zM297.7 488.4h0.9v0.9h-0.9zM297.3 494.7h0.9v0.9h-0.9zM286.3 496.9h0.9v0.9h-0.9zM298.2 496.2h0.9v0.9h-0.9zM282.8 495.3h0.9v0.9h-0.9zM294.1 492.6h0.9v0.9h-0.9zM295.1 492.0h0.9v0.9h-0.9zM289.1 498.4h0.9v0.9h-0.9zM296.9 496.0h0.9v0.9h-0.9zM288.7 498.5h0.9v0.9h-0.9zM278.6 492.8h0.9v0.9h-0.9zM285.8 497.3h0.9v0.9h-0.9zM279.6 496.0h0.9v0.9h-0.9zM292.2 495.3h0.9v0.9h-0.9zM291.2 497.3h0.9v0.9h-0.9zM285.4 497.5h0.9v0.9h-0.9zM284.4 497.8h0.9v0.9h-0.9zM297.4 496.0h0.9v0.9h-0.9zM287.7 497.8h0.9v0.9h-0.9zM282.1 492.7h0.9v0.9h-0.9zM284.1 495.6h0.9v0.9h-0.9zM300.8 491.1h0.9v0.9h-0.9zM277.5 489.4h0.9v0.9h-0.9zM284.6 497.1h0.9v0.9h-0.9zM293.6 495.0h0.9v0.9h-0.9zM285.6 495.8h0.9v0.9h-0.9zM293.7 494.0h0.9v0.9h-0.9zM283.7 496.5h0.9v0.9h-0.9zM278.3 490.2h0.9v0.9h-0.9zM289.0 498.7h0.9v0.9h-0.9zM294.5 493.2h0.9v0.9h-0.9zM293.7 496.5h0.9v0.9h-0.9zM286.6 498.5h0.9v0.9h-0.9zM294.6 492.3h0.9v0.9h-0.9zM296.0 497.0h0.9v0.9h-0.9zM288.8 498.6h0.9v0.9h-0.9zM299.6 486.6h0.9v0.9h-0.9zM284.8 497.8h0.9v0.9h-0.9zM294.7 496.4h0.9v0.9h-0.9zM284.6 495.4h0.9v0.9h-0.9zM291.4 498.5h0.9v0.9h-0.9zM281.9 495.8h0.9v0.9h-0.9zM280.5 496.0h0.9v0.9h-0.9zM290.9 496.7h0.9v0.9h-0.9zM290.8 497.3h0.9v0.9h-0.9zM295.9 493.4h0.9v0.9h-0.9zM289.7 498.3h0.9v0.9h-0.9zM295.4 495.6h0.9v0.9h-0.9zM290.5 496.5h0.9v0.9h-0.9zM280.1 489.7h0.9v0.9h-0.9zM299.9 490.0h0.9v0.9h-0.9zM297.0 496.5h0.9v0.9h-0.9zM297.1 492.7h0.9v0.9h-0.9zM291.3 497.6h0.9v0.9h-0.9zM290.6 498.4h0.9v0.9h-0.9zM297.2 489.2h0.9v0.9h-0.9zM288.7 497.7h0.9v0.9h-0.9zM289.5 498.2h0.9v0.9h-0.9zM280.1 490.6h0.9v0.9h-0.9zM287.3 497.9h0.9v0.9h-0.9zM285.9 497.5h0.9v0.9h-0.9zM279.3 490.7h0.9v0.9h-0.9zM288.1 498.1h0.9v0.9h-0.9zM291.9 498.3h0.9v0.9h-0.9zM277.8 494.8h0.9v0.9h-0.9zM292.6 494.2h0.9v0.9h-0.9zM290.1 498.2h0.9v0.9h-0.9zM282.6 494.7h0.9v0.9h-0.9zM291.7 497.8h0.9v0.9h-0.9zM290.1 497.2h0.9v0.9h-0.9zM283.6 494.0h0.9v0.9h-0.9zM296.9 496.5h0.9v0.9h-0.9zM289.1 497.7h0.9v0.9h-0.9zM293.5 494.4h0.9v0.9h-0.9zM291.1 497.1h0.9v0.9h-0.9zM285.9 497.2h0.9v0.9h-0.9zM283.5 497.3h0.9v0.9h-0.9zM284.4 495.5h0.9v0.9h-0.9zM290.2 498.6h0.9v0.9h-0.9zM291.7 496.9h0.9v0.9h-0.9zM292.2 496.4h0.9v0.9h-0.9zM289.4 497.6h0.9v0.9h-0.9zM286.4 496.6h0.9v0.9h-0.9zM291.6 495.3h0.9v0.9h-0.9zM293.6 493.9h0.9v0.9h-0.9zM298.5 487.2h0.9v0.9h-0.9zM289.9 498.5h0.9v0.9h-0.9zM292.1 497.8h0.9v0.9h-0.9zM300.1 491.0h0.9v0.9h-0.9zM281.0 496.7h0.9v0.9h-0.9zM286.3 497.1h0.9v0.9h-0.9zM292.8 495.3h0.9v0.9h-0.9zM290.2 498.0h0.9v0.9h-0.9zM282.5 495.3h0.9v0.9h-0.9zM284.4 495.4h0.9v0.9h-0.9zM294.1 494.2h0.9v0.9h-0.9zM285.4 498.2h0.9v0.9h-0.9zM296.2 497.1h0.9v0.9h-0.9zM284.6 498.3h0.9v0.9h-0.9zM292.9 498.1h0.9v0.9h-0.9zM275.8 484.9h0.9v0.9h-0.9zM295.7 497.3h0.9v0.9h-0.9zM286.6 498.1h0.9v0.9h-0.9zM294.5 497.3h0.9v0.9h-0.9zM279.0 493.5h0.9v0.9h-0.9zM282.7 497.1h0.9v0.9h-0.9zM289.9 497.4h0.9v0.9h-0.9zM289.7 498.5h0.9v0.9h-0.9zM287.3 498.6h0.9v0.9h-0.9zM278.2 494.7h0.9v0.9h-0.9zM284.8 495.6h0.9v0.9h-0.9zM298.8 493.8h0.9v0.9h-0.9zM283.5 496.0h0.9v0.9h-0.9zM290.8 496.7h0.9v0.9h-0.9zM288.2 497.7h0.9v0.9h-0.9zM300.4 489.2h0.9v0.9h-0.9zM303.3 491.7h0.9v0.9h-0.9zM285.3 494.9h0.9v0.9h-0.9zM292.5 498.1h0.9v0.9h-0.9zM299.8 493.1h0.9v0.9h-0.9zM278.0 489.4h0.9v0.9h-0.9zM293.3 497.5h0.9v0.9h-0.9zM299.0 491.5h0.9v0.9h-0.9zM281.6 497.3h0.9v0.9h-0.9zM287.9 498.3h0.9v0.9h-0.9zM294.1 492.6h0.9v0.9h-0.9zM279.5 496.3h0.9v0.9h-0.9zM282.6 496.7h0.9v0.9h-0.9zM288.4 498.6h0.9v0.9h-0.9zM283.4 497.9h0.9v0.9h-0.9zM295.2 494.4h0.9v0.9h-0.9zM291.1 497.7h0.9v0.9h-0.9zM284.3 498.3h0.9v0.9h-0.9zM287.0 497.5h0.9v0.9h-0.9zM285.4 497.4h0.9v0.9h-0.9zM295.3 496.2h0.9v0.9h-0.9zM294.0 496.7h0.9v0.9h-0.9zM290.7 498.5h0.9v0.9h-0.9zM296.1 497.2h0.9v0.9h-0.9zM290.4 496.8h0.9v0.9h-0.9zM284.8 496.5h0.9v0.9h-0.9zM294.2 497.9h0.9v0.9h-0.9zM297.8 492.1h0.9v0.9h-0.9zM295.6 494.5h0.9v0.9h-0.9zM283.3 495.6h0.9v0.9h-0.9zM297.7 489.8h0.9v0.9h-0.9zM295.8 492.4h0.9v0.9h-0.9zM277.8 489.3h0.9v0.9h-0.9zM281.6 493.8h0.9v0.9h-0.9zM290.9 497.4h0.9v0.9h-0.9zM294.2 497.8h0.9v0.9h-0.9zM277.9 488.5h0.9v0.9h-0.9zM282.8 492.5h0.9v0.9h-0.9zM283.5 497.9h0.9v0.9h-0.9zM283.1 492.5h0.9v0.9h-0.9zM290.0 498.5h0.9v0.9h-0.9zM285.9 496.4h0.9v0.9h-0.9zM287.7 498.1h0.9v0.9h-0.9zM288.6 497.8h0.9v0.9h-0.9zM283.8 498.1h0.9v0.9h-0.9zM290.7 496.6h0.9v0.9h-0.9zM299.1 488.5h0.9v0.9h-0.9zM288.7 498.0h0.9v0.9h-0.9zM291.6 496.3h0.9v0.9h-0.9zM302.6 488.0h0.9v0.9h-0.9zM294.5 497.8h0.9v0.9h-0.9zM283.5 497.7h0.9v0.9h-0.9zM289.8 497.3h0.9v0.9h-0.9zM292.0 497.1h0.9v0.9h-0.9zM287.8 498.5h0.9v0.9h-0.9zM287.7 498.4h0.9v0.9h-0.9zM286.4 497.8h0.9v0.9h-0.9zM282.5 494.5h0.9v0.9h-0.9zM290.2 496.8h0.9v0.9h-0.9zM301.4 485.0h0.9v0.9h-0.9zM283.4 497.2h0.9v0.9h-0.9zM289.3 498.0h0.9v0.9h-0.9zM296.0 493.3h0.9v0.9h-0.9zM277.8 493.3h0.9v0.9h-0.9zM291.8 498.0h0.9v0.9h-0.9zM289.4 497.8h0.9v0.9h-0.9zM290.0 498.4h0.9v0.9h-0.9zM287.5 498.5h0.9v0.9h-0.9zM292.1 497.7h0.9v0.9h-0.9zM276.1 494.0h0.9v0.9h-0.9zM285.6 496.4h0.9v0.9h-0.9zM278.9 489.4h0.9v0.9h-0.9zM290.8 497.5h0.9v0.9h-0.9zM288.1 498.0h0.9v0.9h-0.9zM296.6 495.1h0.9v0.9h-0.9zM286.8 496.6h0.9v0.9h-0.9zM286.4 498.3h0.9v0.9h-0.9zM291.4 495.6h0.9v0.9h-0.9zM299.7 486.8h0.9v0.9h-0.9zM283.7 494.0h0.9v0.9h-0.9zM286.8 497.2h0.9v0.9h-0.9zM288.1 497.7h0.9v0.9h-0.9zM290.0 498.6h0.9v0.9h-0.9zM287.5 497.6h0.9v0.9h-0.9zM275.9 482.9h0.9v0.9h-0.9zM290.1 498.0h0.9v0.9h-0.9zM284.9 495.9h0.9v0.9h-0.9zM280.9 494.9h0.9v0.9h-0.9zM287.6 497.4h0.9v0.9h-0.9zM287.3 497.5h0.9v0.9h-0.9zM291.3 498.1h0.9v0.9h-0.9zM282.5 495.4h0.9v0.9h-0.9zM285.8 498.3h0.9v0.9h-0.9zM282.0 497.6h0.9v0.9h-0.9zM285.3 497.9h0.9v0.9h-0.9zM291.9 497.9h0.9v0.9h-0.9zM280.8 490.1h0.9v0.9h-0.9zM293.9 494.6h0.9v0.9h-0.9zM301.5 488.0h0.9v0.9h-0.9zM290.7 497.0h0.9v0.9h-0.9zM284.7 497.2h0.9v0.9h-0.9zM285.3 498.3h0.9v0.9h-0.9zM288.0 498.0h0.9v0.9h-0.9zM287.3 497.2h0.9v0.9h-0.9zM284.9 495.3h0.9v0.9h-0.9zM281.7 490.7h0.9v0.9h-0.9zM296.3 494.2h0.9v0.9h-0.9zM297.6 491.5h0.9v0.9h-0.9zM289.9 497.3h0.9v0.9h-0.9zM284.6 498.3h0.9v0.9h-0.9zM285.2 495.5h0.9v0.9h-0.9zM276.3 488.7h0.9v0.9h-0.9zM276.3 485.3h0.9v0.9h-0.9zM291.7 497.2h0.9v0.9h-0.9zM294.1 498.0h0.9v0.9h-0.9zM285.3 497.6h0.9v0.9h-0.9zM277.5 492.2h0.9v0.9h-0.9zM287.6 498.6h0.9v0.9h-0.9zM298.5 494.0h0.9v0.9h-0.9zM286.5 497.4h0.9v0.9h-0.9zM291.0 497.7h0.9v0.9h-0.9zM290.9 496.1h0.9v0.9h-0.9zM283.7 497.4h0.9v0.9h-0.9zM284.7 498.3h0.9v0.9h-0.9zM288.2 498.5h0.9v0.9h-0.9zM293.2 496.2h0.9v0.9h-0.9zM285.9 497.2h0.9v0.9h-0.9zM288.3 498.7h0.9v0.9h-0.9zM296.7 494.8h0.9v0.9h-0.9zM286.6 496.9h0.9v0.9h-0.9zM300.2 488.1h0.9v0.9h-0.9zM278.7 489.5h0.9v0.9h-0.9zM282.1 497.5h0.9v0.9h-0.9zM296.1 491.1h0.9v0.9h-0.9zM296.6 489.0h0.9v0.9h-0.9zM289.6 498.0h0.9v0.9h-0.9zM285.5 496.6h0.9v0.9h-0.9zM286.4 496.2h0.9v0.9h-0.9zM287.0 497.8h0.9v0.9h-0.9zM287.0 498.1h0.9v0.9h-0.9zM297.4 495.1h0.9v0.9h-0.9zM293.0 497.5h0.9v0.9h-0.9zM286.3 498.0h0.9v0.9h-0.9zM297.1 491.7h0.9v0.9h-0.9zM278.4 487.4h0.9v0.9h-0.9zM293.3 494.3h0.9v0.9h-0.9zM286.8 498.6h0.9v0.9h-0.9zM286.9 498.6h0.9v0.9h-0.9zM287.9 497.5h0.9v0.9h-0.9zM296.0 493.9h0.9v0.9h-0.9zM296.1 497.3h0.9v0.9h-0.9zM289.7 497.4h0.9v0.9h-0.9zM286.9 497.1h0.9v0.9h-0.9zM282.3 497.6h0.9v0.9h-0.9zM289.2 497.9h0.9v0.9h-0.9zM296.4 489.9h0.9v0.9h-0.9zM290.9 497.0h0.9v0.9h-0.9zM296.5 492.0h0.9v0.9h-0.9zM295.7 495.6h0.9v0.9h-0.9zM290.2 498.0h0.9v0.9h-0.9zM281.0 493.7h0.9v0.9h-0.9zM288.2 497.7h0.9v0.9h-0.9zM294.1 496.4h0.9v0.9h-0.9zM289.9 498.5h0.9v0.9h-0.9zM283.2 498.0h0.9v0.9h-0.9zM299.2 485.8h0.9v0.9h-0.9zM286.7 497.5h0.9v0.9h-0.9zM292.5 498.3h0.9v0.9h-0.9zM290.5 497.4h0.9v0.9h-0.9zM277.9 493.5h0.9v0.9h-0.9zM278.3 494.4h0.9v0.9h-0.9zM289.7 498.7h0.9v0.9h-0.9zM292.5 496.6h0.9v0.9h-0.9zM283.8 493.4h0.9v0.9h-0.9zM291.9 497.6h0.9v0.9h-0.9zM292.6 498.1h0.9v0.9h-0.9zM282.3 497.6h0.9v0.9h-0.9zM279.3 496.3h0.9v0.9h-0.9zM281.0 492.3h0.9v0.9h-0.9zM290.1 497.2h0.9v0.9h-0.9zM298.5 489.7h0.9v0.9h-0.9zM289.2 497.5h0.9v0.9h-0.9zM292.7 494.4h0.9v0.9h-0.9zM295.9 497.2h0.9v0.9h-0.9zM285.5 497.5h0.9v0.9h-0.9zM291.0 498.0h0.9v0.9h-0.9zM287.8 498.7h0.9v0.9h-0.9zM293.3 498.0h0.9v0.9h-0.9zM285.1 497.4h0.9v0.9h-0.9zM291.0 497.1h0.9v0.9h-0.9zM295.4 493.4h0.9v0.9h-0.9zM295.4 497.4h0.9v0.9h-0.9zM293.4 496.3h0.9v0.9h-0.9zM290.8 496.6h0.9v0.9h-0.9zM284.5 497.6h0.9v0.9h-0.9zM280.4 497.0h0.9v0.9h-0.9zM295.9 493.8h0.9v0.9h-0.9zM279.5 488.1h0.9v0.9h-0.9zM286.8 497.3h0.9v0.9h-0.9zM289.8 498.1h0.9v0.9h-0.9zM293.2 497.2h0.9v0.9h-0.9zM286.5 497.1h0.9v0.9h-0.9zM288.2 498.3h0.9v0.9h-0.9zM292.1 494.9h0.9v0.9h-0.9zM290.0 497.2h0.9v0.9h-0.9zM293.6 492.9h0.9v0.9h-0.9zM284.9 497.9h0.9v0.9h-0.9zM286.8 498.4h0.9v0.9h-0.9zM274.4 493.5h0.9v0.9h-0.9zM290.9 496.6h0.9v0.9h-0.9zM290.9 497.2h0.9v0.9h-0.9zM286.0 496.9h0.9v0.9h-0.9zM289.5 498.6h0.9v0.9h-0.9zM294.6 494.2h0.9v0.9h-0.9zM295.3 492.3h0.9v0.9h-0.9zM290.6 498.1h0.9v0.9h-0.9zM286.1 498.3h0.9v0.9h-0.9zM287.6 497.4h0.9v0.9h-0.9zM289.1 498.0h0.9v0.9h-0.9zM291.7 495.5h0.9v0.9h-0.9zM282.3 492.5h0.9v0.9h-0.9zM294.4 497.0h0.9v0.9h-0.9zM279.2 494.0h0.9v0.9h-0.9zM299.0 492.0h0.9v0.9h-0.9zM292.7 493.9h0.9v0.9h-0.9zM287.4 497.4h0.9v0.9h-0.9zM295.5 490.7h0.9v0.9h-0.9zM289.6 497.3h0.9v0.9h-0.9zM276.2 492.5h0.9v0.9h-0.9zM287.4 497.7h0.9v0.9h-0.9zM287.6 497.3h0.9v0.9h-0.9zM285.6 496.9h0.9v0.9h-0.9zM288.9 498.7h0.9v0.9h-0.9zM286.6 497.9h0.9v0.9h-0.9zM289.7 497.5h0.9v0.9h-0.9zM288.3 498.3h0.9v0.9h-0.9zM276.9 491.2h0.9v0.9h-0.9zM299.4 490.5h0.9v0.9h-0.9zM292.8 496.8h0.9v0.9h-0.9zM293.3 498.0h0.9v0.9h-0.9zM294.5 497.4h0.9v0.9h-0.9zM294.8 497.2h0.9v0.9h-0.9zM292.2 495.3h0.9v0.9h-0.9zM279.4 492.2h0.9v0.9h-0.9zM281.1 496.5h0.9v0.9h-0.9zM287.1 497.7h0.9v0.9h-0.9zM300.8 488.2h0.9v0.9h-0.9zM287.8 498.5h0.9v0.9h-0.9zM287.6 498.2h0.9v0.9h-0.9zM297.4 492.2h0.9v0.9h-0.9zM276.7 493.0h0.9v0.9h-0.9zM296.7 494.4h0.9v0.9h-0.9zM291.4 495.7h0.9v0.9h-0.9zM290.2 498.7h0.9v0.9h-0.9zM293.1 498.2h0.9v0.9h-0.9zM293.5 497.6h0.9v0.9h-0.9zM277.3 495.4h0.9v0.9h-0.9zM284.9 496.2h0.9v0.9h-0.9zM286.9 496.8h0.9v0.9h-0.9zM289.0 498.1h0.9v0.9h-0.9zM284.0 497.2h0.9v0.9h-0.9zM289.4 497.6h0.9v0.9h-0.9zM284.3 495.4h0.9v0.9h-0.9zM293.5 493.2h0.9v0.9h-0.9zM285.5 496.7h0.9v0.9h-0.9zM288.7 498.5h0.9v0.9h-0.9zM298.0 495.8h0.9v0.9h-0.9zM297.3 495.3h0.9v0.9h-0.9zM291.2 498.4h0.9v0.9h-0.9zM289.6 497.6h0.9v0.9h-0.9zM285.7 497.9h0.9v0.9h-0.9zM279.6 489.6h0.9v0.9h-0.9zM300.0 486.7h0.9v0.9h-0.9zM297.5 488.5h0.9v0.9h-0.9zM288.0 498.0h0.9v0.9h-0.9zM284.3 496.9h0.9v0.9h-0.9zM286.4 497.3h0.9v0.9h-0.9zM289.2 497.7h0.9v0.9h-0.9zM298.0 490.3h0.9v0.9h-0.9zM289.3 498.4h0.9v0.9h-0.9zM290.5 497.8h0.9v0.9h-0.9zM293.5 495.8h0.9v0.9h-0.9zM282.6 494.5h0.9v0.9h-0.9zM280.2 492.8h0.9v0.9h-0.9zM286.0 497.2h0.9v0.9h-0.9zM289.3 498.3h0.9v0.9h-0.9zM292.2 495.0h0.9v0.9h-0.9zM294.0 495.2h0.9v0.9h-0.9zM287.4 498.0h0.9v0.9h-0.9zM285.3 495.8h0.9v0.9h-0.9zM290.2 498.6h0.9v0.9h-0.9zM289.8 498.5h0.9v0.9h-0.9zM294.0 497.2h0.9v0.9h-0.9zM295.7 496.6h0.9v0.9h-0.9zM292.7 495.8h0.9v0.9h-0.9zM282.0 494.9h0.9v0.9h-0.9zM283.9 495.5h0.9v0.9h-0.9zM287.1 497.5h0.9v0.9h-0.9zM295.7 496.4h0.9v0.9h-0.9zM288.2 497.6h0.9v0.9h-0.9zM280.9 492.9h0.9v0.9h-0.9zM278.9 494.3h0.9v0.9h-0.9zM285.9 497.7h0.9v0.9h-0.9zM279.8 490.9h0.9v0.9h-0.9zM293.2 497.6h0.9v0.9h-0.9zM284.0 496.2h0.9v0.9h-0.9zM297.7 493.8h0.9v0.9h-0.9zM288.8 498.7h0.9v0.9h-0.9zM297.3 491.0h0.9v0.9h-0.9zM290.0 497.7h0.9v0.9h-0.9zM290.4 497.2h0.9v0.9h-0.9zM282.5 494.4h0.9v0.9h-0.9zM283.9 495.1h0.9v0.9h-0.9zM283.2 495.2h0.9v0.9h-0.9zM296.9 491.5h0.9v0.9h-0.9zM294.1 496.0h0.9v0.9h-0.9zM296.1 496.5h0.9v0.9h-0.9zM287.7 498.1h0.9v0.9h-0.9zM286.7 496.7h0.9v0.9h-0.9zM292.0 498.0h0.9v0.9h-0.9zM288.2 498.2h0.9v0.9h-0.9zM285.4 494.9h0.9v0.9h-0.9zM299.5 495.6h0.9v0.9h-0.9zM295.6 490.5h0.9v0.9h-0.9zM294.8 494.1h0.9v0.9h-0.9zM285.4 497.1h0.9v0.9h-0.9zM292.1 497.1h0.9v0.9h-0.9zM294.1 493.1h0.9v0.9h-0.9zM294.9 495.1h0.9v0.9h-0.9zM294.2 495.2h0.9v0.9h-0.9zM291.3 497.8h0.9v0.9h-0.9zM280.9 489.8h0.9v0.9h-0.9zM285.0 496.6h0.9v0.9h-0.9zM286.2 496.3h0.9v0.9h-0.9zM297.7 492.9h0.9v0.9h-0.9zM291.7 497.8h0.9v0.9h-0.9zM291.5 497.4h0.9v0.9h-0.9zM292.9 496.7h0.9v0.9h-0.9zM285.1 496.3h0.9v0.9h-0.9zM286.1 497.5h0.9v0.9h-0.9zM292.2 497.7h0.9v0.9h-0.9zM278.3 486.2h0.9v0.9h-0.9zM283.7 497.2h0.9v0.9h-0.9zM287.5 497.7h0.9v0.9h-0.9zM280.4 495.5h0.9v0.9h-0.9zM292.7 494.6h0.9v0.9h-0.9zM287.9 498.3h0.9v0.9h-0.9zM301.6 490.5h0.9v0.9h-0.9zM282.4 494.7h0.9v0.9h-0.9zM285.5 496.9h0.9v0.9h-0.9zM298.8 495.5h0.9v0.9h-0.9zM285.9 495.6h0.9v0.9h-0.9zM291.1 496.4h0.9v0.9h-0.9zM289.3 498.5h0.9v0.9h-0.9zM292.9 496.4h0.9v0.9h-0.9zM289.8 497.4h0.9v0.9h-0.9zM292.8 498.3h0.9v0.9h-0.9zM289.5 498.7h0.9v0.9h-0.9zM286.2 496.0h0.9v0.9h-0.9zM295.7 493.2h0.9v0.9h-0.9zM294.1 492.7h0.9v0.9h-0.9zM282.5 493.9h0.9v0.9h-0.9zM289.4 498.2h0.9v0.9h-0.9zM295.1 497.2h0.9v0.9h-0.9zM295.4 496.6h0.9v0.9h-0.9zM285.8 497.3h0.9v0.9h-0.9zM290.8 497.3h0.9v0.9h-0.9zM284.4 498.1h0.9v0.9h-0.9zM289.3 498.2h0.9v0.9h-0.9zM293.1 495.2h0.9v0.9h-0.9zM290.4 497.5h0.9v0.9h-0.9zM298.5 489.4h0.9v0.9h-0.9zM294.7 491.5h0.9v0.9h-0.9zM288.9 498.3h0.9v0.9h-0.9zM285.2 498.3h0.9v0.9h-0.9zM288.8 498.1h0.9v0.9h-0.9zM290.4 498.6h0.9v0.9h-0.9zM290.1 497.8h0.9v0.9h-0.9zM290.7 496.9h0.9v0.9h-0.9zM293.7 496.1h0.9v0.9h-0.9zM294.7 491.4h0.9v0.9h-0.9zM296.6 492.6h0.9v0.9h-0.9zM281.8 493.0h0.9v0.9h-0.9zM291.7 495.8h0.9v0.9h-0.9zM290.1 497.3h0.9v0.9h-0.9zM284.5 498.0h0.9v0.9h-0.9zM294.2 497.2h0.9v0.9h-0.9zM294.4 494.9h0.9v0.9h-0.9zM285.9 497.5h0.9v0.9h-0.9zM303.6 482.5h0.9v0.9h-0.9zM295.5 492.4h0.9v0.9h-0.9zM286.7 497.7h0.9v0.9h-0.9zM286.5 497.2h0.9v0.9h-0.9zM291.0 496.2h0.9v0.9h-0.9zM287.0 497.8h0.9v0.9h-0.9zM284.0 496.9h0.9v0.9h-0.9zM280.8 497.1h0.9v0.9h-0.9zM295.8 494.4h0.9v0.9h-0.9zM285.6 496.2h0.9v0.9h-0.9zM288.8 498.5h0.9v0.9h-0.9zM285.2 496.5h0.9v0.9h-0.9zM291.7 497.3h0.9v0.9h-0.9zM286.4 496.8h0.9v0.9h-0.9zM283.1 495.2h0.9v0.9h-0.9zM294.8 496.6h0.9v0.9h-0.9zM293.5 497.0h0.9v0.9h-0.9zM295.8 492.3h0.9v0.9h-0.9zM286.8 498.5h0.9v0.9h-0.9zM286.9 498.4h0.9v0.9h-0.9zM286.8 498.5h0.9v0.9h-0.9zM302.5 481.6h0.9v0.9h-0.9zM291.2 497.7h0.9v0.9h-0.9zM299.2 489.7h0.9v0.9h-0.9zM289.9 498.7h0.9v0.9h-0.9zM289.3 498.5h0.9v0.9h-0.9zM286.8 497.0h0.9v0.9h-0.9zM289.6 498.1h0.9v0.9h-0.9zM284.6 495.0h0.9v0.9h-0.9zM283.0 497.2h0.9v0.9h-0.9zM284.5 498.2h0.9v0.9h-0.9zM292.0 496.5h0.9v0.9h-0.9zM296.1 494.4h0.9v0.9h-0.9zM283.8 495.2h0.9v0.9h-0.9zM283.0 496.0h0.9v0.9h-0.9zM293.3 493.9h0.9v0.9h-0.9zM282.7 491.7h0.9v0.9h-0.9zM294.1 494.3h0.9v0.9h-0.9zM279.6 492.4h0.9v0.9h-0.9zM289.1 498.0h0.9v0.9h-0.9zM292.0 497.8h0.9v0.9h-0.9zM283.1 494.8h0.9v0.9h-0.9zM284.0 496.5h0.9v0.9h-0.9zM289.4 497.8h0.9v0.9h-0.9zM294.3 492.7h0.9v0.9h-0.9zM286.8 497.9h0.9v0.9h-0.9zM294.0 496.0h0.9v0.9h-0.9zM282.0 492.7h0.9v0.9h-0.9zM281.3 491.7h0.9v0.9h-0.9zM286.5 497.7h0.9v0.9h-0.9zM272.7 487.1h0.9v0.9h-0.9zM285.9 496.2h0.9v0.9h-0.9zM284.7 496.9h0.9v0.9h-0.9zM282.0 495.7h0.9v0.9h-0.9zM286.4 498.6h0.9v0.9h-0.9zM287.8 497.4h0.9v0.9h-0.9zM296.0 496.7h0.9v0.9h-0.9zM302.7 484.0h0.9v0.9h-0.9zM279.5 494.8h0.9v0.9h-0.9zM301.8 493.8h0.9v0.9h-0.9zM290.6 498.1h0.9v0.9h-0.9zM297.7 489.5h0.9v0.9h-0.9zM285.6 495.8h0.9v0.9h-0.9zM292.3 498.2h0.9v0.9h-0.9zM295.7 495.3h0.9v0.9h-0.9zM277.6 493.4h0.9v0.9h-0.9zM289.4 497.9h0.9v0.9h-0.9zM292.1 498.3h0.9v0.9h-0.9zM292.8 496.0h0.9v0.9h-0.9zM280.6 494.4h0.9v0.9h-0.9zM284.0 493.7h0.9v0.9h-0.9zM287.7 497.5h0.9v0.9h-0.9zM281.1 496.4h0.9v0.9h-0.9zM287.0 497.6h0.9v0.9h-0.9zM296.7 489.3h0.9v0.9h-0.9zM288.2 497.6h0.9v0.9h-0.9zM287.3 498.0h0.9v0.9h-0.9zM292.0 496.4h0.9v0.9h-0.9zM299.2 487.4h0.9v0.9h-0.9zM284.5 496.6h0.9v0.9h-0.9zM287.6 498.1h0.9v0.9h-0.9zM284.2 497.8h0.9v0.9h-0.9zM295.6 496.2h0.9v0.9h-0.9zM290.1 497.8h0.9v0.9h-0.9zM290.1 497.4h0.9v0.9h-0.9zM278.1 490.4h0.9v0.9h-0.9zM296.8 492.1h0.9v0.9h-0.9zM286.1 497.8h0.9v0.9h-0.9zM302.0 484.0h0.9v0.9h-0.9zM289.6 497.8h0.9v0.9h-0.9zM293.5 497.6h0.9v0.9h-0.9zM298.2 493.5h0.9v0.9h-0.9zM285.0 497.3h0.9v0.9h-0.9zM292.9 497.8h0.9v0.9h-0.9zM286.8 497.1h0.9v0.9h-0.9zM290.7 498.0h0.9v0.9h-0.9zM287.5 497.2h0.9v0.9h-0.9zM282.7 492.5h0.9v0.9h-0.9zM285.8 495.7h0.9v0.9h-0.9zM277.6 485.9h0.9v0.9h-0.9zM281.9 497.4h0.9v0.9h-0.9zM293.4 496.7h0.9v0.9h-0.9zM285.0 498.4h0.9v0.9h-0.9zM296.7 491.2h0.9v0.9h-0.9zM294.9 495.1h0.9v0.9h-0.9zM292.0 495.4h0.9v0.9h-0.9zM286.7 497.3h0.9v0.9h-0.9zM286.5 498.2h0.9v0.9h-0.9zM284.3 493.9h0.9v0.9h-0.9zM284.8 496.8h0.9v0.9h-0.9zM288.3 497.6h0.9v0.9h-0.9zM294.4 496.3h0.9v0.9h-0.9zM289.4 497.9h0.9v0.9h-0.9zM296.8 489.4h0.9v0.9h-0.9zM293.9 494.2h0.9v0.9h-0.9zM291.7 497.1h0.9v0.9h-0.9zM285.7 498.4h0.9v0.9h-0.9zM280.4 496.8h0.9v0.9h-0.9zM291.4 498.2h0.9v0.9h-0.9zM293.8 496.9h0.9v0.9h-0.9zM290.1 497.8h0.9v0.9h-0.9zM290.0 497.4h0.9v0.9h-0.9zM290.6 497.1h0.9v0.9h-0.9zM291.4 498.4h0.9v0.9h-0.9zM293.7 496.9h0.9v0.9h-0.9zM294.6 493.1h0.9v0.9h-0.9zM281.5 495.3h0.9v0.9h-0.9zM288.8 498.7h0.9v0.9h-0.9zM291.7 495.8h0.9v0.9h-0.9zM283.5 497.7h0.9v0.9h-0.9zM282.0 497.0h0.9v0.9h-0.9zM292.3 498.2h0.9v0.9h-0.9zM302.6 481.0h0.9v0.9h-0.9zM283.3 495.4h0.9v0.9h-0.9zM288.2 498.3h0.9v0.9h-0.9zM280.7 496.2h0.9v0.9h-0.9zM284.8 495.9h0.9v0.9h-0.9zM283.8 498.1h0.9v0.9h-0.9zM288.2 497.9h0.9v0.9h-0.9zM292.0 497.0h0.9v0.9h-0.9zM286.6 497.6h0.9v0.9h-0.9zM299.6 493.3h0.9v0.9h-0.9zM288.8 498.7h0.9v0.9h-0.9zM289.3 498.7h0.9v0.9h-0.9zM301.5 488.8h0.9v0.9h-0.9zM286.0 495.9h0.9v0.9h-0.9zM279.9 496.3h0.9v0.9h-0.9zM286.8 497.9h0.9v0.9h-0.9zM284.2 495.5h0.9v0.9h-0.9zM285.0 497.4h0.9v0.9h-0.9zM286.7 497.7h0.9v0.9h-0.9zM285.6 497.3h0.9v0.9h-0.9zM287.0 498.3h0.9v0.9h-0.9zM288.7 498.0h0.9v0.9h-0.9zM292.6 494.0h0.9v0.9h-0.9zM295.2 493.9h0.9v0.9h-0.9zM288.0 497.5h0.9v0.9h-0.9zM278.4 493.0h0.9v0.9h-0.9zM280.8 497.1h0.9v0.9h-0.9zM295.4 494.8h0.9v0.9h-0.9zM288.0 497.9h0.9v0.9h-0.9zM296.9 490.0h0.9v0.9h-0.9zM279.5 496.2h0.9v0.9h-0.9zM288.7 498.1h0.9v0.9h-0.9zM296.8 493.6h0.9v0.9h-0.9zM285.4 497.0h0.9v0.9h-0.9zM285.7 498.1h0.9v0.9h-0.9zM291.1 496.4h0.9v0.9h-0.9zM287.3 497.8h0.9v0.9h-0.9zM288.9 497.8h0.9v0.9h-0.9zM286.8 496.6h0.9v0.9h-0.9zM285.9 498.2h0.9v0.9h-0.9zM282.2 497.0h0.9v0.9h-0.9zM288.7 498.5h0.9v0.9h-0.9zM290.5 498.6h0.9v0.9h-0.9zM292.5 495.9h0.9v0.9h-0.9zM286.7 496.5h0.9v0.9h-0.9zM285.0 497.1h0.9v0.9h-0.9zM275.4 487.1h0.9v0.9h-0.9zM292.9 496.5h0.9v0.9h-0.9zM288.9 498.5h0.9v0.9h-0.9zM278.9 495.9h0.9v0.9h-0.9zM287.9 498.0h0.9v0.9h-0.9zM278.8 495.6h0.9v0.9h-0.9zM288.9 497.9h0.9v0.9h-0.9zM285.2 496.4h0.9v0.9h-0.9zM287.5 498.3h0.9v0.9h-0.9zM287.2 497.5h0.9v0.9h-0.9zM290.4 497.9h0.9v0.9h-0.9zM290.2 497.1h0.9v0.9h-0.9zM286.0 498.4h0.9v0.9h-0.9zM285.8 496.0h0.9v0.9h-0.9zM294.4 497.0h0.9v0.9h-0.9zM281.0 491.8h0.9v0.9h-0.9zM292.9 497.2h0.9v0.9h-0.9zM289.3 497.5h0.9v0.9h-0.9zM292.7 495.3h0.9v0.9h-0.9zM289.9 497.5h0.9v0.9h-0.9zM288.8 497.8h0.9v0.9h-0.9zM291.5 495.4h0.9v0.9h-0.9zM295.8 497.1h0.9v0.9h-0.9zM284.7 495.5h0.9v0.9h-0.9zM282.1 492.9h0.9v0.9h-0.9zM279.6 492.8h0.9v0.9h-0.9zM295.9 494.6h0.9v0.9h-0.9zM288.1 498.0h0.9v0.9h-0.9zM291.0 496.0h0.9v0.9h-0.9zM281.0 495.7h0.9v0.9h-0.9zM299.2 493.1h0.9v0.9h-0.9zM281.3 497.3h0.9v0.9h-0.9zM282.1 491.2h0.9v0.9h-0.9zM283.9 495.8h0.9v0.9h-0.9zM287.4 498.5h0.9v0.9h-0.9zM278.7 490.3h0.9v0.9h-0.9zM285.0 497.7h0.9v0.9h-0.9zM290.7 497.9h0.9v0.9h-0.9zM288.3 498.5h0.9v0.9h-0.9zM281.2 497.1h0.9v0.9h-0.9zM291.5 496.0h0.9v0.9h-0.9zM278.9 489.2h0.9v0.9h-0.9zM293.7 496.0h0.9v0.9h-0.9zM291.0 498.0h0.9v0.9h-0.9zM291.0 498.6h0.9v0.9h-0.9zM285.3 497.1h0.9v0.9h-0.9zM290.5 497.5h0.9v0.9h-0.9zM289.5 497.9h0.9v0.9h-0.9zM286.8 497.6h0.9v0.9h-0.9zM288.4 498.2h0.9v0.9h-0.9zM287.6 498.6h0.9v0.9h-0.9zM293.2 496.2h0.9v0.9h-0.9zM283.5 494.8h0.9v0.9h-0.9zM295.2 496.3h0.9v0.9h-0.9zM285.3 496.0h0.9v0.9h-0.9zM286.1 498.2h0.9v0.9h-0.9zM280.6 491.0h0.9v0.9h-0.9zM283.4 495.5h0.9v0.9h-0.9zM279.5 489.8h0.9v0.9h-0.9zM286.0 496.9h0.9v0.9h-0.9zM292.9 497.9h0.9v0.9h-0.9zM290.3 497.5h0.9v0.9h-0.9zM291.6 497.5h0.9v0.9h-0.9zM299.0 491.3h0.9v0.9h-0.9zM283.7 496.8h0.9v0.9h-0.9zM288.2 498.7h0.9v0.9h-0.9zM290.9 496.4h0.9v0.9h-0.9zM288.8 497.6h0.9v0.9h-0.9zM289.8 498.2h0.9v0.9h-0.9zM290.1 496.8h0.9v0.9h-0.9zM282.3 497.4h0.9v0.9h-0.9zM280.2 496.8h0.9v0.9h-0.9zM290.6 496.6h0.9v0.9h-0.9zM284.1 498.0h0.9v0.9h-0.9zM297.0 496.6h0.9v0.9h-0.9zM298.5 487.2h0.9v0.9h-0.9zM294.7 492.0h0.9v0.9h-0.9zM286.4 496.8h0.9v0.9h-0.9zM288.5 498.3h0.9v0.9h-0.9zM290.9 497.3h0.9v0.9h-0.9zM280.4 496.1h0.9v0.9h-0.9zM290.7 497.8h0.9v0.9h-0.9zM291.1 498.0h0.9v0.9h-0.9zM291.0 496.7h0.9v0.9h-0.9zM288.5 498.7h0.9v0.9h-0.9zM300.3 493.5h0.9v0.9h-0.9zM297.6 492.0h0.9v0.9h-0.9zM283.7 496.7h0.9v0.9h-0.9zM285.9 498.3h0.9v0.9h-0.9zM287.1 497.7h0.9v0.9h-0.9zM283.4 493.8h0.9v0.9h-0.9zM294.9 496.0h0.9v0.9h-0.9zM292.1 495.0h0.9v0.9h-0.9zM286.1 497.5h0.9v0.9h-0.9zM286.2 498.6h0.9v0.9h-0.9zM286.7 498.5h0.9v0.9h-0.9zM288.9 498.2h0.9v0.9h-0.9zM284.9 496.3h0.9v0.9h-0.9zM288.0 498.5h0.9v0.9h-0.9zM288.5 497.8h0.9v0.9h-0.9zM287.1 498.0h0.9v0.9h-0.9zM291.5 496.7h0.9v0.9h-0.9zM293.6 497.8h0.9v0.9h-0.9zM292.8 496.8h0.9v0.9h-0.9zM286.8 498.6h0.9v0.9h-0.9zM273.8 491.4h0.9v0.9h-0.9zM293.4 497.6h0.9v0.9h-0.9zM280.6 496.4h0.9v0.9h-0.9zM286.5 498.3h0.9v0.9h-0.9zM285.4 498.4h0.9v0.9h-0.9zM286.3 496.9h0.9v0.9h-0.9zM296.7 490.3h0.9v0.9h-0.9zM280.8 496.0h0.9v0.9h-0.9zM286.0 497.0h0.9v0.9h-0.9zM296.9 492.3h0.9v0.9h-0.9zM284.8 497.7h0.9v0.9h-0.9zM287.6 498.7h0.9v0.9h-0.9zM296.7 496.6h0.9v0.9h-0.9zM292.0 495.3h0.9v0.9h-0.9zM292.4 494.4h0.9v0.9h-0.9zM288.2 498.1h0.9v0.9h-0.9zM295.2 495.7h0.9v0.9h-0.9zM289.3 498.4h0.9v0.9h-0.9zM293.3 498.1h0.9v0.9h-0.9zM291.0 497.6h0.9v0.9h-0.9zM284.6 494.4h0.9v0.9h-0.9zM289.6 497.4h0.9v0.9h-0.9zM277.9 492.9h0.9v0.9h-0.9zM289.1 497.9h0.9v0.9h-0.9zM290.1 497.4h0.9v0.9h-0.9zM283.4 496.5h0.9v0.9h-0.9zM292.1 498.2h0.9v0.9h-0.9zM294.8 493.5h0.9v0.9h-0.9zM289.0 497.8h0.9v0.9h-0.9zM296.4 493.0h0.9v0.9h-0.9zM297.5 491.1h0.9v0.9h-0.9zM283.6 494.5h0.9v0.9h-0.9zM284.0 495.6h0.9v0.9h-0.9zM276.1 487.7h0.9v0.9h-0.9zM281.8 491.0h0.9v0.9h-0.9zM286.7 498.2h0.9v0.9h-0.9zM291.8 497.7h0.9v0.9h-0.9zM295.9 492.5h0.9v0.9h-0.9zM288.8 498.6h0.9v0.9h-0.9zM288.8 498.1h0.9v0.9h-0.9zM281.6 494.7h0.9v0.9h-0.9zM294.8 497.3h0.9v0.9h-0.9zM282.9 497.6h0.9v0.9h-0.9zM273.5 485.5h0.9v0.9h-0.9zM282.6 495.1h0.9v0.9h-0.9zM283.5 495.7h0.9v0.9h-0.9zM301.7 490.0h0.9v0.9h-0.9zM288.2 497.8h0.9v0.9h-0.9zM283.5 492.7h0.9v0.9h-0.9zM279.3 496.2h0.9v0.9h-0.9zM290.1 497.2h0.9v0.9h-0.9zM293.5 493.4h0.9v0.9h-0.9zM290.1 497.0h0.9v0.9h-0.9zM296.2 492.1h0.9v0.9h-0.9zM277.8 486.3h0.9v0.9h-0.9zM282.2 497.4h0.9v0.9h-0.9zM294.1 494.8h0.9v0.9h-0.9zM288.0 497.8h0.9v0.9h-0.9zM287.6 497.4h0.9v0.9h-0.9zM294.2 493.5h0.9v0.9h-0.9zM291.8 496.5h0.9v0.9h-0.9zM288.7 498.0h0.9v0.9h-0.9zM298.7 494.1h0.9v0.9h-0.9zM286.4 498.5h0.9v0.9h-0.9zM291.3 497.1h0.9v0.9h-0.9zM293.3 496.9h0.9v0.9h-0.9zM290.6 497.1h0.9v0.9h-0.9zM291.2 496.3h0.9v0.9h-0.9zM294.4 491.9h0.9v0.9h-0.9zM294.3 496.2h0.9v0.9h-0.9zM278.0 495.7h0.9v0.9h-0.9zM286.6 496.7h0.9v0.9h-0.9zM290.6 498.0h0.9v0.9h-0.9zM279.0 492.5h0.9v0.9h-0.9zM291.1 498.5h0.9v0.9h-0.9zM288.3 498.1h0.9v0.9h-0.9zM292.4 497.8h0.9v0.9h-0.9zM288.0 498.3h0.9v0.9h-0.9zM291.0 497.0h0.9v0.9h-0.9zM281.3 497.2h0.9v0.9h-0.9zM291.7 496.2h0.9v0.9h-0.9zM296.9 496.5h0.9v0.9h-0.9zM293.6 496.3h0.9v0.9h-0.9zM292.0 497.5h0.9v0.9h-0.9zM290.2 497.5h0.9v0.9h-0.9zM291.2 495.8h0.9v0.9h-0.9zM279.8 496.1h0.9v0.9h-0.9zM278.7 490.8h0.9v0.9h-0.9zM281.1 493.2h0.9v0.9h-0.9zM298.1 491.3h0.9v0.9h-0.9zM302.4 492.8h0.9v0.9h-0.9zM281.1 494.6h0.9v0.9h-0.9zM295.9 496.2h0.9v0.9h-0.9zM293.1 495.1h0.9v0.9h-0.9zM288.6 497.8h0.9v0.9h-0.9zM289.7 498.6h0.9v0.9h-0.9zM288.2 498.7h0.9v0.9h-0.9zM296.6 491.2h0.9v0.9h-0.9zM288.4 498.1h0.9v0.9h-0.9zM286.0 498.4h0.9v0.9h-0.9zM286.4 498.1h0.9v0.9h-0.9zM288.5 498.3h0.9v0.9h-0.9zM280.4 489.4h0.9v0.9h-0.9zM286.6 498.0h0.9v0.9h-0.9zM286.6 497.0h0.9v0.9h-0.9zM292.5 497.1h0.9v0.9h-0.9zM290.0 498.1h0.9v0.9h-0.9zM293.0 494.5h0.9v0.9h-0.9zM278.5 492.2h0.9v0.9h-0.9zM293.4 495.6h0.9v0.9h-0.9zM288.8 498.0h0.9v0.9h-0.9zM295.4 497.2h0.9v0.9h-0.9zM284.5 497.4h0.9v0.9h-0.9zM290.4 498.1h0.9v0.9h-0.9zM291.7 498.4h0.9v0.9h-0.9zM296.8 495.6h0.9v0.9h-0.9zM288.7 497.8h0.9v0.9h-0.9zM293.0 495.3h0.9v0.9h-0.9zM291.6 498.1h0.9v0.9h-0.9zM286.9 498.2h0.9v0.9h-0.9zM277.3 486.8h0.9v0.9h-0.9zM288.4 497.8h0.9v0.9h-0.9zM290.5 498.1h0.9v0.9h-0.9zM289.2 498.3h0.9v0.9h-0.9zM294.8 497.2h0.9v0.9h-0.9zM289.3 497.6h0.9v0.9h-0.9zM290.4 498.4h0.9v0.9h-0.9zM294.3 493.0h0.9v0.9h-0.9zM294.2 497.1h0.9v0.9h-0.9zM293.4 497.3h0.9v0.9h-0.9zM298.9 489.1h0.9v0.9h-0.9zM288.7 498.4h0.9v0.9h-0.9zM286.8 497.4h0.9v0.9h-0.9zM289.3 498.1h0.9v0.9h-0.9zM291.0 497.5h0.9v0.9h-0.9zM303.6 482.6h0.9v0.9h-0.9zM272.2 489.3h0.9v0.9h-0.9zM297.6 496.5h0.9v0.9h-0.9zM288.2 498.6h0.9v0.9h-0.9zM299.8 488.1h0.9v0.9h-0.9zM286.2 497.0h0.9v0.9h-0.9zM303.5 490.0h0.9v0.9h-0.9zM291.2 496.5h0.9v0.9h-0.9zM282.1 494.6h0.9v0.9h-0.9zM287.3 497.1h0.9v0.9h-0.9zM292.2 495.2h0.9v0.9h-0.9zM283.7 497.5h0.9v0.9h-0.9zM285.9 498.5h0.9v0.9h-0.9zM293.5 496.5h0.9v0.9h-0.9zM289.3 497.7h0.9v0.9h-0.9zM286.9 498.3h0.9v0.9h-0.9zM289.4 497.8h0.9v0.9h-0.9zM288.3 498.3h0.9v0.9h-0.9zM291.7 496.7h0.9v0.9h-0.9zM293.3 495.8h0.9v0.9h-0.9zM293.4 494.6h0.9v0.9h-0.9zM273.1 490.0h0.9v0.9h-0.9zM299.6 488.2h0.9v0.9h-0.9zM301.2 489.1h0.9v0.9h-0.9zM295.7 496.6h0.9v0.9h-0.9zM294.2 497.5h0.9v0.9h-0.9zM277.2 486.1h0.9v0.9h-0.9zM294.7 493.0h0.9v0.9h-0.9zM287.6 497.7h0.9v0.9h-0.9zM283.4 496.8h0.9v0.9h-0.9zM286.6 496.8h0.9v0.9h-0.9zM292.1 498.3h0.9v0.9h-0.9zM274.4 487.1h0.9v0.9h-0.9zM287.9 498.7h0.9v0.9h-0.9zM284.9 494.9h0.9v0.9h-0.9zM291.0 497.9h0.9v0.9h-0.9zM279.4 493.3h0.9v0.9h-0.9zM290.1 497.4h0.9v0.9h-0.9zM286.5 497.1h0.9v0.9h-0.9zM274.1 485.9h0.9v0.9h-0.9zM292.6 494.6h0.9v0.9h-0.9zM291.3 497.9h0.9v0.9h-0.9zM295.1 494.9h0.9v0.9h-0.9zM289.6 497.4h0.9v0.9h-0.9zM299.3 488.8h0.9v0.9h-0.9zM275.5 486.0h0.9v0.9h-0.9zM294.4 495.4h0.9v0.9h-0.9zM292.5 498.1h0.9v0.9h-0.9zM294.0 497.0h0.9v0.9h-0.9zM285.6 498.4h0.9v0.9h-0.9zM283.6 493.1h0.9v0.9h-0.9zM287.8 497.9h0.9v0.9h-0.9zM285.8 498.5h0.9v0.9h-0.9zM290.6 497.2h0.9v0.9h-0.9zM283.5 495.8h0.9v0.9h-0.9zM284.4 496.8h0.9v0.9h-0.9zM290.8 498.2h0.9v0.9h-0.9zM287.9 497.7h0.9v0.9h-0.9zM286.8 497.9h0.9v0.9h-0.9zM294.2 496.7h0.9v0.9h-0.9zM289.2 498.1h0.9v0.9h-0.9zM286.3 496.9h0.9v0.9h-0.9zM283.5 496.6h0.9v0.9h-0.9zM297.4 491.8h0.9v0.9h-0.9zM293.4 495.7h0.9v0.9h-0.9zM292.3 496.2h0.9v0.9h-0.9zM287.4 497.9h0.9v0.9h-0.9zM289.5 497.6h0.9v0.9h-0.9zM288.5 498.1h0.9v0.9h-0.9zM293.3 497.4h0.9v0.9h-0.9zM291.0 497.1h0.9v0.9h-0.9zM290.5 496.7h0.9v0.9h-0.9zM290.2 497.0h0.9v0.9h-0.9zM280.8 490.7h0.9v0.9h-0.9zM288.4 497.6h0.9v0.9h-0.9zM295.1 491.4h0.9v0.9h-0.9zM283.5 496.7h0.9v0.9h-0.9zM282.3 497.4h0.9v0.9h-0.9zM286.9 497.5h0.9v0.9h-0.9zM293.0 495.4h0.9v0.9h-0.9zM279.7 496.7h0.9v0.9h-0.9zM279.1 495.1h0.9v0.9h-0.9zM293.9 493.0h0.9v0.9h-0.9zM292.6 496.7h0.9v0.9h-0.9zM290.3 498.1h0.9v0.9h-0.9zM285.3 495.7h0.9v0.9h-0.9zM286.4 497.3h0.9v0.9h-0.9zM298.8 490.2h0.9v0.9h-0.9zM294.8 491.3h0.9v0.9h-0.9zM290.1 498.1h0.9v0.9h-0.9zM284.8 496.3h0.9v0.9h-0.9zM286.7 497.4h0.9v0.9h-0.9zM282.3 495.7h0.9v0.9h-0.9zM288.3 498.6h0.9v0.9h-0.9zM294.2 494.2h0.9v0.9h-0.9zM291.7 497.0h0.9v0.9h-0.9zM290.7 496.2h0.9v0.9h-0.9zM290.9 496.8h0.9v0.9h-0.9zM280.0 495.6h0.9v0.9h-0.9zM287.9 498.2h0.9v0.9h-0.9zM289.0 498.7h0.9v0.9h-0.9zM291.4 497.7h0.9v0.9h-0.9zM291.2 497.4h0.9v0.9h-0.9zM289.6 498.6h0.9v0.9h-0.9zM291.5 495.5h0.9v0.9h-0.9zM302.8 492.5h0.9v0.9h-0.9zM287.8 498.5h0.9v0.9h-0.9zM289.9 498.6h0.9v0.9h-0.9zM288.3 498.1h0.9v0.9h-0.9zM302.9 483.0h0.9v0.9h-0.9zM285.9 497.8h0.9v0.9h-0.9zM287.6 497.4h0.9v0.9h-0.9zM274.5 481.3h0.9v0.9h-0.9zM289.9 497.6h0.9v0.9h-0.9zM278.2 492.4h0.9v0.9h-0.9zM276.2 489.0h0.9v0.9h-0.9zM282.7 497.8h0.9v0.9h-0.9zM277.2 488.2h0.9v0.9h-0.9zM293.2 496.3h0.9v0.9h-0.9zM298.6 494.6h0.9v0.9h-0.9zM284.9 495.8h0.9v0.9h-0.9zM289.6 497.4h0.9v0.9h-0.9zM288.5 498.4h0.9v0.9h-0.9zM289.6 498.4h0.9v0.9h-0.9zM288.3 498.5h0.9v0.9h-0.9zM290.9 496.6h0.9v0.9h-0.9zM298.0 491.0h0.9v0.9h-0.9zM291.6 497.8h0.9v0.9h-0.9zM287.4 498.2h0.9v0.9h-0.9zM291.8 495.0h0.9v0.9h-0.9zM279.2 488.6h0.9v0.9h-0.9zM302.6 477.8h0.7v0.7h-0.7zM274.1 477.6h0.7v0.7h-0.7zM273.3 476.6h0.7v0.7h-0.7zM278.2 477.5h0.7v0.7h-0.7zM299.1 484.1h0.7v0.7h-0.7zM301.9 484.0h0.7v0.7h-0.7zM276.3 479.4h0.7v0.7h-0.7zM278.6 478.9h0.7v0.7h-0.7zM303.7 481.3h0.7v0.7h-0.7zM303.0 476.8h0.7v0.7h-0.7zM277.4 476.9h0.7v0.7h-0.7zM274.2 485.0h0.7v0.7h-0.7zM302.5 476.5h0.7v0.7h-0.7zM300.5 479.3h0.7v0.7h-0.7zM275.9 481.0h0.7v0.7h-0.7zM298.3 484.0h0.7v0.7h-0.7zM279.2 484.0h0.7v0.7h-0.7zM298.2 482.0h0.7v0.7h-0.7zM301.9 484.4h0.7v0.7h-0.7zM277.9 478.5h0.7v0.7h-0.7zM300.6 481.5h0.7v0.7h-0.7zM278.8 479.6h0.7v0.7h-0.7zM299.6 481.1h0.7v0.7h-0.7zM300.5 480.6h0.7v0.7h-0.7zM275.1 483.7h0.7v0.7h-0.7zM300.0 469.9h0.9v0.9h-0.9zM303.8 467.0h0.9v0.9h-0.9zM273.1 468.0h0.9v0.9h-0.9zM273.8 475.0h0.9v0.9h-0.9zM302.6 474.4h0.9v0.9h-0.9z"/>
<path fill="#d42a1e" d="M307.4 485.1h0.9v0.9h-0.9zM307.9 488.6h0.9v0.9h-0.9zM315.8 477.3h0.9v0.9h-0.9zM315.2 479.9h0.9v0.9h-0.9zM304.4 488.4h0.9v0.9h-0.9zM311.5 484.2h0.9v0.9h-0.9zM310.3 485.0h0.9v0.9h-0.9zM311.3 485.4h0.9v0.9h-0.9zM310.1 485.0h0.9v0.9h-0.9zM306.9 488.0h0.9v0.9h-0.9zM305.8 490.9h0.9v0.9h-0.9zM309.9 481.4h0.9v0.9h-0.9zM310.9 479.8h0.9v0.9h-0.9zM304.6 490.3h0.9v0.9h-0.9zM308.8 488.3h0.9v0.9h-0.9zM309.8 486.6h0.9v0.9h-0.9zM309.6 486.6h0.9v0.9h-0.9zM307.3 488.9h0.9v0.9h-0.9zM311.8 484.9h0.9v0.9h-0.9zM305.2 491.5h0.9v0.9h-0.9zM307.4 489.1h0.9v0.9h-0.9zM310.9 484.9h0.9v0.9h-0.9zM312.0 483.1h0.9v0.9h-0.9zM309.2 488.0h0.9v0.9h-0.9zM308.9 486.9h0.9v0.9h-0.9zM304.3 491.7h0.9v0.9h-0.9zM305.2 489.9h0.9v0.9h-0.9zM309.6 487.4h0.9v0.9h-0.9zM309.1 485.8h0.9v0.9h-0.9zM306.1 489.7h0.9v0.9h-0.9zM309.9 486.8h0.9v0.9h-0.9zM309.3 481.7h0.9v0.9h-0.9zM310.1 487.1h0.9v0.9h-0.9zM309.5 486.2h0.9v0.9h-0.9zM305.4 490.2h0.9v0.9h-0.9zM316.6 477.7h0.9v0.9h-0.9zM312.1 483.9h0.9v0.9h-0.9zM304.2 492.2h0.9v0.9h-0.9zM312.1 479.8h0.9v0.9h-0.9zM304.5 491.3h0.9v0.9h-0.9zM306.6 486.9h0.9v0.9h-0.9zM311.2 484.1h0.9v0.9h-0.9zM313.2 482.0h0.9v0.9h-0.9zM305.1 491.1h0.9v0.9h-0.9zM307.8 486.6h0.9v0.9h-0.9zM310.0 484.3h0.9v0.9h-0.9zM312.2 483.7h0.9v0.9h-0.9zM306.4 487.2h0.9v0.9h-0.9zM306.1 487.6h0.9v0.9h-0.9zM307.5 487.9h0.9v0.9h-0.9zM310.7 485.4h0.9v0.9h-0.9zM312.1 482.5h0.9v0.9h-0.9zM312.9 478.6h0.9v0.9h-0.9zM304.4 489.5h0.9v0.9h-0.9zM310.3 484.6h0.9v0.9h-0.9zM304.9 490.5h0.9v0.9h-0.9zM310.3 486.3h0.9v0.9h-0.9zM308.3 487.2h0.9v0.9h-0.9zM306.8 490.0h0.9v0.9h-0.9zM308.7 488.0h0.9v0.9h-0.9zM315.5 478.2h0.9v0.9h-0.9zM309.1 486.3h0.9v0.9h-0.9zM304.6 491.5h0.9v0.9h-0.9zM310.3 484.9h0.9v0.9h-0.9zM306.9 486.3h0.9v0.9h-0.9zM314.2 477.7h0.9v0.9h-0.9zM316.8 478.1h0.9v0.9h-0.9zM309.7 487.4h0.9v0.9h-0.9zM308.4 488.6h0.9v0.9h-0.9zM308.0 487.7h0.9v0.9h-0.9zM311.7 484.0h0.9v0.9h-0.9zM305.9 489.8h0.9v0.9h-0.9zM305.9 489.5h0.9v0.9h-0.9zM313.9 478.8h0.9v0.9h-0.9zM312.9 483.7h0.9v0.9h-0.9zM305.8 491.2h0.9v0.9h-0.9zM313.1 483.0h0.9v0.9h-0.9zM306.9 485.3h0.9v0.9h-0.9zM305.9 490.3h0.9v0.9h-0.9zM311.2 479.1h0.9v0.9h-0.9zM306.8 488.8h0.9v0.9h-0.9zM308.0 488.5h0.9v0.9h-0.9zM306.0 487.5h0.9v0.9h-0.9zM306.9 489.4h0.9v0.9h-0.9zM308.3 484.4h0.9v0.9h-0.9zM306.4 490.6h0.9v0.9h-0.9zM304.9 491.0h0.9v0.9h-0.9zM306.3 490.3h0.9v0.9h-0.9zM310.5 483.2h0.9v0.9h-0.9zM306.2 490.9h0.9v0.9h-0.9zM305.8 490.7h0.9v0.9h-0.9zM308.8 487.7h0.9v0.9h-0.9zM305.3 490.7h0.9v0.9h-0.9zM308.1 488.2h0.9v0.9h-0.9zM307.7 488.5h0.9v0.9h-0.9zM307.2 488.7h0.9v0.9h-0.9zM311.0 484.5h0.9v0.9h-0.9zM304.6 492.0h0.9v0.9h-0.9zM311.0 480.7h0.9v0.9h-0.9zM308.1 488.3h0.9v0.9h-0.9zM307.7 488.7h0.9v0.9h-0.9zM307.2 489.5h0.9v0.9h-0.9zM316.1 477.8h0.9v0.9h-0.9zM306.7 489.6h0.9v0.9h-0.9zM306.2 490.7h0.9v0.9h-0.9zM313.9 478.5h0.9v0.9h-0.9zM306.8 486.1h0.9v0.9h-0.9zM309.4 486.0h0.9v0.9h-0.9zM308.7 487.8h0.9v0.9h-0.9zM311.0 482.3h0.9v0.9h-0.9zM306.6 490.5h0.9v0.9h-0.9zM311.5 482.0h0.9v0.9h-0.9zM310.3 485.6h0.9v0.9h-0.9zM310.8 485.4h0.9v0.9h-0.9zM312.3 482.1h0.9v0.9h-0.9zM307.2 486.4h0.9v0.9h-0.9zM304.5 489.9h0.9v0.9h-0.9zM307.7 487.1h0.9v0.9h-0.9zM307.0 490.2h0.9v0.9h-0.9zM309.4 486.6h0.9v0.9h-0.9zM304.2 492.0h0.9v0.9h-0.9zM310.5 484.1h0.9v0.9h-0.9zM306.2 489.3h0.9v0.9h-0.9zM304.9 491.7h0.9v0.9h-0.9zM308.2 488.4h0.9v0.9h-0.9zM310.7 483.7h0.9v0.9h-0.9zM307.5 483.2h0.9v0.9h-0.9zM304.5 491.4h0.9v0.9h-0.9zM309.3 487.9h0.9v0.9h-0.9zM305.3 490.5h0.9v0.9h-0.9zM305.4 490.3h0.9v0.9h-0.9zM318.2 475.7h0.9v0.9h-0.9zM316.9 478.5h0.9v0.9h-0.9zM307.8 487.3h0.9v0.9h-0.9zM307.0 488.1h0.9v0.9h-0.9zM312.0 484.7h0.9v0.9h-0.9zM314.4 481.5h0.9v0.9h-0.9zM311.1 483.1h0.9v0.9h-0.9zM307.5 489.2h0.9v0.9h-0.9zM311.3 483.5h0.9v0.9h-0.9zM309.2 486.5h0.9v0.9h-0.9zM306.1 486.8h0.9v0.9h-0.9zM311.9 485.0h0.9v0.9h-0.9zM306.7 490.0h0.9v0.9h-0.9zM308.8 485.9h0.9v0.9h-0.9zM306.1 489.2h0.9v0.9h-0.9zM306.8 487.1h0.9v0.9h-0.9zM305.3 490.5h0.9v0.9h-0.9zM304.6 489.4h0.9v0.9h-0.9zM311.2 484.9h0.9v0.9h-0.9zM306.4 489.5h0.9v0.9h-0.9zM311.3 483.1h0.9v0.9h-0.9zM308.5 487.7h0.9v0.9h-0.9zM312.1 483.5h0.9v0.9h-0.9zM311.3 485.1h0.9v0.9h-0.9zM309.5 485.9h0.9v0.9h-0.9zM311.0 485.1h0.9v0.9h-0.9zM307.4 488.4h0.9v0.9h-0.9zM307.0 489.2h0.9v0.9h-0.9zM317.3 473.7h0.9v0.9h-0.9zM304.9 490.9h0.9v0.9h-0.9zM317.1 476.4h0.9v0.9h-0.9zM317.8 475.3h0.9v0.9h-0.9zM310.1 485.7h0.9v0.9h-0.9zM308.6 488.1h0.9v0.9h-0.9zM309.4 486.9h0.9v0.9h-0.9zM304.4 491.9h0.9v0.9h-0.9zM306.6 490.5h0.9v0.9h-0.9zM305.6 488.1h0.9v0.9h-0.9zM306.5 490.1h0.9v0.9h-0.9zM305.2 491.3h0.9v0.9h-0.9zM311.9 482.5h0.9v0.9h-0.9zM308.8 488.4h0.9v0.9h-0.9zM317.4 477.8h0.9v0.9h-0.9zM311.2 485.3h0.9v0.9h-0.9zM310.5 484.7h0.9v0.9h-0.9zM308.9 487.8h0.9v0.9h-0.9zM309.9 486.0h0.9v0.9h-0.9zM311.3 485.2h0.9v0.9h-0.9zM313.8 480.9h0.9v0.9h-0.9zM315.7 478.8h0.9v0.9h-0.9zM309.3 484.4h0.9v0.9h-0.9zM309.8 486.5h0.9v0.9h-0.9zM307.1 484.7h0.9v0.9h-0.9zM310.9 483.4h0.9v0.9h-0.9zM307.8 487.9h0.9v0.9h-0.9zM313.2 482.9h0.9v0.9h-0.9zM305.2 491.2h0.9v0.9h-0.9zM314.1 478.7h0.9v0.9h-0.9zM304.7 490.4h0.9v0.9h-0.9zM314.4 481.7h0.9v0.9h-0.9zM306.0 490.6h0.9v0.9h-0.9zM306.8 487.2h0.9v0.9h-0.9zM305.5 489.2h0.9v0.9h-0.9zM306.7 488.5h0.9v0.9h-0.9zM307.6 488.0h0.9v0.9h-0.9zM311.7 485.0h0.9v0.9h-0.9zM305.6 488.7h0.9v0.9h-0.9zM305.1 491.2h0.9v0.9h-0.9zM304.4 492.5h0.9v0.9h-0.9zM314.9 478.4h0.9v0.9h-0.9zM311.4 485.7h0.9v0.9h-0.9zM308.7 486.8h0.9v0.9h-0.9zM306.0 489.0h0.9v0.9h-0.9zM307.0 489.8h0.9v0.9h-0.9zM305.3 489.9h0.9v0.9h-0.9zM308.5 484.3h0.9v0.9h-0.9zM308.4 488.0h0.9v0.9h-0.9zM309.3 487.2h0.9v0.9h-0.9zM311.5 482.5h0.9v0.9h-0.9zM311.9 481.6h0.9v0.9h-0.9zM312.9 483.5h0.9v0.9h-0.9zM310.6 486.3h0.9v0.9h-0.9zM306.1 487.4h0.9v0.9h-0.9zM308.8 488.4h0.9v0.9h-0.9zM311.3 479.9h0.9v0.9h-0.9zM313.5 482.8h0.9v0.9h-0.9zM305.3 490.2h0.9v0.9h-0.9zM311.1 485.6h0.9v0.9h-0.9zM305.5 491.3h0.9v0.9h-0.9zM308.9 486.0h0.9v0.9h-0.9zM311.2 483.4h0.9v0.9h-0.9zM310.5 486.0h0.9v0.9h-0.9zM308.7 486.7h0.9v0.9h-0.9zM314.0 481.7h0.9v0.9h-0.9zM308.7 487.7h0.9v0.9h-0.9zM305.7 491.1h0.9v0.9h-0.9zM305.0 492.0h0.9v0.9h-0.9zM309.6 483.9h0.9v0.9h-0.9zM306.9 490.2h0.9v0.9h-0.9z"/>
<path fill="#c8707a" fill-opacity="0.85" d="M335.2 408.4h1.1v1.1h-1.1zM333.6 410.3h1.1v1.1h-1.1zM338.3 416.9h1.1v1.1h-1.1zM339.0 417.9h1.1v1.1h-1.1zM331.7 429.3h1.1v1.1h-1.1zM333.6 437.8h1.1v1.1h-1.1zM331.3 445.1h1.1v1.1h-1.1zM313.7 442.6h1.1v1.1h-1.1zM329.6 447.9h1.1v1.1h-1.1zM324.6 456.7h1.1v1.1h-1.1zM314.9 454.2h1.1v1.1h-1.1zM310.6 457.6h1.1v1.1h-1.1zM309.5 459.5h1.1v1.1h-1.1zM320.4 459.1h1.1v1.1h-1.1zM316.5 464.4h1.1v1.1h-1.1zM322.2 465.4h1.1v1.1h-1.1zM308.1 467.9h1.1v1.1h-1.1zM309.5 469.8h1.1v1.1h-1.1zM315.4 469.4h1.1v1.1h-1.1zM319.3 470.3h1.1v1.1h-1.1zM312.9 473.2h1.1v1.1h-1.1zM304.7 467.3h1.1v1.1h-1.1zM305.1 469.8h1.1v1.1h-1.1zM304.7 477.8h1.1v1.1h-1.1zM308.1 477.8h1.1v1.1h-1.1zM270.9 457.6h1.1v1.1h-1.1zM271.9 470.3h1.1v1.1h-1.1zM272.6 479.6h1.1v1.1h-1.1zM263.9 481.4h1.1v1.1h-1.1zM266.9 483.8h1.1v1.1h-1.1zM269.7 484.2h1.1v1.1h-1.1zM271.9 482.5h1.1v1.1h-1.1zM272.6 485.9h1.1v1.1h-1.1zM268.8 488.4h1.1v1.1h-1.1zM271.7 490.3h1.1v1.1h-1.1zM272.3 492.2h1.1v1.1h-1.1zM320.9 465.0h1v1h-1zM318.3 464.5h1v1h-1zM308.3 472.8h1v1h-1zM310.2 481.5h1v1h-1zM306.3 473.5h1v1h-1zM316.4 455.9h1v1h-1zM308.4 469.8h1v1h-1zM310.0 472.8h1v1h-1zM308.9 475.8h1v1h-1zM319.7 464.2h1v1h-1zM311.4 464.1h1v1h-1zM311.8 465.2h1v1h-1zM313.2 471.8h1v1h-1zM316.4 462.0h1v1h-1zM310.6 463.3h1v1h-1zM305.7 471.0h1v1h-1zM316.4 461.0h1v1h-1zM312.2 465.9h1v1h-1zM304.9 475.0h1v1h-1zM318.9 462.7h1v1h-1zM316.8 460.7h1v1h-1zM312.7 464.9h1v1h-1zM312.4 477.0h1v1h-1zM313.0 464.8h1v1h-1zM306.9 476.9h1v1h-1zM318.4 470.6h1v1h-1zM318.9 463.8h1v1h-1zM310.3 469.1h1v1h-1zM313.9 472.1h1v1h-1zM306.8 477.8h1v1h-1zM319.3 451.4h1v1h-1zM316.4 461.3h1v1h-1zM315.9 458.1h1v1h-1zM306.9 482.6h1v1h-1zM318.5 470.3h1v1h-1zM313.0 471.1h1v1h-1zM319.8 457.3h1v1h-1zM308.0 483.0h1v1h-1zM312.2 469.5h1v1h-1zM312.1 469.1h1v1h-1zM305.2 480.3h1v1h-1zM318.3 465.8h1v1h-1zM307.3 481.6h1v1h-1zM320.2 452.4h1v1h-1zM311.0 474.9h1v1h-1z"/>
<path fill="#c03848" d="M310.0 400.0h1v1h-1z"/><path fill="#333" d="M311.6 400.0h1v1h-1z"/>
</g>
<rect x="222.1" y="385.2" width="133.7" height="118.3" fill="none" stroke="#111" stroke-width="1.1"/>
<line x1="219.20" y1="499.20" x2="222.10" y2="499.20" stroke="#111" stroke-width="0.9" />
<text x="217.20" y="501.49" font-size="6.4" text-anchor="end" fill="#111" stroke="#111" stroke-width="0.22" textLength="3.00" lengthAdjust="spacingAndGlyphs" >0</text>
<line x1="219.20" y1="480.20" x2="222.10" y2="480.20" stroke="#111" stroke-width="0.9" />
<text x="217.20" y="482.49" font-size="6.4" text-anchor="end" fill="#111" stroke="#111" stroke-width="0.22" textLength="6.00" lengthAdjust="spacingAndGlyphs" >10</text>
<line x1="219.20" y1="461.20" x2="222.10" y2="461.20" stroke="#111" stroke-width="0.9" />
<text x="217.20" y="463.49" font-size="6.4" text-anchor="end" fill="#111" stroke="#111" stroke-width="0.22" textLength="6.00" lengthAdjust="spacingAndGlyphs" >20</text>
<line x1="219.20" y1="442.20" x2="222.10" y2="442.20" stroke="#111" stroke-width="0.9" />
<text x="217.20" y="444.49" font-size="6.4" text-anchor="end" fill="#111" stroke="#111" stroke-width="0.22" textLength="6.00" lengthAdjust="spacingAndGlyphs" >30</text>
<line x1="219.20" y1="423.20" x2="222.10" y2="423.20" stroke="#111" stroke-width="0.9" />
<text x="217.20" y="425.49" font-size="6.4" text-anchor="end" fill="#111" stroke="#111" stroke-width="0.22" textLength="6.00" lengthAdjust="spacingAndGlyphs" >40</text>
<line x1="219.20" y1="404.20" x2="222.10" y2="404.20" stroke="#111" stroke-width="0.9" />
<text x="217.20" y="406.49" font-size="6.4" text-anchor="end" fill="#111" stroke="#111" stroke-width="0.22" textLength="6.00" lengthAdjust="spacingAndGlyphs" >50</text>
<line x1="219.20" y1="385.20" x2="222.10" y2="385.20" stroke="#111" stroke-width="0.9" />
<text x="217.20" y="387.49" font-size="6.4" text-anchor="end" fill="#111" stroke="#111" stroke-width="0.22" textLength="6.00" lengthAdjust="spacingAndGlyphs" >60</text>
<line x1="226.85" y1="503.50" x2="226.85" y2="506.80" stroke="#111" stroke-width="0.9" />
<text x="225.85" y="515.22" font-size="6.2" text-anchor="middle" fill="#111" stroke="#111" stroke-width="0.22" >-4</text>
<line x1="257.95" y1="503.50" x2="257.95" y2="506.80" stroke="#111" stroke-width="0.9" />
<text x="256.95" y="515.22" font-size="6.2" text-anchor="middle" fill="#111" stroke="#111" stroke-width="0.22" >-2</text>
<line x1="289.05" y1="503.50" x2="289.05" y2="506.80" stroke="#111" stroke-width="0.9" />
<text x="289.05" y="515.22" font-size="6.2" text-anchor="middle" fill="#111" stroke="#111" stroke-width="0.22" >0</text>
<line x1="320.15" y1="503.50" x2="320.15" y2="506.80" stroke="#111" stroke-width="0.9" />
<text x="320.15" y="515.22" font-size="6.2" text-anchor="middle" fill="#111" stroke="#111" stroke-width="0.22" >2</text>
<line x1="351.25" y1="503.50" x2="351.25" y2="506.80" stroke="#111" stroke-width="0.9" />
<text x="351.25" y="515.22" font-size="6.2" text-anchor="middle" fill="#111" stroke="#111" stroke-width="0.22" >4</text>
<text x="225.80" y="394.09" font-size="5.0" text-anchor="start" fill="#111" stroke="#111" stroke-width="0.05" textLength="5.20" lengthAdjust="spacingAndGlyphs" >12</text>
<text x="341.80" y="393.89" font-size="5.0" text-anchor="start" fill="#111" stroke="#111" stroke-width="0.05" textLength="8.20" lengthAdjust="spacingAndGlyphs" >286</text>
<text x="314.10" y="401.06" font-size="5.2" text-anchor="start" fill="#111" stroke="#111" stroke-width="0.05" textLength="19.40" lengthAdjust="spacingAndGlyphs" >CDKN1A</text>
<text x="289.00" y="527.10" font-size="9.0" text-anchor="middle" fill="#111" stroke="#111" stroke-width="0.22" textLength="82.70" lengthAdjust="spacingAndGlyphs" >Diff in mean expression</text>
<text x="0" y="0" font-size="8.8" text-anchor="middle" fill="#111" stroke="#111" stroke-width="0.22" textLength="89.20" lengthAdjust="spacingAndGlyphs" transform="translate(193.20 444.20) rotate(-90)">Significance of difference</text>
<text x="0" y="0" font-size="8.8" text-anchor="middle" fill="#111" stroke="#111" stroke-width="0.22" textLength="58.60" lengthAdjust="spacingAndGlyphs" transform="translate(202.60 444.30) rotate(-90)">(-log10(p value))</text>
<defs><linearGradient id="gl" x1="0" x2="1" y1="0" y2="0"><stop offset="0" stop-color="#7d90cc"/><stop offset="1" stop-color="#e6ebf7"/></linearGradient><linearGradient id="gr" x1="0" x2="1" y1="0" y2="0"><stop offset="0" stop-color="#e6ebf7"/><stop offset="1" stop-color="#7d90cc"/></linearGradient></defs>
<path d="M246.9,532.0 L292.6,540.3 L246.9,540.5 Z" fill="url(#gl)" stroke="#3f5fa8" stroke-width="0.6"/>
<path d="M338.0,531.6 L292.6,540.3 L338.0,540.5 Z" fill="url(#gr)" stroke="#3f5fa8" stroke-width="0.6"/>
<text x="254.90" y="548.36" font-size="6.6" text-anchor="middle" fill="#111" stroke="#111" stroke-width="0.22" textLength="43.80" lengthAdjust="spacingAndGlyphs" >Underexpressed</text>
<text x="254.90" y="556.16" font-size="6.6" text-anchor="middle" fill="#111" stroke="#111" stroke-width="0.22" textLength="51.30" lengthAdjust="spacingAndGlyphs" >after Decitabine Tx</text>
<text x="323.00" y="548.36" font-size="6.6" text-anchor="middle" fill="#111" stroke="#111" stroke-width="0.22" textLength="36.00" lengthAdjust="spacingAndGlyphs" >Re-expressed</text>
<text x="322.70" y="556.16" font-size="6.6" text-anchor="middle" fill="#111" stroke="#111" stroke-width="0.22" textLength="51.00" lengthAdjust="spacingAndGlyphs" >after Decitabine Tx</text>
<line x1="0.00" y1="0.70" x2="520.00" y2="0.70" stroke="#000" stroke-width="1.4" />
<line x1="0.70" y1="0.00" x2="0.70" y2="564.00" stroke="#000" stroke-width="1.4" />
<line x1="518.50" y1="1.00" x2="518.50" y2="562.00" stroke="#6a6a6a" stroke-width="1.0" />
<line x1="519.50" y1="0.00" x2="519.50" y2="564.00" stroke="#1a1a1a" stroke-width="1.0" />
<line x1="1.00" y1="562.50" x2="518.00" y2="562.50" stroke="#555" stroke-width="1.0" />
<line x1="0.00" y1="563.50" x2="520.00" y2="563.50" stroke="#1a1a1a" stroke-width="1.0" />
</svg>
</body></html>
